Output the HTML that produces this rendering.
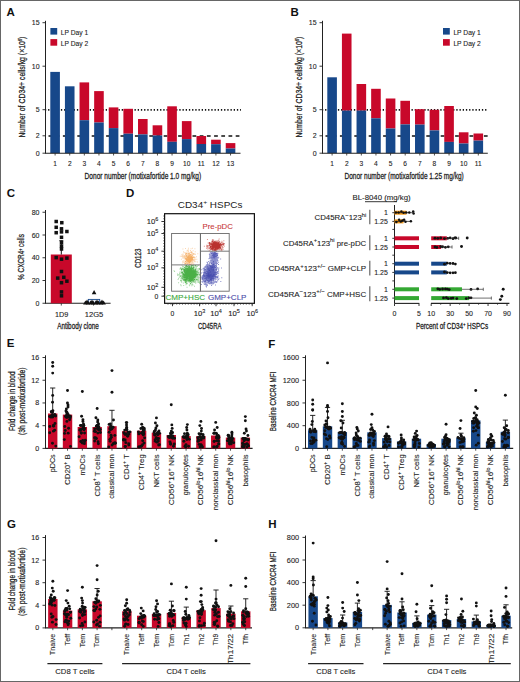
<!DOCTYPE html>
<html><head><meta charset="utf-8"><style>
html,body{margin:0;padding:0;background:#fff;}
svg{display:block;}
svg{font-family:"Liberation Sans",sans-serif;}
</style></head><body>
<svg width="520" height="682" viewBox="0 0 520 682">
<rect x="0" y="0" width="520" height="682" fill="#fff"/>
<g fill="#222">
<rect x="0.5" y="0.5" width="519" height="681" fill="none" stroke="#666" stroke-width="1"/>
<text x="6.6" y="16.3" font-size="11.5" font-weight="bold" fill="#111">A</text>
<line x1="45.5" y1="109.9" x2="241" y2="109.9" stroke="#111" stroke-width="1.7" stroke-dasharray="1.3 1.9" stroke-dashoffset="0.6"/>
<line x1="45.5" y1="135.9" x2="241" y2="135.9" stroke="#111" stroke-width="1.5" stroke-dasharray="3.75 3.45" stroke-dashoffset="4.2"/>
<line x1="45.5" y1="20.8" x2="45.5" y2="153.7" stroke="#222" stroke-width="1"/>
<rect x="50.3" y="71.9" width="9.6" height="81.3" fill="#17488a"/>
<line x1="55.1" y1="153.2" x2="55.1" y2="155.5" stroke="#222" stroke-width="0.8"/>
<text x="55.1" y="166.2" font-size="6.6" stroke="#222" stroke-width="0.1" text-anchor="middle">1</text>
<rect x="64.92" y="86.3" width="9.6" height="66.9" fill="#17488a"/>
<line x1="69.72" y1="153.2" x2="69.72" y2="155.5" stroke="#222" stroke-width="0.8"/>
<text x="69.72" y="166.2" font-size="6.6" stroke="#222" stroke-width="0.1" text-anchor="middle">2</text>
<rect x="79.54" y="82.4" width="9.6" height="37.8" fill="#c8082a"/>
<rect x="79.54" y="120.2" width="9.6" height="33" fill="#17488a"/>
<line x1="84.34" y1="153.2" x2="84.34" y2="155.5" stroke="#222" stroke-width="0.8"/>
<text x="84.34" y="166.2" font-size="6.6" stroke="#222" stroke-width="0.1" text-anchor="middle">3</text>
<rect x="94.16" y="91.1" width="9.6" height="31.4" fill="#c8082a"/>
<rect x="94.16" y="122.5" width="9.6" height="30.7" fill="#17488a"/>
<line x1="98.96" y1="153.2" x2="98.96" y2="155.5" stroke="#222" stroke-width="0.8"/>
<text x="98.96" y="166.2" font-size="6.6" stroke="#222" stroke-width="0.1" text-anchor="middle">4</text>
<rect x="108.78" y="107.4" width="9.6" height="20.7" fill="#c8082a"/>
<rect x="108.78" y="128.1" width="9.6" height="25.1" fill="#17488a"/>
<line x1="113.58" y1="153.2" x2="113.58" y2="155.5" stroke="#222" stroke-width="0.8"/>
<text x="113.58" y="166.2" font-size="6.6" stroke="#222" stroke-width="0.1" text-anchor="middle">5</text>
<rect x="123.4" y="108.8" width="9.6" height="24.9" fill="#c8082a"/>
<rect x="123.4" y="133.7" width="9.6" height="19.5" fill="#17488a"/>
<line x1="128.2" y1="153.2" x2="128.2" y2="155.5" stroke="#222" stroke-width="0.8"/>
<text x="128.2" y="166.2" font-size="6.6" stroke="#222" stroke-width="0.1" text-anchor="middle">6</text>
<rect x="138.02" y="119" width="9.6" height="15.4" fill="#c8082a"/>
<rect x="138.02" y="134.4" width="9.6" height="18.8" fill="#17488a"/>
<line x1="142.82" y1="153.2" x2="142.82" y2="155.5" stroke="#222" stroke-width="0.8"/>
<text x="142.82" y="166.2" font-size="6.6" stroke="#222" stroke-width="0.1" text-anchor="middle">7</text>
<rect x="152.64" y="125.3" width="9.6" height="10.2" fill="#c8082a"/>
<rect x="152.64" y="135.5" width="9.6" height="17.7" fill="#17488a"/>
<line x1="157.44" y1="153.2" x2="157.44" y2="155.5" stroke="#222" stroke-width="0.8"/>
<text x="157.44" y="166.2" font-size="6.6" stroke="#222" stroke-width="0.1" text-anchor="middle">8</text>
<rect x="167.26" y="106.3" width="9.6" height="35.5" fill="#c8082a"/>
<rect x="167.26" y="141.8" width="9.6" height="11.4" fill="#17488a"/>
<line x1="172.06" y1="153.2" x2="172.06" y2="155.5" stroke="#222" stroke-width="0.8"/>
<text x="172.06" y="166.2" font-size="6.6" stroke="#222" stroke-width="0.1" text-anchor="middle">9</text>
<rect x="181.88" y="121.1" width="9.6" height="18" fill="#c8082a"/>
<rect x="181.88" y="139.1" width="9.6" height="14.1" fill="#17488a"/>
<line x1="186.68" y1="153.2" x2="186.68" y2="155.5" stroke="#222" stroke-width="0.8"/>
<text x="186.68" y="166.2" font-size="6.6" stroke="#222" stroke-width="0.1" text-anchor="middle">10</text>
<rect x="196.5" y="136" width="9.6" height="8" fill="#c8082a"/>
<rect x="196.5" y="144" width="9.6" height="9.2" fill="#17488a"/>
<line x1="201.3" y1="153.2" x2="201.3" y2="155.5" stroke="#222" stroke-width="0.8"/>
<text x="201.3" y="166.2" font-size="6.6" stroke="#222" stroke-width="0.1" text-anchor="middle">11</text>
<rect x="211.12" y="139.7" width="9.6" height="4.5" fill="#c8082a"/>
<rect x="211.12" y="144.2" width="9.6" height="9" fill="#17488a"/>
<line x1="215.92" y1="153.2" x2="215.92" y2="155.5" stroke="#222" stroke-width="0.8"/>
<text x="215.92" y="166.2" font-size="6.6" stroke="#222" stroke-width="0.1" text-anchor="middle">12</text>
<rect x="225.74" y="143.1" width="9.6" height="5.4" fill="#c8082a"/>
<rect x="225.74" y="148.5" width="9.6" height="4.7" fill="#17488a"/>
<line x1="230.54" y1="153.2" x2="230.54" y2="155.5" stroke="#222" stroke-width="0.8"/>
<text x="230.54" y="166.2" font-size="6.6" stroke="#222" stroke-width="0.1" text-anchor="middle">13</text>
<line x1="45.5" y1="153.2" x2="240.5" y2="153.2" stroke="#222" stroke-width="1.1"/>
<line x1="42.5" y1="22.7" x2="45.5" y2="22.7" stroke="#222" stroke-width="0.9"/>
<text x="39.6" y="25.2" font-size="7" stroke="#222" stroke-width="0.1" text-anchor="end">15</text>
<line x1="42.5" y1="66.2" x2="45.5" y2="66.2" stroke="#222" stroke-width="0.9"/>
<text x="39.6" y="68.7" font-size="7" stroke="#222" stroke-width="0.1" text-anchor="end">10</text>
<line x1="42.5" y1="109.7" x2="45.5" y2="109.7" stroke="#222" stroke-width="0.9"/>
<text x="39.6" y="112.2" font-size="7" stroke="#222" stroke-width="0.1" text-anchor="end">5</text>
<line x1="42.5" y1="135.8" x2="45.5" y2="135.8" stroke="#222" stroke-width="0.9"/>
<text x="39.6" y="138.3" font-size="7" stroke="#222" stroke-width="0.1" text-anchor="end">2</text>
<line x1="42.5" y1="153.2" x2="45.5" y2="153.2" stroke="#222" stroke-width="0.9"/>
<text x="39.6" y="155.7" font-size="7" stroke="#222" stroke-width="0.1" text-anchor="end">0</text>
<text x="25.2" y="87.1" font-size="9.2" stroke="#222" stroke-width="0.26" text-anchor="middle" textLength="101" lengthAdjust="spacingAndGlyphs" transform="rotate(-90 25.2 87.1)">Number of CD34+ cells/kg (×10<tspan dy="-3.38" font-size="5.5">6</tspan><tspan dy="3.38">)</tspan></text>
<text x="84.6" y="179.1" font-size="8.6" stroke="#222" stroke-width="0.26" textLength="116.6" lengthAdjust="spacingAndGlyphs">Donor number (motixafortide 1.0 mg/kg)</text>
<rect x="50.4" y="28" width="6.8" height="6.6" fill="#17488a"/>
<rect x="50.4" y="39.1" width="6.8" height="6.6" fill="#c8082a"/>
<text x="60.8" y="34.6" font-size="7.3" stroke="#222" stroke-width="0.1" textLength="27.4" lengthAdjust="spacingAndGlyphs">LP Day 1</text>
<text x="60.8" y="45.6" font-size="7.3" stroke="#222" stroke-width="0.1" textLength="27.4" lengthAdjust="spacingAndGlyphs">LP Day 2</text>
<text x="290.6" y="15.7" font-size="11.5" font-weight="bold" fill="#111">B</text>
<line x1="322.5" y1="109.9" x2="488.3" y2="109.9" stroke="#111" stroke-width="1.7" stroke-dasharray="1.3 1.9" stroke-dashoffset="0.6"/>
<line x1="322.5" y1="135.9" x2="488.3" y2="135.9" stroke="#111" stroke-width="1.5" stroke-dasharray="3.75 3.45" stroke-dashoffset="4.2"/>
<line x1="322.5" y1="20.8" x2="322.5" y2="153.7" stroke="#222" stroke-width="1"/>
<rect x="327.3" y="77.3" width="9.6" height="75.9" fill="#17488a"/>
<line x1="332.1" y1="153.2" x2="332.1" y2="155.5" stroke="#222" stroke-width="0.8"/>
<text x="332.1" y="166.2" font-size="6.6" stroke="#222" stroke-width="0.1" text-anchor="middle">1</text>
<rect x="341.92" y="33.6" width="9.6" height="77" fill="#c8082a"/>
<rect x="341.92" y="110.6" width="9.6" height="42.6" fill="#17488a"/>
<line x1="346.72" y1="153.2" x2="346.72" y2="155.5" stroke="#222" stroke-width="0.8"/>
<text x="346.72" y="166.2" font-size="6.6" stroke="#222" stroke-width="0.1" text-anchor="middle">2</text>
<rect x="356.54" y="84" width="9.6" height="26.6" fill="#c8082a"/>
<rect x="356.54" y="110.6" width="9.6" height="42.6" fill="#17488a"/>
<line x1="361.34" y1="153.2" x2="361.34" y2="155.5" stroke="#222" stroke-width="0.8"/>
<text x="361.34" y="166.2" font-size="6.6" stroke="#222" stroke-width="0.1" text-anchor="middle">3</text>
<rect x="371.16" y="88.8" width="9.6" height="29.5" fill="#c8082a"/>
<rect x="371.16" y="118.3" width="9.6" height="34.9" fill="#17488a"/>
<line x1="375.96" y1="153.2" x2="375.96" y2="155.5" stroke="#222" stroke-width="0.8"/>
<text x="375.96" y="166.2" font-size="6.6" stroke="#222" stroke-width="0.1" text-anchor="middle">4</text>
<rect x="385.78" y="98.5" width="9.6" height="30" fill="#c8082a"/>
<rect x="385.78" y="128.5" width="9.6" height="24.7" fill="#17488a"/>
<line x1="390.58" y1="153.2" x2="390.58" y2="155.5" stroke="#222" stroke-width="0.8"/>
<text x="390.58" y="166.2" font-size="6.6" stroke="#222" stroke-width="0.1" text-anchor="middle">5</text>
<rect x="400.4" y="100.8" width="9.6" height="23.6" fill="#c8082a"/>
<rect x="400.4" y="124.4" width="9.6" height="28.8" fill="#17488a"/>
<line x1="405.2" y1="153.2" x2="405.2" y2="155.5" stroke="#222" stroke-width="0.8"/>
<text x="405.2" y="166.2" font-size="6.6" stroke="#222" stroke-width="0.1" text-anchor="middle">6</text>
<rect x="415.02" y="109.2" width="9.6" height="15.4" fill="#c8082a"/>
<rect x="415.02" y="124.6" width="9.6" height="28.6" fill="#17488a"/>
<line x1="419.82" y1="153.2" x2="419.82" y2="155.5" stroke="#222" stroke-width="0.8"/>
<text x="419.82" y="166.2" font-size="6.6" stroke="#222" stroke-width="0.1" text-anchor="middle">7</text>
<rect x="429.64" y="109.8" width="9.6" height="20.6" fill="#c8082a"/>
<rect x="429.64" y="130.4" width="9.6" height="22.8" fill="#17488a"/>
<line x1="434.44" y1="153.2" x2="434.44" y2="155.5" stroke="#222" stroke-width="0.8"/>
<text x="434.44" y="166.2" font-size="6.6" stroke="#222" stroke-width="0.1" text-anchor="middle">8</text>
<rect x="444.26" y="106" width="9.6" height="35.9" fill="#c8082a"/>
<rect x="444.26" y="141.9" width="9.6" height="11.3" fill="#17488a"/>
<line x1="449.06" y1="153.2" x2="449.06" y2="155.5" stroke="#222" stroke-width="0.8"/>
<text x="449.06" y="166.2" font-size="6.6" stroke="#222" stroke-width="0.1" text-anchor="middle">9</text>
<rect x="458.88" y="132.3" width="9.6" height="11.2" fill="#c8082a"/>
<rect x="458.88" y="143.5" width="9.6" height="9.7" fill="#17488a"/>
<line x1="463.68" y1="153.2" x2="463.68" y2="155.5" stroke="#222" stroke-width="0.8"/>
<text x="463.68" y="166.2" font-size="6.6" stroke="#222" stroke-width="0.1" text-anchor="middle">10</text>
<rect x="473.5" y="133.5" width="9.6" height="7.1" fill="#c8082a"/>
<rect x="473.5" y="140.6" width="9.6" height="12.6" fill="#17488a"/>
<line x1="478.3" y1="153.2" x2="478.3" y2="155.5" stroke="#222" stroke-width="0.8"/>
<text x="478.3" y="166.2" font-size="6.6" stroke="#222" stroke-width="0.1" text-anchor="middle">11</text>
<line x1="322.5" y1="153.2" x2="487.8" y2="153.2" stroke="#222" stroke-width="1.1"/>
<line x1="319.5" y1="22.7" x2="322.5" y2="22.7" stroke="#222" stroke-width="0.9"/>
<text x="316.6" y="25.2" font-size="7" stroke="#222" stroke-width="0.1" text-anchor="end">15</text>
<line x1="319.5" y1="66.2" x2="322.5" y2="66.2" stroke="#222" stroke-width="0.9"/>
<text x="316.6" y="68.7" font-size="7" stroke="#222" stroke-width="0.1" text-anchor="end">10</text>
<line x1="319.5" y1="109.7" x2="322.5" y2="109.7" stroke="#222" stroke-width="0.9"/>
<text x="316.6" y="112.2" font-size="7" stroke="#222" stroke-width="0.1" text-anchor="end">5</text>
<line x1="319.5" y1="135.8" x2="322.5" y2="135.8" stroke="#222" stroke-width="0.9"/>
<text x="316.6" y="138.3" font-size="7" stroke="#222" stroke-width="0.1" text-anchor="end">2</text>
<line x1="319.5" y1="153.2" x2="322.5" y2="153.2" stroke="#222" stroke-width="0.9"/>
<text x="316.6" y="155.7" font-size="7" stroke="#222" stroke-width="0.1" text-anchor="end">0</text>
<text x="302.2" y="87.1" font-size="9.2" stroke="#222" stroke-width="0.26" text-anchor="middle" textLength="101" lengthAdjust="spacingAndGlyphs" transform="rotate(-90 302.2 87.1)">Number of CD34+ cells/kg (×10<tspan dy="-3.38" font-size="5.5">6</tspan><tspan dy="3.38">)</tspan></text>
<text x="344.5" y="179.1" font-size="8.6" stroke="#222" stroke-width="0.26" textLength="119.3" lengthAdjust="spacingAndGlyphs">Donor number (motixafortide 1.25 mg/kg)</text>
<rect x="443" y="28" width="6.8" height="6.6" fill="#17488a"/>
<rect x="443" y="39.1" width="6.8" height="6.6" fill="#c8082a"/>
<text x="453.4" y="34.6" font-size="7.3" stroke="#222" stroke-width="0.1" textLength="27.4" lengthAdjust="spacingAndGlyphs">LP Day 1</text>
<text x="453.4" y="45.6" font-size="7.3" stroke="#222" stroke-width="0.1" textLength="27.4" lengthAdjust="spacingAndGlyphs">LP Day 2</text>
<text x="6.7" y="197.3" font-size="11.5" font-weight="bold" fill="#111">C</text>
<line x1="45.5" y1="210" x2="45.5" y2="303.75" stroke="#222" stroke-width="1"/>
<line x1="45.5" y1="303.25" x2="110.6" y2="303.25" stroke="#222" stroke-width="1.1"/>
<line x1="42.5" y1="212.25" x2="45.5" y2="212.25" stroke="#222" stroke-width="0.9"/>
<text x="39.5" y="214.75" font-size="7" stroke="#222" stroke-width="0.1" text-anchor="end">80</text>
<line x1="42.5" y1="235" x2="45.5" y2="235" stroke="#222" stroke-width="0.9"/>
<text x="39.5" y="237.5" font-size="7" stroke="#222" stroke-width="0.1" text-anchor="end">60</text>
<line x1="42.5" y1="257.75" x2="45.5" y2="257.75" stroke="#222" stroke-width="0.9"/>
<text x="39.5" y="260.25" font-size="7" stroke="#222" stroke-width="0.1" text-anchor="end">40</text>
<line x1="42.5" y1="280.5" x2="45.5" y2="280.5" stroke="#222" stroke-width="0.9"/>
<text x="39.5" y="283" font-size="7" stroke="#222" stroke-width="0.1" text-anchor="end">20</text>
<line x1="42.5" y1="303.25" x2="45.5" y2="303.25" stroke="#222" stroke-width="0.9"/>
<text x="39.5" y="305.75" font-size="7" stroke="#222" stroke-width="0.1" text-anchor="end">0</text>
<rect x="50.8" y="254.5" width="21" height="48.75" fill="#c8082a"/>
<line x1="61.3" y1="254.5" x2="61.3" y2="240.5" stroke="#111" stroke-width="1"/>
<line x1="59.3" y1="240.7" x2="63.3" y2="240.7" stroke="#111" stroke-width="1"/>
<rect x="54.45" y="219.75" width="3.5" height="3.5" fill="#111"/>
<rect x="60.05" y="220.95" width="3.5" height="3.5" fill="#111"/>
<rect x="54.45" y="225.55" width="3.5" height="3.5" fill="#111"/>
<rect x="59.75" y="227.05" width="3.5" height="3.5" fill="#111"/>
<rect x="54.45" y="230.95" width="3.5" height="3.5" fill="#111"/>
<rect x="59.75" y="230.15" width="3.5" height="3.5" fill="#111"/>
<rect x="65.15" y="229.75" width="3.5" height="3.5" fill="#111"/>
<rect x="59.75" y="235.55" width="3.5" height="3.5" fill="#111"/>
<rect x="59.75" y="240.95" width="3.5" height="3.5" fill="#111"/>
<rect x="59.75" y="244.45" width="3.5" height="3.5" fill="#111"/>
<rect x="59.75" y="247.25" width="3.5" height="3.5" fill="#111"/>
<rect x="54.45" y="255.85" width="3.5" height="3.5" fill="#111"/>
<rect x="59.75" y="257.45" width="3.5" height="3.5" fill="#111"/>
<rect x="65.15" y="256.35" width="3.5" height="3.5" fill="#111"/>
<rect x="59.75" y="269.75" width="3.5" height="3.5" fill="#111"/>
<rect x="55.95" y="276.35" width="3.5" height="3.5" fill="#111"/>
<rect x="62.05" y="275.55" width="3.5" height="3.5" fill="#111"/>
<rect x="59.75" y="280.95" width="3.5" height="3.5" fill="#111"/>
<rect x="65.15" y="279.45" width="3.5" height="3.5" fill="#111"/>
<rect x="59.75" y="290.15" width="3.5" height="3.5" fill="#111"/>
<rect x="59.75" y="294.05" width="3.5" height="3.5" fill="#111"/>
<line x1="61.3" y1="303.25" x2="61.3" y2="305.55" stroke="#222" stroke-width="0.8"/>
<line x1="93.5" y1="303.25" x2="93.5" y2="305.55" stroke="#222" stroke-width="0.8"/>
<rect x="88.3" y="299.4" width="11.4" height="3.8" fill="#e8eef8" stroke="#17488a" stroke-width="0.9"/>
<path d="M83.1 304.6 l2.3 -4 l2.3 4z" fill="#111"/>
<path d="M85.7 304.6 l2.3 -4 l2.3 4z" fill="#111"/>
<path d="M88.3 304.6 l2.3 -4 l2.3 4z" fill="#111"/>
<path d="M90.9 304.6 l2.3 -4 l2.3 4z" fill="#111"/>
<path d="M93.5 304.6 l2.3 -4 l2.3 4z" fill="#111"/>
<path d="M96.1 304.6 l2.3 -4 l2.3 4z" fill="#111"/>
<path d="M98.7 304.6 l2.3 -4 l2.3 4z" fill="#111"/>
<path d="M101.3 304.6 l2.3 -4 l2.3 4z" fill="#111"/>
<path d="M84.8 303.4 l2.2 -3.8 l2.2 3.8z" fill="#111"/>
<path d="M89.8 303.4 l2.2 -3.8 l2.2 3.8z" fill="#111"/>
<path d="M94.8 303.4 l2.2 -3.8 l2.2 3.8z" fill="#111"/>
<path d="M99.8 303.4 l2.2 -3.8 l2.2 3.8z" fill="#111"/>
<path d="M91.8 294.3 l2.3 -4.2 l2.3 4.2z" fill="#111"/>
<text x="61.6" y="316.6" font-size="7" stroke="#222" stroke-width="0.1" text-anchor="middle" textLength="13.3" lengthAdjust="spacingAndGlyphs">1D9</text>
<text x="94" y="316.6" font-size="7" stroke="#222" stroke-width="0.1" text-anchor="middle" textLength="18.6" lengthAdjust="spacingAndGlyphs">12G5</text>
<text x="57.2" y="328.6" font-size="8.6" stroke="#222" stroke-width="0.26" textLength="41.6" lengthAdjust="spacingAndGlyphs">Antibody clone</text>
<text x="24.4" y="257" font-size="8.8" stroke="#222" stroke-width="0.26" text-anchor="middle" textLength="45.8" lengthAdjust="spacingAndGlyphs" transform="rotate(-90 24.4 257)">% CXCR4<tspan dy="-2.86" font-size="5">+</tspan><tspan dy="2.86"> cells</tspan></text>
<text x="126" y="197.1" font-size="11.5" font-weight="bold" fill="#111">D</text>
<text x="177.8" y="208.2" font-size="8.8" textLength="64.6" lengthAdjust="spacingAndGlyphs">CD34<tspan dy="-3.9" font-size="6">+</tspan><tspan dy="3.9"> HSPCs</tspan></text>
<rect x="164.6" y="213.7" width="89.8" height="89.6" fill="none" stroke="#111" stroke-width="1.2"/>
<defs><clipPath id="cO"><rect x="171.6" y="233.5" width="28.8" height="31.4"/></clipPath><clipPath id="cG"><rect x="168" y="264.9" width="32.4" height="28"/></clipPath><clipPath id="cR"><rect x="200.4" y="233.5" width="28.8" height="17.7"/></clipPath><clipPath id="cB"><rect x="200.4" y="251.2" width="28.8" height="42"/></clipPath></defs>
<path d="M187.68 259.34h1v1h-1zM187.78 256.37h1v1h-1zM185.52 256.73h1v1h-1zM192.06 259.03h1v1h-1zM191.82 258.4h1v1h-1zM189.76 258.17h1v1h-1zM183.17 260.58h1v1h-1zM190.12 259.3h1v1h-1zM183.09 251.22h1v1h-1zM185.65 255.81h1v1h-1zM189.48 257.33h1v1h-1zM190.17 255.19h1v1h-1zM189.49 258.92h1v1h-1zM186.38 263.68h1v1h-1zM190.28 261.81h1v1h-1zM186.51 254.84h1v1h-1zM187.4 257.12h1v1h-1zM190.52 258.39h1v1h-1zM187.07 254.06h1v1h-1zM186.83 261.9h1v1h-1zM185.91 258.38h1v1h-1zM189.86 252.14h1v1h-1zM188.66 262.2h1v1h-1zM182.05 256.34h1v1h-1zM188.16 254.56h1v1h-1zM190.09 257.28h1v1h-1zM183.81 260.48h1v1h-1zM190.64 260.91h1v1h-1zM193.11 258.8h1v1h-1zM188.88 252.82h1v1h-1zM190.47 255.3h1v1h-1zM187.05 252.95h1v1h-1zM185.4 255.59h1v1h-1zM192.62 250.19h1v1h-1zM183.84 258.36h1v1h-1zM193.12 259.58h1v1h-1zM182.42 248.43h1v1h-1zM189.64 254.85h1v1h-1zM184.92 261.02h1v1h-1zM192.03 258.07h1v1h-1zM189.29 259.06h1v1h-1zM193.6 259.73h1v1h-1zM190.16 259.47h1v1h-1zM183.48 262.11h1v1h-1zM191.56 259.41h1v1h-1zM182.18 255.22h1v1h-1zM191.2 250.98h1v1h-1zM187.91 261.17h1v1h-1zM184.3 263.3h1v1h-1zM190.27 256.96h1v1h-1zM189.54 259.84h1v1h-1zM188.89 261.62h1v1h-1zM186.38 256.01h1v1h-1zM191.83 257.6h1v1h-1zM185.68 260.91h1v1h-1zM193.19 255.9h1v1h-1zM184.08 257.01h1v1h-1zM188.02 256.43h1v1h-1zM193 253.8h1v1h-1zM192.53 252.93h1v1h-1zM185.98 259.77h1v1h-1zM192.11 260.59h1v1h-1zM189.6 258.01h1v1h-1zM188.99 259.57h1v1h-1zM187.94 258.5h1v1h-1zM190.33 257.5h1v1h-1zM190.94 259.54h1v1h-1zM194.93 258.67h1v1h-1zM187.13 256.16h1v1h-1zM188.46 260.83h1v1h-1zM187.42 258.89h1v1h-1zM194.38 248.27h1v1h-1zM184.9 258.38h1v1h-1zM189.77 258.36h1v1h-1zM187.12 259.86h1v1h-1zM189.4 255.62h1v1h-1zM196.28 258.78h1v1h-1zM186.73 257.14h1v1h-1zM187.78 257.27h1v1h-1zM179.77 255.75h1v1h-1zM191.73 253.29h1v1h-1zM188.29 260.93h1v1h-1zM191.24 262.87h1v1h-1zM183.06 256.23h1v1h-1zM187.41 259.74h1v1h-1zM191.99 247.84h1v1h-1zM191.98 252.29h1v1h-1zM190.69 252.13h1v1h-1zM189.06 261.8h1v1h-1zM188.02 258.19h1v1h-1zM191.05 258.01h1v1h-1zM188.22 263.02h1v1h-1zM191.86 256.44h1v1h-1zM197.29 253.37h1v1h-1zM191.43 256.54h1v1h-1zM188.92 260.04h1v1h-1zM189.21 259.8h1v1h-1zM183.61 252.07h1v1h-1zM190.47 254.03h1v1h-1zM185.21 252.21h1v1h-1zM192.55 260.19h1v1h-1zM193.21 254.12h1v1h-1zM188.5 253.39h1v1h-1zM190.95 263.22h1v1h-1zM185.65 263.12h1v1h-1zM191.66 256.86h1v1h-1zM182.19 262.56h1v1h-1zM188.19 255.33h1v1h-1zM189.78 258.98h1v1h-1zM193.29 253.83h1v1h-1zM192.14 262.85h1v1h-1zM193.15 256.85h1v1h-1zM186.12 261.17h1v1h-1zM188.87 257.95h1v1h-1zM193.06 256.55h1v1h-1zM181.15 256.11h1v1h-1zM182.57 260.45h1v1h-1zM189.51 255.3h1v1h-1zM188.47 260.5h1v1h-1zM188.75 262.28h1v1h-1zM188.3 261.25h1v1h-1zM193.27 263.3h1v1h-1zM186.35 260.67h1v1h-1zM182.5 253.6h1v1h-1zM182.22 261.35h1v1h-1zM184.56 257.45h1v1h-1zM187.88 257.4h1v1h-1zM186.61 258.34h1v1h-1zM194.23 257.66h1v1h-1zM190.2 261.1h1v1h-1zM187.87 252.97h1v1h-1zM186.72 261.36h1v1h-1zM183.23 255.35h1v1h-1zM191.72 260.35h1v1h-1zM188.52 260.4h1v1h-1zM189.03 253.26h1v1h-1zM183.5 255.2h1v1h-1zM191.45 255.46h1v1h-1zM185.61 254.72h1v1h-1zM183.6 257.08h1v1h-1zM184.73 258.81h1v1h-1zM180.95 258.68h1v1h-1zM186.45 250.51h1v1h-1zM190.82 256.51h1v1h-1zM181.36 254.35h1v1h-1zM189.43 255.85h1v1h-1zM191 260.19h1v1h-1zM190.63 258.68h1v1h-1zM192.77 259.88h1v1h-1zM189.94 250h1v1h-1zM191.37 262.21h1v1h-1zM187.55 255.81h1v1h-1zM194.71 251.17h1v1h-1zM190 266.23h1v1h-1zM185.53 259.98h1v1h-1zM194.54 257.07h1v1h-1zM190.3 260.75h1v1h-1zM185.6 257.18h1v1h-1zM189.44 260.47h1v1h-1zM188.39 256.8h1v1h-1zM185.25 256.21h1v1h-1zM191.35 257.87h1v1h-1zM185.77 254.47h1v1h-1zM197.03 261.6h1v1h-1zM190.54 248.17h1v1h-1zM190.49 259.23h1v1h-1zM193.89 259.04h1v1h-1zM188.28 259.38h1v1h-1zM182.28 261.22h1v1h-1zM189.54 254.97h1v1h-1zM192.74 264.01h1v1h-1zM184.01 255.1h1v1h-1zM189.43 258.16h1v1h-1zM187.22 253.99h1v1h-1zM195.29 261.23h1v1h-1zM184.68 252.66h1v1h-1zM193.95 261.06h1v1h-1zM194.33 260.42h1v1h-1zM185.71 258.44h1v1h-1zM181.59 254.81h1v1h-1zM188.31 259.38h1v1h-1zM186.17 257.05h1v1h-1zM189.97 258.86h1v1h-1zM190.54 258.25h1v1h-1zM187.46 260.34h1v1h-1zM188.66 254.53h1v1h-1zM186.5 257.5h1v1h-1zM188.15 258.07h1v1h-1zM188.5 258.13h1v1h-1zM188.07 252.97h1v1h-1zM189.85 261.29h1v1h-1zM189.89 256.82h1v1h-1zM189.93 254.02h1v1h-1zM182.43 257.71h1v1h-1zM185.52 260.16h1v1h-1zM185.03 248.04h1v1h-1zM185.17 263.18h1v1h-1zM187.28 252.57h1v1h-1zM186.06 259.38h1v1h-1zM190.09 258.14h1v1h-1zM193.25 260.04h1v1h-1zM188.43 259.65h1v1h-1zM193.79 261h1v1h-1zM191.78 253.6h1v1h-1zM188.03 260.13h1v1h-1zM187.55 261.35h1v1h-1zM190.41 260.77h1v1h-1zM187.82 266.67h1v1h-1zM192.47 256.72h1v1h-1zM188.79 266.84h1v1h-1zM187.4 260.65h1v1h-1zM191.64 257.52h1v1h-1zM184.77 258.18h1v1h-1zM189.65 261.57h1v1h-1zM191.01 257.59h1v1h-1zM191.23 259.44h1v1h-1zM189.16 257.7h1v1h-1zM187.72 259.97h1v1h-1zM185.13 255.24h1v1h-1zM188.52 252.23h1v1h-1zM187.11 250.27h1v1h-1zM186.31 259.55h1v1h-1zM190.31 257.3h1v1h-1zM187.76 252.4h1v1h-1zM194.35 259.36h1v1h-1zM192 254.32h1v1h-1zM187.91 250.95h1v1h-1zM191 260.87h1v1h-1zM182.43 257.31h1v1h-1zM190.52 251.16h1v1h-1zM182.66 253.67h1v1h-1zM186.49 252.45h1v1h-1zM188.6 258.4h1v1h-1zM190.53 260.03h1v1h-1zM193.31 261.69h1v1h-1zM184.3 255.68h1v1h-1zM185.11 253.62h1v1h-1zM188.24 257.52h1v1h-1zM190.07 251.79h1v1h-1zM184.54 257.42h1v1h-1zM187.86 256.38h1v1h-1zM188.3 254.76h1v1h-1zM190.74 258.78h1v1h-1zM188.22 255.08h1v1h-1zM187.94 247.7h1v1h-1zM185.36 257.63h1v1h-1zM183.69 258.22h1v1h-1zM188.97 252.54h1v1h-1zM187.7 256.37h1v1h-1zM189.97 259.7h1v1h-1zM188.38 254.44h1v1h-1zM188.04 257.26h1v1h-1zM190.85 258.56h1v1h-1zM186.19 252.62h1v1h-1zM187.31 254.83h1v1h-1zM184.94 257.08h1v1h-1zM186.93 257.88h1v1h-1zM190.17 256.01h1v1h-1zM195.94 256.34h1v1h-1zM192.03 257.94h1v1h-1z" fill="#f6b06a" fill-opacity="0.5" clip-path="url(#cO)"/>
<path d="M190.96 252.32h1v1h-1zM186.85 259.14h1v1h-1zM189.83 264.57h1v1h-1zM189.21 261.83h1v1h-1zM190.19 260.96h1v1h-1zM189.62 258.09h1v1h-1zM189.62 255.7h1v1h-1zM191.1 255.86h1v1h-1zM189.05 264.01h1v1h-1zM188.01 258.55h1v1h-1zM191.06 258.57h1v1h-1zM186.72 259.17h1v1h-1zM189.78 260.35h1v1h-1zM186.8 263.06h1v1h-1zM192.17 258.55h1v1h-1zM189.09 257.39h1v1h-1zM191.61 256.67h1v1h-1zM189.98 257.25h1v1h-1zM186.97 260.37h1v1h-1zM191.43 258.47h1v1h-1zM187.01 260.61h1v1h-1zM188.39 259.31h1v1h-1zM191.85 261.44h1v1h-1zM187.36 264.44h1v1h-1zM188.51 260.54h1v1h-1zM187.08 258.38h1v1h-1zM184.65 263.15h1v1h-1zM191.5 255.34h1v1h-1zM185.19 254.29h1v1h-1zM191.09 257.31h1v1h-1zM188.37 257.69h1v1h-1zM188.23 255.67h1v1h-1zM188.55 254.76h1v1h-1zM188.34 259.3h1v1h-1zM189.53 257.9h1v1h-1zM186.51 258.91h1v1h-1zM187.43 262.57h1v1h-1zM190.19 258.2h1v1h-1zM187.46 256.67h1v1h-1zM186.44 257.58h1v1h-1zM189.15 259.84h1v1h-1zM189.75 263.96h1v1h-1zM186.95 258.53h1v1h-1zM194.65 253.65h1v1h-1zM187.35 258.94h1v1h-1zM188.84 259.56h1v1h-1zM187.97 259.45h1v1h-1zM188.62 260.51h1v1h-1zM184.34 256.2h1v1h-1zM188.5 255.82h1v1h-1zM186.2 260.13h1v1h-1zM187.07 260.15h1v1h-1zM190.14 259.3h1v1h-1zM189.62 258.23h1v1h-1zM185.4 258.42h1v1h-1zM189.5 257.12h1v1h-1zM188.28 260.45h1v1h-1zM186.57 260.16h1v1h-1zM192.6 257.06h1v1h-1zM188.82 258.11h1v1h-1zM191.89 259.32h1v1h-1zM190.48 256.71h1v1h-1zM188.46 258.47h1v1h-1zM184.59 262.25h1v1h-1zM190.48 253.95h1v1h-1zM190.14 258.16h1v1h-1zM189.49 259.45h1v1h-1zM185.2 257.95h1v1h-1zM191.78 257.01h1v1h-1zM186.25 254.97h1v1h-1zM185.81 259.37h1v1h-1zM192.22 259.62h1v1h-1zM189.04 264.31h1v1h-1zM187.36 256.75h1v1h-1zM189.66 259.93h1v1h-1zM186.27 255.46h1v1h-1zM189.14 259.14h1v1h-1zM185.62 257.97h1v1h-1zM187.31 259.7h1v1h-1zM188.24 258.28h1v1h-1zM187.72 261.24h1v1h-1zM191.56 257.55h1v1h-1zM190.36 256.53h1v1h-1zM188.66 260.45h1v1h-1zM191.83 257.51h1v1h-1zM188.34 259.01h1v1h-1zM185.2 258.54h1v1h-1zM187.01 259.47h1v1h-1zM186.01 253.36h1v1h-1zM188.58 259.18h1v1h-1zM187.29 260.81h1v1h-1zM187.9 256.93h1v1h-1zM189.55 254.42h1v1h-1zM187.01 258.45h1v1h-1zM190.37 258.08h1v1h-1zM189.18 256.8h1v1h-1zM189.16 262.83h1v1h-1zM186.99 264.65h1v1h-1zM187.08 258.54h1v1h-1zM188.88 261.16h1v1h-1zM185.78 253.04h1v1h-1zM189.83 260.57h1v1h-1zM189.87 265.34h1v1h-1zM188.95 259.16h1v1h-1zM190.54 259.46h1v1h-1zM192.16 255.28h1v1h-1zM187.67 249.54h1v1h-1zM190.29 257.53h1v1h-1zM190.53 264.1h1v1h-1zM188.49 257.84h1v1h-1zM187.4 256.32h1v1h-1zM187.11 260.16h1v1h-1zM188.58 258.67h1v1h-1zM188.12 260.88h1v1h-1zM189.59 258.13h1v1h-1zM189.96 258.11h1v1h-1zM185.96 262.28h1v1h-1zM189.52 256.01h1v1h-1zM190.87 259.4h1v1h-1zM185.06 262.69h1v1h-1zM189.23 260.82h1v1h-1zM188.94 258.11h1v1h-1zM185.09 261.03h1v1h-1zM188.57 257.76h1v1h-1zM189.27 258.7h1v1h-1zM189.99 257.54h1v1h-1zM188.42 252.94h1v1h-1zM187.57 260.26h1v1h-1zM191.44 257.55h1v1h-1zM188.23 262.62h1v1h-1zM187.78 260.41h1v1h-1zM192.19 258.6h1v1h-1zM191.2 256.65h1v1h-1zM188.96 258.3h1v1h-1zM188.75 261.44h1v1h-1zM193.76 256.77h1v1h-1zM187.23 259.79h1v1h-1zM186.18 259.79h1v1h-1zM189.76 257.78h1v1h-1zM189.67 254.47h1v1h-1zM190.17 254.48h1v1h-1zM186.97 257.05h1v1h-1zM187.62 260.73h1v1h-1zM188.68 257.47h1v1h-1zM189.7 262.61h1v1h-1zM188.51 259.45h1v1h-1zM191.23 259.2h1v1h-1zM185.68 264.97h1v1h-1zM193.36 253.34h1v1h-1zM188.41 259.58h1v1h-1zM190.62 260.24h1v1h-1zM187.9 255.76h1v1h-1zM188.73 261.19h1v1h-1zM186.1 255.83h1v1h-1zM188.45 253.46h1v1h-1zM187.93 257.37h1v1h-1zM189.49 256.68h1v1h-1zM186.56 257.48h1v1h-1zM188.39 256.77h1v1h-1zM188.53 260.45h1v1h-1z" fill="#f0922e" fill-opacity="0.6" clip-path="url(#cO)"/>
<path d="M194.95 281.5h1v1h-1zM185.9 272.15h1v1h-1zM178.08 282.36h1v1h-1zM186.17 273.85h1v1h-1zM191.9 268.02h1v1h-1zM191.63 273.88h1v1h-1zM181.1 275.28h1v1h-1zM194.99 265.78h1v1h-1zM193.21 274.92h1v1h-1zM191.68 275.94h1v1h-1zM195.5 273.02h1v1h-1zM193.52 272.2h1v1h-1zM192.85 270.42h1v1h-1zM189 281.62h1v1h-1zM191.55 273.3h1v1h-1zM184.23 270.52h1v1h-1zM190.39 278.13h1v1h-1zM191.46 276.31h1v1h-1zM189.31 279.95h1v1h-1zM187.7 271.58h1v1h-1zM193.59 274.28h1v1h-1zM188.22 271.47h1v1h-1zM188.32 276.74h1v1h-1zM191.13 268.68h1v1h-1zM191.46 274.79h1v1h-1zM184.9 277.4h1v1h-1zM188.21 272.52h1v1h-1zM193.16 279.81h1v1h-1zM186.33 275.93h1v1h-1zM185.47 284.18h1v1h-1zM187.23 279.26h1v1h-1zM186.52 277.57h1v1h-1zM199.71 262.82h1v1h-1zM187.5 276.2h1v1h-1zM189.07 271.06h1v1h-1zM199.4 274.35h1v1h-1zM181.94 277.76h1v1h-1zM181.58 279.06h1v1h-1zM186.84 274.64h1v1h-1zM195.3 274.52h1v1h-1zM183.1 266.54h1v1h-1zM194.94 277.26h1v1h-1zM185.75 277.78h1v1h-1zM191.78 276.85h1v1h-1zM179.11 272.67h1v1h-1zM193.64 277.23h1v1h-1zM193.55 263.19h1v1h-1zM190.28 276.17h1v1h-1zM201.24 269.8h1v1h-1zM187.99 274.16h1v1h-1zM193.58 272.05h1v1h-1zM194.78 270.53h1v1h-1zM190.73 271.68h1v1h-1zM190.23 270.96h1v1h-1zM182.15 278.81h1v1h-1zM190.9 271.54h1v1h-1zM190.42 278.36h1v1h-1zM185 273.51h1v1h-1zM191.98 276.32h1v1h-1zM187.96 264.73h1v1h-1zM195.22 275.44h1v1h-1zM189.56 272.77h1v1h-1zM190.71 272.13h1v1h-1zM184.79 270.75h1v1h-1zM186.75 271.31h1v1h-1zM184.17 276.8h1v1h-1zM183.47 276.9h1v1h-1zM184.83 275.55h1v1h-1zM195.82 274.89h1v1h-1zM186.14 274.21h1v1h-1zM190.18 266.37h1v1h-1zM186.7 274.72h1v1h-1zM187.34 274.35h1v1h-1zM192.88 277.37h1v1h-1zM193.67 276.59h1v1h-1zM188.18 273.92h1v1h-1zM188.25 272.62h1v1h-1zM188.67 266.41h1v1h-1zM187.97 273.89h1v1h-1zM185.02 273.89h1v1h-1zM191.87 273.28h1v1h-1zM199.05 262.53h1v1h-1zM188.55 265.97h1v1h-1zM194.01 285.68h1v1h-1zM177.99 274.56h1v1h-1zM191.89 272.67h1v1h-1zM192.04 264.13h1v1h-1zM193.42 275.64h1v1h-1zM189.61 271.41h1v1h-1zM192.44 271.86h1v1h-1zM190.53 271.76h1v1h-1zM179.16 273.86h1v1h-1zM190.43 277.32h1v1h-1zM185.47 273.85h1v1h-1zM192.34 274.64h1v1h-1zM195.22 282.76h1v1h-1zM185.32 265.55h1v1h-1zM193.44 280.73h1v1h-1zM193.74 277.58h1v1h-1zM186.65 270.86h1v1h-1zM193.59 269.99h1v1h-1zM181.16 269.61h1v1h-1zM200.96 282.46h1v1h-1zM186.34 270.79h1v1h-1zM190.56 270.7h1v1h-1zM195.53 273.66h1v1h-1zM184.5 279.76h1v1h-1zM186.82 274.97h1v1h-1zM189.44 272.62h1v1h-1zM190.99 270.95h1v1h-1zM181.02 264.28h1v1h-1zM183.67 270.66h1v1h-1zM189.39 274.24h1v1h-1zM192.06 274.53h1v1h-1zM185.85 270.88h1v1h-1zM179.75 273.26h1v1h-1zM191.73 276.33h1v1h-1zM188.94 273.23h1v1h-1zM193.81 274.07h1v1h-1zM192.89 276.56h1v1h-1zM190.48 279.75h1v1h-1zM186.87 272.42h1v1h-1zM185.78 270.49h1v1h-1zM196.66 281.74h1v1h-1zM189.61 276.5h1v1h-1zM194.91 277.55h1v1h-1zM195.04 268.44h1v1h-1zM186.56 275.99h1v1h-1zM196.1 274.46h1v1h-1zM185.55 272.44h1v1h-1zM186.46 270.22h1v1h-1zM196.41 271.25h1v1h-1zM189.59 283.51h1v1h-1zM194.95 275.48h1v1h-1zM186.69 275.81h1v1h-1zM196.96 276.74h1v1h-1zM195.3 274.43h1v1h-1zM191.87 273.12h1v1h-1zM191.46 279.72h1v1h-1zM182.92 273.72h1v1h-1zM190.61 271.49h1v1h-1zM188.08 277.46h1v1h-1zM198.71 276.77h1v1h-1zM191 267.17h1v1h-1zM198.37 274.34h1v1h-1zM189.34 269.08h1v1h-1zM189.24 269.18h1v1h-1zM189.83 276.05h1v1h-1zM189.64 275.23h1v1h-1zM185.58 280.29h1v1h-1zM186.5 266h1v1h-1zM188.64 270.64h1v1h-1zM184.86 272.44h1v1h-1zM190.84 268.8h1v1h-1zM188.87 280.28h1v1h-1zM192.64 273.33h1v1h-1zM190.09 273.47h1v1h-1zM189.28 277.22h1v1h-1zM189.07 263.42h1v1h-1zM189.4 270.09h1v1h-1zM192.5 271.31h1v1h-1zM190.18 283.58h1v1h-1zM184.68 269.05h1v1h-1zM183.01 263.46h1v1h-1zM180.86 275.6h1v1h-1zM186.56 265.78h1v1h-1zM182.68 276.72h1v1h-1zM185.93 272.39h1v1h-1zM191.02 279.97h1v1h-1zM198.43 278.54h1v1h-1zM190.16 274.81h1v1h-1zM197.79 280.29h1v1h-1zM188.07 276.01h1v1h-1zM190.82 274.23h1v1h-1zM187.2 268.16h1v1h-1zM187.04 267.21h1v1h-1zM195.13 276.36h1v1h-1zM183.95 280.14h1v1h-1zM193.6 265.6h1v1h-1zM197.97 277.56h1v1h-1zM199 268.58h1v1h-1zM191.94 275.86h1v1h-1zM190.43 274.75h1v1h-1zM194.35 267.42h1v1h-1zM183.79 267.87h1v1h-1zM186.93 271.34h1v1h-1zM191.19 275.17h1v1h-1zM189.64 271.02h1v1h-1zM187.47 278.19h1v1h-1zM193.01 274.44h1v1h-1zM188.02 280.83h1v1h-1zM186.77 276.85h1v1h-1zM194.81 272.83h1v1h-1zM193.3 269.09h1v1h-1zM194.16 274.88h1v1h-1zM182.2 276.95h1v1h-1zM185.4 279.64h1v1h-1zM186.38 273.28h1v1h-1zM190.8 272.54h1v1h-1zM190.69 271.57h1v1h-1zM192.59 274.02h1v1h-1zM190.47 261.89h1v1h-1zM194.84 274.14h1v1h-1zM181.3 274.42h1v1h-1zM191.65 278.71h1v1h-1zM184.52 280.81h1v1h-1zM188.77 284.54h1v1h-1zM188.83 276.99h1v1h-1zM187.81 269.09h1v1h-1zM194.54 277.99h1v1h-1zM196.58 277.77h1v1h-1zM186.86 266.69h1v1h-1zM186.51 271.03h1v1h-1zM185.75 276.56h1v1h-1zM191.01 272.81h1v1h-1zM190.29 273.36h1v1h-1zM190.48 277.31h1v1h-1zM193.91 270.98h1v1h-1zM182.57 280.28h1v1h-1zM190.03 278.87h1v1h-1zM181.94 272.55h1v1h-1zM189.62 267.66h1v1h-1zM187.13 277.19h1v1h-1zM194.46 281.01h1v1h-1zM185.53 267.83h1v1h-1zM191.89 278.14h1v1h-1zM190.39 268.27h1v1h-1zM193.1 277.49h1v1h-1zM192.05 271.86h1v1h-1zM190.9 277.48h1v1h-1zM186.93 265.89h1v1h-1zM191.01 276.12h1v1h-1zM189.56 277.91h1v1h-1zM186.8 273.64h1v1h-1zM188.1 276.51h1v1h-1zM196.84 272.89h1v1h-1zM198.95 280.73h1v1h-1zM193.14 276.58h1v1h-1zM197.65 273.21h1v1h-1zM188.99 269.32h1v1h-1zM191.68 279.92h1v1h-1zM191.95 275.86h1v1h-1zM188.58 274.75h1v1h-1zM182.94 278.61h1v1h-1zM187.61 269.14h1v1h-1zM186.04 270.37h1v1h-1zM193.43 278.66h1v1h-1zM183.25 278.08h1v1h-1zM193.59 271.45h1v1h-1zM182.66 270.72h1v1h-1zM186.58 275.51h1v1h-1zM187.85 265.08h1v1h-1zM190.57 267.25h1v1h-1zM193.67 268.69h1v1h-1zM186.31 270.24h1v1h-1zM187 279.71h1v1h-1zM193.42 276.65h1v1h-1zM190.97 267.19h1v1h-1zM187.1 271.57h1v1h-1zM185 276.24h1v1h-1zM186.09 270.88h1v1h-1zM184.7 264.95h1v1h-1zM192.24 279.86h1v1h-1zM190.3 269.7h1v1h-1zM177.06 274.76h1v1h-1zM195.09 275.31h1v1h-1zM193.76 280.5h1v1h-1zM194.68 272.06h1v1h-1zM194.34 277.41h1v1h-1zM182.43 272.22h1v1h-1zM182.95 273.52h1v1h-1zM192.16 269.3h1v1h-1zM180.04 279.71h1v1h-1zM191.23 280.47h1v1h-1zM183.41 278.67h1v1h-1zM199.04 282.83h1v1h-1zM188.53 275.18h1v1h-1zM188.79 278.39h1v1h-1zM194.27 274.38h1v1h-1zM183.25 277.26h1v1h-1zM187.34 276.77h1v1h-1zM190.71 281.14h1v1h-1zM194.73 272.02h1v1h-1zM191.11 281.76h1v1h-1zM187.03 275.91h1v1h-1zM194.98 279.53h1v1h-1zM191.89 268.19h1v1h-1zM183.7 275.09h1v1h-1zM191.28 285.21h1v1h-1zM185.54 279.01h1v1h-1zM193.04 266.65h1v1h-1zM185.74 274.73h1v1h-1zM187.23 273.32h1v1h-1zM191.66 270.44h1v1h-1zM191.65 271.2h1v1h-1zM186.99 276.36h1v1h-1zM186.86 275.26h1v1h-1zM196.86 274.12h1v1h-1zM188.83 277.24h1v1h-1zM187.82 278.76h1v1h-1zM183.6 276.72h1v1h-1zM187.14 270.49h1v1h-1zM197.64 270.26h1v1h-1zM197.58 276.9h1v1h-1zM196.18 269.7h1v1h-1zM195.02 280.41h1v1h-1zM188.96 273.43h1v1h-1zM200.8 274.78h1v1h-1zM187.56 271.23h1v1h-1zM191.55 275.45h1v1h-1zM190.32 281.57h1v1h-1zM187.99 276.08h1v1h-1zM196.21 269.58h1v1h-1zM194.28 282.06h1v1h-1zM183.27 269.17h1v1h-1zM184.72 265.88h1v1h-1zM191.58 265.83h1v1h-1zM191.79 280.39h1v1h-1zM182.07 272.61h1v1h-1zM180.68 277.43h1v1h-1zM186.11 272.83h1v1h-1zM189.75 276.4h1v1h-1zM187.9 274.07h1v1h-1zM186.99 274.5h1v1h-1zM184.11 274.28h1v1h-1zM180.61 271.84h1v1h-1zM198.31 274.35h1v1h-1zM183.7 275.13h1v1h-1zM185.03 266.73h1v1h-1zM186.11 277.24h1v1h-1zM191.27 273.57h1v1h-1zM185.24 269.25h1v1h-1zM195.71 275.08h1v1h-1zM185.12 264.71h1v1h-1zM183.2 284.89h1v1h-1zM184.21 273.66h1v1h-1zM190.47 273.31h1v1h-1zM188.22 267.96h1v1h-1zM184.67 281.43h1v1h-1zM186.02 277.72h1v1h-1zM181.71 272.79h1v1h-1zM190.7 278.56h1v1h-1zM184.34 276.62h1v1h-1zM191.28 270.75h1v1h-1zM191.69 270.05h1v1h-1zM185.84 273.92h1v1h-1zM177.02 273.52h1v1h-1zM184.9 267.56h1v1h-1zM187.54 277.36h1v1h-1zM187.64 279.57h1v1h-1zM184.17 268.23h1v1h-1zM196.64 275.75h1v1h-1zM193.85 270.36h1v1h-1zM193.2 275.14h1v1h-1zM192.48 274.11h1v1h-1zM195.05 271.14h1v1h-1zM185.07 267.5h1v1h-1zM194.84 270.75h1v1h-1zM184.7 269.87h1v1h-1zM187.45 268.41h1v1h-1zM188.16 271.24h1v1h-1zM186.96 269.78h1v1h-1zM189.67 271.97h1v1h-1zM190.03 275.1h1v1h-1zM191.06 264.37h1v1h-1zM187.04 270.5h1v1h-1zM193.06 267.06h1v1h-1zM186.21 272.71h1v1h-1zM187.95 278.36h1v1h-1zM187.46 278.24h1v1h-1zM182.76 266.03h1v1h-1zM195.11 275.92h1v1h-1zM191.74 274.54h1v1h-1zM191.73 268.65h1v1h-1zM193.86 271.66h1v1h-1zM194.03 274.39h1v1h-1zM180.42 268.34h1v1h-1zM194.69 273.4h1v1h-1zM187.68 275.07h1v1h-1zM187.54 271.6h1v1h-1zM189.97 274.63h1v1h-1zM196.48 274.2h1v1h-1zM198.15 281.93h1v1h-1zM197.4 278.67h1v1h-1zM190.1 274.6h1v1h-1zM188.84 270.78h1v1h-1zM189.19 271.18h1v1h-1zM197.04 276.35h1v1h-1zM187.45 265.57h1v1h-1zM189.25 272.17h1v1h-1zM184.51 269h1v1h-1zM179.15 276.5h1v1h-1zM189.2 285.36h1v1h-1zM189.36 273.35h1v1h-1zM196.14 274.59h1v1h-1zM190.27 272.37h1v1h-1zM186.72 280.6h1v1h-1zM194.1 281.55h1v1h-1zM187.89 274.13h1v1h-1zM185.45 278.26h1v1h-1zM183.09 276.48h1v1h-1zM194.54 280.21h1v1h-1zM185.18 278.79h1v1h-1zM186.22 270.67h1v1h-1zM183.41 279.08h1v1h-1zM197.08 271.38h1v1h-1zM186.01 272.51h1v1h-1zM201.03 278.42h1v1h-1zM187 266.11h1v1h-1zM186.41 279.22h1v1h-1zM198.09 272.83h1v1h-1zM186.32 271.76h1v1h-1zM180.83 278h1v1h-1zM184.51 278.68h1v1h-1zM181.65 268.41h1v1h-1zM190.83 270.64h1v1h-1zM193.09 274.04h1v1h-1zM184.1 276.74h1v1h-1zM193.37 265.58h1v1h-1zM197.9 276.19h1v1h-1zM193 265.82h1v1h-1zM186.19 272.46h1v1h-1zM194.45 267.58h1v1h-1zM185.43 265.07h1v1h-1zM188.39 275.52h1v1h-1zM181.74 271.4h1v1h-1zM191.85 280.98h1v1h-1zM192.55 272.66h1v1h-1zM184.08 269.88h1v1h-1zM186.44 274.65h1v1h-1zM189.27 281.34h1v1h-1zM190.82 269.28h1v1h-1zM196.6 278.18h1v1h-1zM189.96 270.83h1v1h-1zM180.89 269.5h1v1h-1zM193.69 270.47h1v1h-1zM183.43 274.86h1v1h-1zM190.62 276.67h1v1h-1zM192.52 280.2h1v1h-1zM185.64 278.31h1v1h-1zM184.96 277.05h1v1h-1zM190.32 275.07h1v1h-1zM193.95 273.92h1v1h-1zM194.62 277.85h1v1h-1zM190.12 271.51h1v1h-1zM186.03 271.68h1v1h-1zM188.57 273.89h1v1h-1zM203.21 276.81h1v1h-1zM193.04 270.21h1v1h-1zM186.23 272.6h1v1h-1zM190.38 269.44h1v1h-1zM196.91 271.52h1v1h-1zM194.46 263.72h1v1h-1zM189.47 275.22h1v1h-1zM190.38 276.65h1v1h-1zM190.79 274.71h1v1h-1zM180.79 270.86h1v1h-1zM178.72 276.77h1v1h-1zM190.91 273.14h1v1h-1zM185.72 271.44h1v1h-1zM197.99 281.62h1v1h-1zM189.23 279.67h1v1h-1zM182.2 265.49h1v1h-1zM187.28 270.15h1v1h-1zM186.93 274.83h1v1h-1zM203.41 271.09h1v1h-1zM189.73 275.22h1v1h-1zM189.34 278.1h1v1h-1zM197.67 268.53h1v1h-1zM190.24 272.83h1v1h-1zM191.14 267.26h1v1h-1zM181.41 263.81h1v1h-1zM191.92 274.84h1v1h-1zM189.84 263.59h1v1h-1zM187.78 270.68h1v1h-1zM183 269.97h1v1h-1zM192.71 276.39h1v1h-1zM189.4 276.26h1v1h-1zM186.72 274.31h1v1h-1zM189.69 276.44h1v1h-1zM189.18 273.37h1v1h-1zM188.88 271.16h1v1h-1zM199.77 276.26h1v1h-1zM191.47 284.08h1v1h-1zM195.95 267.15h1v1h-1zM192.7 277.69h1v1h-1zM198.17 279.79h1v1h-1zM193.04 268.82h1v1h-1zM185.49 275.18h1v1h-1zM191.82 269.51h1v1h-1zM187.73 272.24h1v1h-1zM189.78 275.48h1v1h-1zM188.18 268.56h1v1h-1zM195.22 281.02h1v1h-1zM189.01 278.51h1v1h-1zM191.54 276.9h1v1h-1zM191.71 270.64h1v1h-1zM192.14 278.45h1v1h-1zM185.38 282.65h1v1h-1zM199.11 282.02h1v1h-1zM198.65 277.27h1v1h-1zM187.94 271.36h1v1h-1zM185.76 274.51h1v1h-1zM189.35 276.95h1v1h-1zM180.21 284.17h1v1h-1zM199.97 273.88h1v1h-1zM192.61 276.09h1v1h-1zM190.76 273.08h1v1h-1zM188.94 270.37h1v1h-1zM190.32 273.89h1v1h-1zM190.97 270.24h1v1h-1zM189.68 274.21h1v1h-1zM192.28 269.32h1v1h-1zM191.43 278.33h1v1h-1zM192.25 272.38h1v1h-1zM187.24 272.96h1v1h-1zM192.85 280.83h1v1h-1zM188.77 271.17h1v1h-1zM191.23 274.9h1v1h-1zM185.32 270.76h1v1h-1zM189.03 276.96h1v1h-1zM184.01 269.52h1v1h-1zM191.8 268.61h1v1h-1zM190 275.55h1v1h-1zM188.99 269.52h1v1h-1zM189.22 272.54h1v1h-1zM191.05 270.31h1v1h-1zM194.52 266.63h1v1h-1zM188.69 274.03h1v1h-1zM193.92 271.32h1v1h-1zM192.01 271.51h1v1h-1zM192.9 281.64h1v1h-1zM187.66 275.95h1v1h-1zM185.23 278.28h1v1h-1zM195.07 274.16h1v1h-1zM184.28 275.77h1v1h-1zM194.79 278.79h1v1h-1zM193.24 265.95h1v1h-1zM186.37 280.26h1v1h-1zM183.86 278.98h1v1h-1zM198.16 277.35h1v1h-1zM194.65 272.54h1v1h-1zM183.86 273.55h1v1h-1zM188.59 273.79h1v1h-1zM192.71 273.36h1v1h-1zM190.38 275.87h1v1h-1zM189.48 282.11h1v1h-1zM191.54 274.37h1v1h-1zM188.54 271.25h1v1h-1zM195.68 274.66h1v1h-1zM184.54 271.53h1v1h-1zM188.87 272.04h1v1h-1zM194.49 268.89h1v1h-1zM191.76 274.63h1v1h-1zM184.08 274.21h1v1h-1zM189.07 276.21h1v1h-1zM187.43 275.33h1v1h-1zM181.84 269.23h1v1h-1zM193.11 278.58h1v1h-1zM189.44 271.36h1v1h-1zM194.48 264.8h1v1h-1zM185.82 276.96h1v1h-1zM192.5 269.46h1v1h-1zM180.82 280.39h1v1h-1zM190.2 270.06h1v1h-1zM189.75 277.97h1v1h-1zM177.58 278.89h1v1h-1zM192.9 264.84h1v1h-1zM193.05 266.17h1v1h-1zM194.74 275.75h1v1h-1zM199.86 271.31h1v1h-1zM189.52 278.61h1v1h-1zM186.56 270.9h1v1h-1zM187.79 273.68h1v1h-1zM184.52 276.13h1v1h-1zM192 274.31h1v1h-1zM197.32 272.56h1v1h-1zM195.51 271.59h1v1h-1zM192.98 265.49h1v1h-1zM190.41 273.23h1v1h-1zM187.22 271.31h1v1h-1zM187.9 270.83h1v1h-1zM179.41 271.38h1v1h-1zM186.97 271.69h1v1h-1zM184.63 273.4h1v1h-1zM193.11 272.9h1v1h-1zM187.23 279.97h1v1h-1zM193.99 278.06h1v1h-1zM194.82 272.56h1v1h-1zM188.9 278.9h1v1h-1zM186.95 273.47h1v1h-1zM191.24 275.64h1v1h-1zM188.23 278.33h1v1h-1zM188.68 277.19h1v1h-1zM194.42 276.9h1v1h-1zM192.87 268.9h1v1h-1zM183.47 271.28h1v1h-1zM191.69 280.6h1v1h-1zM183.88 275.35h1v1h-1zM185.57 270.78h1v1h-1zM188.23 277.04h1v1h-1zM190.48 279.19h1v1h-1zM184.97 277.91h1v1h-1zM193.78 274.31h1v1h-1zM191.7 271.52h1v1h-1zM184.49 272.22h1v1h-1zM186.54 286.72h1v1h-1zM187.27 281.26h1v1h-1zM190.43 275.37h1v1h-1zM192.92 270.57h1v1h-1zM193.72 275.66h1v1h-1zM182.53 276.65h1v1h-1zM192.04 275.99h1v1h-1zM196.79 272.18h1v1h-1zM191.85 277.29h1v1h-1zM185.36 279.28h1v1h-1zM182.83 268.28h1v1h-1zM191.9 269.21h1v1h-1zM188.97 266.76h1v1h-1zM189.82 269.01h1v1h-1zM191.07 267.26h1v1h-1zM191.56 272.83h1v1h-1zM189.79 273.7h1v1h-1zM190.1 268.19h1v1h-1zM177.7 274.15h1v1h-1zM185.2 272h1v1h-1zM191.46 265.26h1v1h-1zM185.99 271.32h1v1h-1zM184.64 275.44h1v1h-1zM188.85 270.39h1v1h-1zM184.97 277.55h1v1h-1zM186.47 276.57h1v1h-1zM191.57 265.67h1v1h-1zM184.52 274.01h1v1h-1zM191.07 277.43h1v1h-1zM193.19 278.55h1v1h-1zM187.78 273.07h1v1h-1zM193.07 272.13h1v1h-1zM194.36 267.01h1v1h-1zM192.51 273.24h1v1h-1zM180.45 278.31h1v1h-1zM190.93 274.09h1v1h-1zM184.55 271.95h1v1h-1zM196.45 270.36h1v1h-1zM173.53 270.23h1v1h-1zM183.98 273.42h1v1h-1zM187.69 269.99h1v1h-1zM185.63 278.61h1v1h-1zM182.86 282.61h1v1h-1zM187 269.19h1v1h-1zM193.12 276.48h1v1h-1zM184.7 277.29h1v1h-1zM181.04 269.94h1v1h-1zM194.68 272.87h1v1h-1zM183.51 276.26h1v1h-1zM193.72 273.9h1v1h-1zM181.19 272.48h1v1h-1zM191.42 277.38h1v1h-1zM198.02 272.89h1v1h-1zM187.28 273.83h1v1h-1zM195.05 269.86h1v1h-1zM195.5 261.9h1v1h-1zM193.17 271.03h1v1h-1zM191.61 277.03h1v1h-1zM184.06 273.62h1v1h-1zM190.61 276.58h1v1h-1zM185.22 269.64h1v1h-1zM180.65 285.17h1v1h-1zM188.62 273.02h1v1h-1zM182.62 278.09h1v1h-1zM187.04 280.32h1v1h-1zM193.42 274.09h1v1h-1zM192.84 269.11h1v1h-1zM188 271.47h1v1h-1zM183.66 274.08h1v1h-1zM188.83 280.32h1v1h-1zM174.08 271.04h1v1h-1zM185.28 271.96h1v1h-1zM191.44 275.78h1v1h-1zM189.63 271.91h1v1h-1zM191.77 275.58h1v1h-1zM181.02 272.85h1v1h-1zM183.18 268.8h1v1h-1zM190.17 274.27h1v1h-1zM190.02 270.15h1v1h-1zM188.57 269.98h1v1h-1zM191.26 277.03h1v1h-1zM197.57 279.57h1v1h-1zM185.8 271.99h1v1h-1zM185.18 275.35h1v1h-1zM198.61 277.12h1v1h-1zM179.38 268.47h1v1h-1zM183.55 276.27h1v1h-1zM189.51 275.32h1v1h-1zM197.7 270.36h1v1h-1zM185.6 282.65h1v1h-1zM191.07 270.57h1v1h-1zM180.17 267.29h1v1h-1zM178.26 274.3h1v1h-1zM189.7 278.37h1v1h-1zM188.86 270.95h1v1h-1zM186.09 282.37h1v1h-1zM181.38 274.76h1v1h-1zM189.62 276.71h1v1h-1zM187.64 276.2h1v1h-1zM193.25 273.35h1v1h-1zM187.4 273.18h1v1h-1zM185.06 273.09h1v1h-1zM188.11 274.93h1v1h-1zM195.65 279.75h1v1h-1zM187.45 276.65h1v1h-1zM190.86 277.35h1v1h-1zM189.6 275.17h1v1h-1zM187.34 270.55h1v1h-1zM193.51 279.71h1v1h-1zM192.55 275.92h1v1h-1zM190.72 272.02h1v1h-1zM181.3 276.92h1v1h-1zM190.42 271.56h1v1h-1zM185.06 279.62h1v1h-1zM181.2 281.75h1v1h-1zM192.44 284.43h1v1h-1zM186.2 273.9h1v1h-1zM187.17 274.68h1v1h-1zM188.53 270.71h1v1h-1zM194.44 270.55h1v1h-1zM187.16 276.44h1v1h-1zM187.03 272.09h1v1h-1zM191.14 272.38h1v1h-1zM183.77 273.55h1v1h-1zM188.49 281.5h1v1h-1zM184.45 278.27h1v1h-1zM185.88 272.43h1v1h-1zM188 275.19h1v1h-1zM193.47 281.7h1v1h-1zM186.57 279.85h1v1h-1zM194.08 277.58h1v1h-1zM186.01 277.96h1v1h-1zM189.01 275.55h1v1h-1zM188.26 276.92h1v1h-1zM194.63 278.98h1v1h-1zM188.56 278.38h1v1h-1zM196.18 269.88h1v1h-1zM196.27 268.12h1v1h-1zM192 276.61h1v1h-1zM196.32 275.23h1v1h-1zM187.29 270.49h1v1h-1zM183.74 277.37h1v1h-1zM188.41 270.84h1v1h-1zM191.95 270.63h1v1h-1zM187.49 271.98h1v1h-1zM197.11 280.44h1v1h-1zM188.77 267.09h1v1h-1zM190.77 274.32h1v1h-1zM191.1 276.49h1v1h-1zM188.03 278.07h1v1h-1zM193.35 274.93h1v1h-1zM187.63 271.89h1v1h-1zM192.69 269.16h1v1h-1zM188.77 270.7h1v1h-1zM183.09 276.66h1v1h-1zM189.38 274.16h1v1h-1zM193.52 267.43h1v1h-1zM189.19 275.27h1v1h-1zM193.33 269.23h1v1h-1zM192.79 274.97h1v1h-1zM195.74 279.01h1v1h-1zM192.03 283.45h1v1h-1zM189.49 272.13h1v1h-1zM187.93 269.86h1v1h-1zM189.37 265.74h1v1h-1zM189.11 275.87h1v1h-1zM194.06 272.47h1v1h-1zM195.89 271.13h1v1h-1zM188.88 265.74h1v1h-1zM186 270.52h1v1h-1zM196.21 276.28h1v1h-1zM184.54 276.29h1v1h-1zM191.66 273h1v1h-1zM189.6 272.69h1v1h-1zM187.06 266.38h1v1h-1zM189.09 279.52h1v1h-1zM195.93 272.8h1v1h-1zM186.15 273.09h1v1h-1zM193.53 275.51h1v1h-1zM186.88 275.56h1v1h-1zM188.57 276.21h1v1h-1zM187.67 267.68h1v1h-1zM189.76 277.26h1v1h-1zM184.53 273.54h1v1h-1zM193.44 272.39h1v1h-1zM186.58 282.71h1v1h-1zM193.22 278.41h1v1h-1zM185.26 281h1v1h-1zM182.08 271.78h1v1h-1zM192.81 279.7h1v1h-1zM185.34 271.16h1v1h-1zM190.38 265.74h1v1h-1zM192.36 276.4h1v1h-1zM187.5 276.3h1v1h-1zM192.97 275.32h1v1h-1zM191.83 280.47h1v1h-1zM187.37 274.69h1v1h-1zM187.17 278.42h1v1h-1zM187.68 276.02h1v1h-1zM190.11 274.28h1v1h-1zM197.16 273.64h1v1h-1zM195.82 277.52h1v1h-1zM195.38 273.3h1v1h-1zM193.63 277.22h1v1h-1zM186.77 275.15h1v1h-1zM188.93 273.85h1v1h-1zM195.29 270.94h1v1h-1zM182.02 266.6h1v1h-1zM187.49 271.26h1v1h-1zM189.56 276.4h1v1h-1zM197.32 275.31h1v1h-1zM191.56 270.88h1v1h-1zM192.08 279.77h1v1h-1zM195.45 265.71h1v1h-1zM193.45 280.72h1v1h-1zM193.17 267.66h1v1h-1zM188.14 276.49h1v1h-1zM191.34 270.56h1v1h-1zM185.55 278.09h1v1h-1zM183.59 280.08h1v1h-1zM189.59 275.27h1v1h-1zM183.59 271.48h1v1h-1zM192.55 267.77h1v1h-1zM198.67 268.06h1v1h-1zM184.09 274.18h1v1h-1zM191.63 277.1h1v1h-1zM187.86 273.12h1v1h-1zM188.46 271.57h1v1h-1zM178.1 278.07h1v1h-1zM190.61 274.67h1v1h-1zM186.72 275.06h1v1h-1zM189.44 273.68h1v1h-1zM194.39 266.72h1v1h-1zM190.61 269.49h1v1h-1zM188.1 280.34h1v1h-1zM184.71 273.58h1v1h-1zM186.89 278.01h1v1h-1zM185.17 266.89h1v1h-1zM191.77 272.5h1v1h-1zM188.09 278.57h1v1h-1zM185.58 272.42h1v1h-1zM190.15 275.75h1v1h-1zM187.22 278.37h1v1h-1zM199.4 272.27h1v1h-1zM197.76 265.09h1v1h-1zM195.71 272.55h1v1h-1zM190.11 272.56h1v1h-1zM186.69 268.6h1v1h-1zM187.76 279.48h1v1h-1zM194.54 272.53h1v1h-1zM187.17 271.03h1v1h-1zM184.2 281.62h1v1h-1zM192.43 274.5h1v1h-1zM187.33 269.68h1v1h-1zM195.32 277.3h1v1h-1zM185.29 278.18h1v1h-1zM184.61 276.71h1v1h-1zM185.26 272.25h1v1h-1zM191.69 275.83h1v1h-1zM193.97 270.46h1v1h-1zM196.47 279.68h1v1h-1zM189.45 275.97h1v1h-1zM186.06 273.36h1v1h-1zM183.67 274.38h1v1h-1zM190.38 279.68h1v1h-1zM193.69 277.44h1v1h-1zM187.9 273.05h1v1h-1zM187.99 274.94h1v1h-1zM180.97 277.26h1v1h-1zM182.58 271.82h1v1h-1zM189.6 271.83h1v1h-1zM196.84 273.59h1v1h-1zM196.44 278.96h1v1h-1zM187.31 275.69h1v1h-1zM195.23 272.59h1v1h-1zM189.89 271.64h1v1h-1zM189.76 272.51h1v1h-1zM189.86 278.23h1v1h-1zM195.65 274.56h1v1h-1zM190.39 277.62h1v1h-1zM188.22 269.53h1v1h-1zM194.4 270.05h1v1h-1zM193.61 269.93h1v1h-1zM197.58 269.59h1v1h-1zM193.25 280.33h1v1h-1zM185.26 280.27h1v1h-1zM185.86 266.55h1v1h-1zM192.69 276.96h1v1h-1zM188.6 263.33h1v1h-1zM189.26 272.71h1v1h-1zM187.82 272.78h1v1h-1zM181.6 271.6h1v1h-1zM197.45 280.53h1v1h-1zM187.9 270.99h1v1h-1z" fill="#56b553" fill-opacity="0.5" clip-path="url(#cG)"/>
<path d="M190.76 276.76h1v1h-1zM191.79 269.91h1v1h-1zM190.01 273.93h1v1h-1zM194.06 277.18h1v1h-1zM191.16 277.24h1v1h-1zM188.25 278.22h1v1h-1zM188.15 274.72h1v1h-1zM192.41 270.69h1v1h-1zM187.28 268.1h1v1h-1zM190.02 273.33h1v1h-1zM188.46 275.03h1v1h-1zM182.8 273.43h1v1h-1zM189.78 272.68h1v1h-1zM192.02 278.88h1v1h-1zM188.09 270.61h1v1h-1zM187.59 273.79h1v1h-1zM191.36 270.85h1v1h-1zM192.67 270.35h1v1h-1zM192.12 274.81h1v1h-1zM190.97 280.13h1v1h-1zM188.66 272.99h1v1h-1zM191.01 276.15h1v1h-1zM185.26 274.34h1v1h-1zM187.15 275.44h1v1h-1zM193.84 273.66h1v1h-1zM189.16 274.06h1v1h-1zM180.14 275.87h1v1h-1zM191.28 274.01h1v1h-1zM188.25 271.25h1v1h-1zM188.93 277.23h1v1h-1zM189.18 277.64h1v1h-1zM181.35 272.09h1v1h-1zM190.37 273.46h1v1h-1zM184.24 271.46h1v1h-1zM193.46 269.53h1v1h-1zM186.36 270.13h1v1h-1zM187.75 275.47h1v1h-1zM191.38 267.26h1v1h-1zM194.12 271.68h1v1h-1zM187.64 278.62h1v1h-1zM189.24 269.69h1v1h-1zM187.48 271.27h1v1h-1zM186.3 272.48h1v1h-1zM192.28 274.58h1v1h-1zM185.13 282.06h1v1h-1zM186.36 273.86h1v1h-1zM189.6 275.84h1v1h-1zM188.46 274.9h1v1h-1zM196.17 273.79h1v1h-1zM186.07 274.51h1v1h-1zM186.96 272.36h1v1h-1zM190.1 274.53h1v1h-1zM188.6 276.11h1v1h-1zM188.89 269.49h1v1h-1zM192.28 272.38h1v1h-1zM193.34 271.49h1v1h-1zM191.31 274.47h1v1h-1zM180.96 268.91h1v1h-1zM185.95 277.82h1v1h-1zM183.52 276.31h1v1h-1zM192.96 275.02h1v1h-1zM191.64 271.98h1v1h-1zM189.47 274.19h1v1h-1zM190.83 275.67h1v1h-1zM188.85 271.35h1v1h-1zM187.72 274.76h1v1h-1zM184.24 269.65h1v1h-1zM188.2 271.8h1v1h-1zM188.64 265.32h1v1h-1zM188.42 272.73h1v1h-1zM191.96 267.42h1v1h-1zM188.53 274.96h1v1h-1zM191.05 277.17h1v1h-1zM192.84 270.28h1v1h-1zM191.52 272.47h1v1h-1zM186.95 278.22h1v1h-1zM187.5 270.87h1v1h-1zM188.21 270.88h1v1h-1zM192.69 274.67h1v1h-1zM193.94 274.77h1v1h-1zM187.55 276.72h1v1h-1zM187.42 272.08h1v1h-1zM188.97 273.62h1v1h-1zM193.29 271.63h1v1h-1zM190.62 273.41h1v1h-1zM185.5 270.13h1v1h-1zM188.8 274.75h1v1h-1zM190.52 274.98h1v1h-1zM189.65 272.12h1v1h-1zM190.86 270.41h1v1h-1zM185.23 272.47h1v1h-1zM184.96 271.91h1v1h-1zM187.12 271.79h1v1h-1zM189.36 271.03h1v1h-1zM188.16 268.23h1v1h-1zM189.96 270.78h1v1h-1zM190.79 264.78h1v1h-1zM186.95 274.25h1v1h-1zM181.73 272.39h1v1h-1zM189.8 273.82h1v1h-1zM184.74 274.21h1v1h-1zM189.97 270.5h1v1h-1zM191.87 273.35h1v1h-1zM189.56 272.11h1v1h-1zM191.24 273.8h1v1h-1zM193.12 274.89h1v1h-1zM187.53 272.81h1v1h-1zM192.43 272.37h1v1h-1zM190.72 275.11h1v1h-1zM188.93 266.3h1v1h-1zM189.92 274.16h1v1h-1zM189.93 271.15h1v1h-1zM193.36 273.08h1v1h-1zM187.51 271.28h1v1h-1zM190.64 270.12h1v1h-1zM186.31 279.69h1v1h-1zM193.68 276.76h1v1h-1zM193.86 275.34h1v1h-1zM184.12 277.2h1v1h-1zM193.45 275.02h1v1h-1zM183.25 277.35h1v1h-1zM193.86 271.98h1v1h-1zM189.91 275.91h1v1h-1zM189.23 276.9h1v1h-1zM189.76 275.64h1v1h-1zM189.77 268.92h1v1h-1zM186.32 283.32h1v1h-1zM190.39 277.56h1v1h-1zM193.14 278.82h1v1h-1zM191.27 271.65h1v1h-1zM189.56 267.55h1v1h-1zM188.9 276.31h1v1h-1zM182.58 274.11h1v1h-1zM192.14 277.62h1v1h-1zM186.54 271.48h1v1h-1zM183.5 270.34h1v1h-1zM191.21 279.93h1v1h-1zM185.83 277.78h1v1h-1zM190.87 271.96h1v1h-1zM196.53 265.67h1v1h-1zM189.28 274.18h1v1h-1zM196.33 279.09h1v1h-1zM196.76 273.92h1v1h-1zM192.64 277.74h1v1h-1zM191.14 274.62h1v1h-1zM188.91 272.23h1v1h-1zM185.56 279.56h1v1h-1zM188.07 267.03h1v1h-1zM190.35 273.39h1v1h-1zM190.06 279.15h1v1h-1zM189.16 272.67h1v1h-1zM187.11 273.43h1v1h-1zM188.09 274.14h1v1h-1zM199.52 274.72h1v1h-1zM186.75 279.51h1v1h-1zM192.27 276.04h1v1h-1zM191.8 276.05h1v1h-1zM191.67 277.89h1v1h-1zM192.73 277.7h1v1h-1zM187.89 273.49h1v1h-1zM187.16 276.48h1v1h-1zM192.17 272.05h1v1h-1zM191.38 281.68h1v1h-1zM193.47 270.02h1v1h-1zM189.2 275.48h1v1h-1zM189.39 274.7h1v1h-1zM193.29 274.52h1v1h-1zM185.97 275.73h1v1h-1zM189.19 273.85h1v1h-1zM187.68 269.19h1v1h-1zM185.49 272.4h1v1h-1zM186.06 265.04h1v1h-1zM193.19 269.88h1v1h-1zM187.17 275.16h1v1h-1zM181.75 277.68h1v1h-1zM187.03 275.56h1v1h-1zM187.95 274.45h1v1h-1zM189.84 273.5h1v1h-1zM183.63 268.92h1v1h-1zM189.37 277.89h1v1h-1zM187.75 275.16h1v1h-1zM190.02 275.01h1v1h-1zM192.69 268.83h1v1h-1zM190.38 272.95h1v1h-1zM188.5 270.84h1v1h-1zM186.97 270.29h1v1h-1zM185.97 281.33h1v1h-1zM194.96 273.53h1v1h-1zM191.89 270.46h1v1h-1zM180.56 267.82h1v1h-1zM189.95 277.99h1v1h-1zM189.36 270.38h1v1h-1zM188.72 270.39h1v1h-1zM185.02 272.78h1v1h-1zM188.21 270.97h1v1h-1zM186.65 270.6h1v1h-1zM190.26 277.84h1v1h-1zM188.82 280.47h1v1h-1zM184.3 274.36h1v1h-1zM185.78 273h1v1h-1zM189.83 275.24h1v1h-1zM193.13 271.77h1v1h-1zM185.5 272.91h1v1h-1zM190.44 271.32h1v1h-1zM192.37 278.75h1v1h-1zM184.93 274.63h1v1h-1zM192.77 267.51h1v1h-1zM190.16 272.8h1v1h-1zM184.92 277.6h1v1h-1zM190.2 272.01h1v1h-1zM190.93 275.5h1v1h-1zM191.97 275.31h1v1h-1zM190.81 269.83h1v1h-1zM188.15 273.9h1v1h-1zM180.6 280.15h1v1h-1zM188.28 270.21h1v1h-1zM183.65 274.28h1v1h-1zM189.6 271.68h1v1h-1zM188.16 270.73h1v1h-1zM187.09 273.19h1v1h-1zM187.43 275.62h1v1h-1zM189.04 273.91h1v1h-1zM190.8 277.46h1v1h-1zM191.43 274.21h1v1h-1zM188.97 270.99h1v1h-1zM188.4 275.63h1v1h-1zM190.23 272.29h1v1h-1zM185.22 268.72h1v1h-1zM190.53 276.7h1v1h-1zM190.7 269.22h1v1h-1zM188.82 274.19h1v1h-1zM186.55 274.58h1v1h-1zM188.86 270.9h1v1h-1zM185.51 276.03h1v1h-1zM190.65 270.73h1v1h-1zM186.24 276.28h1v1h-1zM191.42 272.55h1v1h-1zM194.62 272.6h1v1h-1zM186.1 276.9h1v1h-1zM188.89 274.58h1v1h-1zM189.62 270.38h1v1h-1zM185.68 272.89h1v1h-1zM194.02 270.37h1v1h-1zM193.87 274.19h1v1h-1zM185.93 274.33h1v1h-1zM191.32 270.7h1v1h-1zM182.66 274.61h1v1h-1zM185.93 274.87h1v1h-1zM183.36 273.06h1v1h-1zM186.9 268.89h1v1h-1zM188.73 274.03h1v1h-1zM187.71 269.82h1v1h-1zM190.18 268.05h1v1h-1zM191.22 275.03h1v1h-1zM194.89 276.25h1v1h-1zM190.64 274.32h1v1h-1zM189.59 269.38h1v1h-1zM194.19 275.14h1v1h-1zM188.58 269.93h1v1h-1zM194.26 275.15h1v1h-1zM185.7 275.59h1v1h-1zM195.58 273.43h1v1h-1zM190.78 272.21h1v1h-1zM187.48 276.84h1v1h-1zM199.37 273.86h1v1h-1zM189.1 275.97h1v1h-1zM188.52 275.77h1v1h-1zM192.16 270.34h1v1h-1zM186.06 273.27h1v1h-1zM192.17 274.36h1v1h-1zM193.48 269.22h1v1h-1zM191.08 271.57h1v1h-1zM189.82 274.5h1v1h-1zM186.39 272.79h1v1h-1zM185.77 274.33h1v1h-1zM186.78 271.97h1v1h-1zM190.2 271.47h1v1h-1zM193.18 271.52h1v1h-1zM192.22 274.38h1v1h-1zM186.19 272.82h1v1h-1zM186.82 272.38h1v1h-1zM188.63 279.14h1v1h-1zM188.16 278.37h1v1h-1zM190.93 269.45h1v1h-1zM182.1 275.6h1v1h-1zM183.13 275.73h1v1h-1zM192.79 274.71h1v1h-1zM188.83 272.72h1v1h-1zM190.33 272.56h1v1h-1zM187.79 272.35h1v1h-1zM193.24 271.58h1v1h-1zM190.71 269.93h1v1h-1zM187.22 269.24h1v1h-1zM188.87 275.62h1v1h-1zM190.48 271.97h1v1h-1zM191.45 272.42h1v1h-1zM190.69 274.35h1v1h-1zM191.23 265.83h1v1h-1zM185.34 275.9h1v1h-1zM189.16 280.45h1v1h-1zM188.75 271.79h1v1h-1zM194.27 275.22h1v1h-1zM195.56 275.08h1v1h-1zM188.85 275.74h1v1h-1zM186.98 272.12h1v1h-1zM187.73 272.81h1v1h-1zM191.99 272.01h1v1h-1zM190.53 271.96h1v1h-1zM192.32 264.97h1v1h-1zM188.84 274.02h1v1h-1zM186.06 276.64h1v1h-1zM190.19 277.46h1v1h-1zM192.57 275.48h1v1h-1zM189.02 270.14h1v1h-1zM188.8 272.08h1v1h-1zM190.3 272.06h1v1h-1zM199.25 268.56h1v1h-1zM193.25 272.05h1v1h-1zM188.73 276.36h1v1h-1zM189.51 269.75h1v1h-1zM190.82 272.9h1v1h-1zM182.94 274.11h1v1h-1zM186.14 271.2h1v1h-1zM191.04 274.43h1v1h-1zM188.57 280.21h1v1h-1zM190.84 271.6h1v1h-1zM190.25 273.13h1v1h-1zM182.48 268.63h1v1h-1zM185.07 279.88h1v1h-1zM188.91 272.65h1v1h-1zM187.7 276.53h1v1h-1zM189.59 278.77h1v1h-1zM192.01 278.58h1v1h-1zM189.13 274.66h1v1h-1zM188.12 272.98h1v1h-1zM183.99 271.71h1v1h-1zM186.47 271.49h1v1h-1zM193.37 274.31h1v1h-1zM193.4 276.15h1v1h-1zM192.43 276.6h1v1h-1zM187.57 275.98h1v1h-1zM188.48 271.86h1v1h-1zM193.3 280.18h1v1h-1zM186.39 278.86h1v1h-1zM192.14 270.89h1v1h-1zM190.37 274.65h1v1h-1zM190.69 272.4h1v1h-1zM185.41 273.6h1v1h-1zM192.24 275.92h1v1h-1zM191.6 276.9h1v1h-1zM186.35 273.37h1v1h-1zM190.58 276.58h1v1h-1zM190 275.1h1v1h-1zM189.92 279.97h1v1h-1zM182.56 273.42h1v1h-1zM197.37 274.23h1v1h-1zM183.68 273.91h1v1h-1zM184.94 271.41h1v1h-1zM190.21 278.78h1v1h-1zM190.97 275.56h1v1h-1zM192.74 274.12h1v1h-1zM186.78 273.2h1v1h-1zM190.57 272.65h1v1h-1zM187.38 272.39h1v1h-1zM184.73 270.34h1v1h-1zM189.21 272.39h1v1h-1zM189.62 277.83h1v1h-1zM190.45 273.4h1v1h-1zM185.77 270.18h1v1h-1zM190.69 270.81h1v1h-1zM190.86 270.19h1v1h-1zM189.93 273.28h1v1h-1zM192.66 272.29h1v1h-1zM188.32 274.26h1v1h-1zM189.67 278.7h1v1h-1zM188.68 271.85h1v1h-1zM188.49 274.96h1v1h-1zM190.24 275.64h1v1h-1zM185.11 281.13h1v1h-1zM195.34 273.4h1v1h-1zM185.66 273.98h1v1h-1zM190.82 266.63h1v1h-1zM189.54 268.95h1v1h-1zM190.96 277.75h1v1h-1zM192.78 268.86h1v1h-1zM193.89 276.29h1v1h-1zM188.35 275.05h1v1h-1zM194.32 272.48h1v1h-1zM189.45 271.78h1v1h-1zM193.17 266.87h1v1h-1zM194.01 270.52h1v1h-1zM192.44 268.5h1v1h-1zM186.53 271.66h1v1h-1zM192.13 268.51h1v1h-1zM191.41 271.54h1v1h-1zM193.44 272.54h1v1h-1zM191.04 272.97h1v1h-1zM195.19 272.39h1v1h-1zM189.42 279.61h1v1h-1zM189.75 275.61h1v1h-1zM187.16 274.11h1v1h-1zM182.3 273.82h1v1h-1zM187.45 268.87h1v1h-1zM185 277.02h1v1h-1zM190.85 268.83h1v1h-1zM195.26 271.36h1v1h-1zM188.33 274.26h1v1h-1zM185.89 268.52h1v1h-1zM187.13 277.14h1v1h-1zM192.52 268.64h1v1h-1zM193.32 273.6h1v1h-1zM191.09 273.66h1v1h-1zM190.81 270.42h1v1h-1zM186.61 271.34h1v1h-1zM188.33 275.41h1v1h-1zM185.64 278.41h1v1h-1zM187.49 271.69h1v1h-1zM191.73 274.84h1v1h-1zM188.42 270.2h1v1h-1zM186.32 268.58h1v1h-1zM193.13 276.84h1v1h-1zM195.43 275.04h1v1h-1zM190.56 275.83h1v1h-1zM192.52 272.7h1v1h-1zM190.62 280.13h1v1h-1zM184.12 269.17h1v1h-1zM186.44 275.82h1v1h-1zM193.27 272.46h1v1h-1zM191.63 273.35h1v1h-1zM190.45 271.84h1v1h-1zM189.41 273.49h1v1h-1zM193.09 280.37h1v1h-1zM183.73 275.14h1v1h-1zM189.48 276.48h1v1h-1zM192.87 275.9h1v1h-1zM192.07 270.57h1v1h-1zM184.08 278.64h1v1h-1zM193.34 270.57h1v1h-1zM193.6 275.55h1v1h-1zM181.7 276.27h1v1h-1zM186.36 277.09h1v1h-1zM187.33 271.21h1v1h-1zM184.59 272.83h1v1h-1zM192.73 271.43h1v1h-1zM183.59 280.11h1v1h-1zM195.37 275.63h1v1h-1zM187.79 269.77h1v1h-1zM184.29 275.22h1v1h-1zM193.63 270.23h1v1h-1zM189.5 272.64h1v1h-1zM188.68 275.05h1v1h-1zM196.15 271.54h1v1h-1zM192.2 276.86h1v1h-1zM188.6 273.04h1v1h-1zM185.23 276.83h1v1h-1zM187.81 271.48h1v1h-1zM189.71 270.85h1v1h-1zM186.18 272.58h1v1h-1zM194.23 272.87h1v1h-1zM191.18 268.98h1v1h-1zM183.3 279.11h1v1h-1zM188.23 268.75h1v1h-1zM189.16 275.37h1v1h-1zM184.01 270.78h1v1h-1zM190.33 270.65h1v1h-1zM192.04 276.47h1v1h-1zM190.91 272.17h1v1h-1zM189.35 271.55h1v1h-1zM189.08 274.48h1v1h-1zM188.54 276.5h1v1h-1zM197.76 271.81h1v1h-1zM190.59 276.04h1v1h-1zM191.55 272.77h1v1h-1zM187.97 276.6h1v1h-1zM191.49 275.06h1v1h-1zM186.94 275.45h1v1h-1zM192.03 272.93h1v1h-1zM191.56 280.21h1v1h-1zM183.52 275.38h1v1h-1zM185.77 269.28h1v1h-1zM188.75 275.19h1v1h-1zM189.67 269.9h1v1h-1zM184.91 271.78h1v1h-1zM189.54 270.93h1v1h-1zM184.7 278.93h1v1h-1zM186.82 273.02h1v1h-1zM187.75 271.69h1v1h-1zM189.63 272.58h1v1h-1zM191.48 269.83h1v1h-1zM184.76 279.54h1v1h-1zM189.26 275.88h1v1h-1zM193.27 275.22h1v1h-1zM189.62 268.68h1v1h-1zM184.39 276.53h1v1h-1zM191.66 275.26h1v1h-1zM184.2 266.89h1v1h-1zM186.12 269.84h1v1h-1zM190.01 270.33h1v1h-1zM194.56 271.57h1v1h-1zM187.7 276.18h1v1h-1zM190.55 270.71h1v1h-1zM192.13 279.46h1v1h-1zM185.57 272.73h1v1h-1zM186.05 267.47h1v1h-1zM191.51 275.67h1v1h-1zM192.62 274.83h1v1h-1zM183.05 273.42h1v1h-1zM187.36 269.85h1v1h-1zM185.96 275.88h1v1h-1zM188.55 279.61h1v1h-1zM191.01 267.57h1v1h-1zM192.37 277.38h1v1h-1zM189.6 269.73h1v1h-1zM195.17 269.42h1v1h-1zM189.23 267.57h1v1h-1zM185.48 268.21h1v1h-1zM193 277.17h1v1h-1zM188.2 269.28h1v1h-1zM189.31 274.68h1v1h-1zM184.6 269.89h1v1h-1zM189.17 275.69h1v1h-1zM189.74 274.9h1v1h-1zM185.49 265.74h1v1h-1zM190.5 270.64h1v1h-1zM189.1 272.32h1v1h-1zM191.05 271.09h1v1h-1zM194.15 273.6h1v1h-1zM191.2 275.46h1v1h-1zM192.84 274.76h1v1h-1zM183.86 271.54h1v1h-1zM195.5 274.98h1v1h-1zM191.31 274.96h1v1h-1zM187.43 271.38h1v1h-1zM187.41 277.12h1v1h-1zM190.68 279.07h1v1h-1zM191.11 279.42h1v1h-1zM190.98 269.8h1v1h-1zM195.12 274.56h1v1h-1zM193.35 274.17h1v1h-1zM188.44 274.03h1v1h-1zM185.87 269.75h1v1h-1zM186.63 271.85h1v1h-1zM185.11 273.18h1v1h-1zM190.49 279.86h1v1h-1zM195.46 273.34h1v1h-1zM192.36 272.81h1v1h-1zM190.77 273.39h1v1h-1zM187.75 273.74h1v1h-1zM184.71 274.88h1v1h-1zM188.56 270.1h1v1h-1zM188.33 275.24h1v1h-1zM187.3 274.99h1v1h-1zM191.35 278.4h1v1h-1zM185.97 273.15h1v1h-1zM191.16 278.22h1v1h-1zM190.35 275.87h1v1h-1zM184.73 271.66h1v1h-1zM194.9 272.6h1v1h-1zM196.53 271.21h1v1h-1zM188.6 268.47h1v1h-1zM191.57 274.33h1v1h-1zM196.06 274.02h1v1h-1zM188.68 269.06h1v1h-1zM189.23 276.49h1v1h-1zM191.91 277.38h1v1h-1zM192.32 273.35h1v1h-1zM191.47 274.04h1v1h-1zM185.16 278.91h1v1h-1zM190.72 270.18h1v1h-1zM190.76 274.41h1v1h-1zM192.75 278.07h1v1h-1zM179.59 275.26h1v1h-1zM194.49 270.5h1v1h-1zM183.44 274.38h1v1h-1zM190.6 274.61h1v1h-1zM185.88 272.02h1v1h-1zM190.14 275.86h1v1h-1zM196.66 274.43h1v1h-1zM187.53 266.03h1v1h-1zM193.01 273.08h1v1h-1zM189.14 270.37h1v1h-1zM191.9 267.82h1v1h-1zM189.85 273.88h1v1h-1zM190.48 277.64h1v1h-1zM189.18 273.8h1v1h-1zM192.3 268.58h1v1h-1zM188.54 273.72h1v1h-1zM192.63 270.96h1v1h-1zM192.13 274.72h1v1h-1zM184.63 268.8h1v1h-1zM184.81 273.94h1v1h-1zM190.18 275.8h1v1h-1zM192.19 271.75h1v1h-1zM193 276.1h1v1h-1zM191.05 275.02h1v1h-1zM185.28 274.65h1v1h-1zM186.11 269.71h1v1h-1zM188.35 273.94h1v1h-1zM189.32 272.45h1v1h-1zM186.22 274.09h1v1h-1zM187.07 269.02h1v1h-1zM189.81 278.12h1v1h-1zM188.17 270.12h1v1h-1zM194.04 278.95h1v1h-1zM188.53 272.83h1v1h-1zM190.2 282.89h1v1h-1zM189.94 276.67h1v1h-1zM190.96 267.71h1v1h-1zM185.88 269.58h1v1h-1zM190.92 273.84h1v1h-1zM195.38 272.64h1v1h-1zM190.51 273.74h1v1h-1zM189.96 280.88h1v1h-1zM190.44 278.19h1v1h-1zM193.76 271.57h1v1h-1zM191.75 272.29h1v1h-1zM189.86 274h1v1h-1zM189.57 272h1v1h-1zM194.62 272.65h1v1h-1zM191.81 278.86h1v1h-1zM191.56 276.77h1v1h-1zM194.07 276.97h1v1h-1zM195.15 268.94h1v1h-1zM195.94 273.59h1v1h-1zM183.75 271.46h1v1h-1zM184.91 273.43h1v1h-1zM184.6 270.29h1v1h-1zM190.47 274h1v1h-1zM186.87 272.75h1v1h-1zM189.17 273.74h1v1h-1zM189.48 272.79h1v1h-1zM192.39 268.37h1v1h-1zM187.87 273.93h1v1h-1zM188.18 271.74h1v1h-1zM188.06 274.17h1v1h-1zM193.6 272.91h1v1h-1zM188.62 274.64h1v1h-1zM188.7 267.32h1v1h-1zM190.38 272.29h1v1h-1zM187.61 275.51h1v1h-1zM189.65 271.7h1v1h-1zM182.32 268h1v1h-1zM189.55 273.12h1v1h-1zM190.94 274.21h1v1h-1zM187.92 269.45h1v1h-1zM185.89 273.05h1v1h-1zM185.71 275.92h1v1h-1zM185.13 267.77h1v1h-1zM188.86 267.82h1v1h-1zM194.87 270.33h1v1h-1zM189.33 272.72h1v1h-1zM186.79 267.85h1v1h-1zM183.36 276.27h1v1h-1zM192.87 280.42h1v1h-1zM184.68 275.29h1v1h-1zM189.45 276.21h1v1h-1zM187.8 275.81h1v1h-1zM192.46 275.44h1v1h-1zM194.27 272.94h1v1h-1zM194.59 271.26h1v1h-1zM195 264.71h1v1h-1zM189.54 270.94h1v1h-1zM189.51 276.8h1v1h-1zM191.87 273.8h1v1h-1zM195.12 268.78h1v1h-1zM186.81 278.33h1v1h-1zM190.58 266.86h1v1h-1zM190.62 269.71h1v1h-1zM194.38 277.16h1v1h-1zM187.7 277.64h1v1h-1zM186.75 276.44h1v1h-1zM191.41 273.09h1v1h-1zM184.81 272.6h1v1h-1zM181.94 271.7h1v1h-1zM183.39 277.39h1v1h-1zM186.31 265.72h1v1h-1zM191.43 274.68h1v1h-1zM187.83 280.28h1v1h-1zM192.05 273.71h1v1h-1zM187.37 264.04h1v1h-1zM191.08 276.57h1v1h-1zM187.55 268.98h1v1h-1zM189.36 268.15h1v1h-1zM189.52 275.97h1v1h-1zM194.48 274.35h1v1h-1zM190.15 275.9h1v1h-1zM194.12 272.48h1v1h-1zM185.45 270.97h1v1h-1zM185.35 270.66h1v1h-1zM189.1 274.6h1v1h-1zM190.02 273.72h1v1h-1zM188.32 274.86h1v1h-1zM192.42 275.93h1v1h-1zM194.44 272.57h1v1h-1zM188.67 278.92h1v1h-1zM190.16 274.82h1v1h-1zM188.39 276.6h1v1h-1zM188.17 270.28h1v1h-1zM189.3 272.08h1v1h-1zM192.25 272.29h1v1h-1z" fill="#3aa835" fill-opacity="0.85" clip-path="url(#cG)"/>
<path d="M215.44 244.78h1v1h-1zM216.22 243.79h1v1h-1zM218.98 241.88h1v1h-1zM213.61 243.6h1v1h-1zM217.33 245.4h1v1h-1zM216.75 244.51h1v1h-1zM212.42 242.61h1v1h-1zM213.8 244.01h1v1h-1zM216.01 246.15h1v1h-1zM218.52 245.04h1v1h-1zM212.31 242.75h1v1h-1zM215.22 246.17h1v1h-1zM222.01 245.74h1v1h-1zM221.33 249.8h1v1h-1zM211.22 248.2h1v1h-1zM219.09 248.53h1v1h-1zM214.96 247.59h1v1h-1zM213.27 245.13h1v1h-1zM215.07 249.58h1v1h-1zM214.23 247.59h1v1h-1zM215.24 243.6h1v1h-1zM215.87 246.88h1v1h-1zM212.44 246.82h1v1h-1zM212.44 243.2h1v1h-1zM215.79 244.74h1v1h-1zM211.46 241.39h1v1h-1zM215.08 245.88h1v1h-1zM213.35 245.75h1v1h-1zM209.5 246.24h1v1h-1zM216.5 245.97h1v1h-1zM212.79 245.49h1v1h-1zM215.47 247.87h1v1h-1zM215.99 245.91h1v1h-1zM212.4 247.37h1v1h-1zM219.22 244.12h1v1h-1zM217.3 246.04h1v1h-1zM214.83 242.21h1v1h-1zM221.32 240.82h1v1h-1zM216.09 244.4h1v1h-1zM219.12 244.29h1v1h-1zM215.14 246.77h1v1h-1zM216.64 244.05h1v1h-1zM217.45 246.24h1v1h-1zM218.56 244.08h1v1h-1zM214.83 244.36h1v1h-1zM211.99 245.91h1v1h-1zM216.47 248.7h1v1h-1zM213.83 246.23h1v1h-1zM219.11 245.03h1v1h-1zM215.23 245.62h1v1h-1zM212.52 242.93h1v1h-1zM219.01 245.71h1v1h-1zM214.73 242.33h1v1h-1zM215.42 248.11h1v1h-1zM210.87 243.17h1v1h-1zM218.98 248.72h1v1h-1zM220.57 243.98h1v1h-1zM217.15 243.5h1v1h-1zM216.87 244.43h1v1h-1zM215.7 248.51h1v1h-1zM216.21 244.72h1v1h-1zM215.2 245.94h1v1h-1zM213.16 245.79h1v1h-1zM217.15 249.02h1v1h-1zM207.62 242.46h1v1h-1zM210.57 247.39h1v1h-1zM223.74 245.76h1v1h-1zM215.43 248.02h1v1h-1zM206.26 244.87h1v1h-1zM203.85 245.67h1v1h-1zM213.18 244.14h1v1h-1zM216.22 243.91h1v1h-1zM218.98 245.29h1v1h-1zM216.36 251.35h1v1h-1zM213.4 247.51h1v1h-1zM212.04 248.27h1v1h-1zM218.45 245.63h1v1h-1zM218.54 249.13h1v1h-1zM219.92 245.3h1v1h-1zM214.8 247.94h1v1h-1zM209.75 243.87h1v1h-1zM216.73 246.65h1v1h-1zM221.64 249.49h1v1h-1zM216.16 246.35h1v1h-1zM210.3 244.86h1v1h-1zM215.93 244.76h1v1h-1zM215.21 246.75h1v1h-1zM211.61 243.95h1v1h-1zM208.66 248.02h1v1h-1zM211.24 241.25h1v1h-1zM217.75 244.79h1v1h-1zM218.44 244.42h1v1h-1zM222.57 247h1v1h-1zM215.54 245.57h1v1h-1zM214.27 247.22h1v1h-1zM222.12 244.3h1v1h-1zM211.13 246.72h1v1h-1zM218.8 241.76h1v1h-1zM212.54 242.94h1v1h-1zM217 246.5h1v1h-1zM212.39 242.63h1v1h-1zM217.43 240.43h1v1h-1zM217.29 244.93h1v1h-1zM221.82 247.66h1v1h-1zM212.94 244.65h1v1h-1zM214.02 243.58h1v1h-1zM215.29 247.58h1v1h-1zM209.65 244.76h1v1h-1zM220.3 247.06h1v1h-1zM212.11 243.39h1v1h-1zM211.97 241.5h1v1h-1zM219.08 245.46h1v1h-1zM212.53 241.91h1v1h-1zM213.64 244.09h1v1h-1zM221.1 244.21h1v1h-1zM215.41 247.83h1v1h-1zM217.37 244.87h1v1h-1zM207.27 248.61h1v1h-1zM217.12 244.27h1v1h-1zM214.69 243.04h1v1h-1zM211.82 241.8h1v1h-1zM216.78 246.52h1v1h-1zM215.62 247.14h1v1h-1zM216.9 245.59h1v1h-1zM211.87 246.69h1v1h-1zM219.2 246.79h1v1h-1zM219.42 244.19h1v1h-1zM211.54 248.25h1v1h-1zM212.94 245.87h1v1h-1zM214.33 245.35h1v1h-1zM214.04 244.03h1v1h-1zM208.7 249.79h1v1h-1zM215.72 240.77h1v1h-1zM211.8 242.65h1v1h-1zM212.38 239.3h1v1h-1zM217.03 249.16h1v1h-1zM214.13 247.05h1v1h-1zM217.12 242.37h1v1h-1zM219.3 241.33h1v1h-1zM212.97 244.46h1v1h-1zM219.43 245.58h1v1h-1zM214.56 243.41h1v1h-1zM215.32 245.4h1v1h-1zM217.58 248.58h1v1h-1zM217.6 245.34h1v1h-1zM214.46 249.06h1v1h-1zM215.71 245.26h1v1h-1zM221.33 248.99h1v1h-1zM217.01 245.04h1v1h-1zM212.76 247.81h1v1h-1zM213.4 247.56h1v1h-1zM212.24 245.55h1v1h-1zM216.42 245.64h1v1h-1zM215.82 246.2h1v1h-1zM211.04 242.69h1v1h-1zM214.48 249.54h1v1h-1zM214.56 243.12h1v1h-1zM212.68 245.38h1v1h-1zM219.16 243.97h1v1h-1zM216.97 245.74h1v1h-1zM213.75 243.08h1v1h-1zM214.47 243.6h1v1h-1zM216.89 241.17h1v1h-1zM218.97 247.08h1v1h-1zM217.04 248.81h1v1h-1zM217.12 241.29h1v1h-1zM215.19 246.35h1v1h-1zM212.6 242.65h1v1h-1zM216.52 246.5h1v1h-1zM213.51 244.73h1v1h-1zM213.22 243.97h1v1h-1zM214.8 247.82h1v1h-1zM209.34 244.5h1v1h-1zM220.67 246.04h1v1h-1zM215.54 247.26h1v1h-1zM211.48 242.47h1v1h-1zM209.17 241.89h1v1h-1zM215.87 247.29h1v1h-1zM213.54 243.71h1v1h-1zM216.42 246.74h1v1h-1zM215.9 240.84h1v1h-1zM213.09 239.38h1v1h-1zM215.85 243.31h1v1h-1zM212.7 248.82h1v1h-1zM219.64 246.43h1v1h-1zM215.97 245.7h1v1h-1zM212.95 245.18h1v1h-1zM221.7 243.25h1v1h-1zM212.68 245.68h1v1h-1zM218.13 247.25h1v1h-1zM211.61 245h1v1h-1zM214.07 242.42h1v1h-1zM215.27 244.18h1v1h-1zM218.22 246.31h1v1h-1zM212.27 245.49h1v1h-1zM213.75 243.82h1v1h-1zM213.3 247.78h1v1h-1zM213.55 241.3h1v1h-1zM212.29 247.19h1v1h-1zM222.54 242.84h1v1h-1zM213.76 244.53h1v1h-1zM210.07 246.24h1v1h-1zM214.82 245.95h1v1h-1zM222.84 244.68h1v1h-1zM217.78 247.25h1v1h-1zM212.78 243.92h1v1h-1zM220.45 246.97h1v1h-1zM215.5 242.75h1v1h-1zM218.09 246.53h1v1h-1zM222.69 248.74h1v1h-1zM217.82 245.93h1v1h-1zM215.22 244.02h1v1h-1zM216.08 245.87h1v1h-1zM217.28 247.84h1v1h-1zM216.09 244.03h1v1h-1zM217.83 248.92h1v1h-1zM212.08 246.28h1v1h-1zM216.92 246.55h1v1h-1zM216.77 245.09h1v1h-1zM214.64 249.24h1v1h-1zM221.06 242.03h1v1h-1zM206.12 246.32h1v1h-1zM212.64 244.1h1v1h-1zM209.42 246.13h1v1h-1zM214.81 244.04h1v1h-1zM218.15 250.97h1v1h-1zM220.16 248.04h1v1h-1zM213.56 246.84h1v1h-1zM214.87 248h1v1h-1zM217.04 245.22h1v1h-1zM216.93 243.63h1v1h-1zM217.77 248.81h1v1h-1zM213.74 246.6h1v1h-1zM209.17 247.49h1v1h-1zM218.07 242.92h1v1h-1zM221.1 245.57h1v1h-1zM208.95 242.11h1v1h-1zM218.06 244.67h1v1h-1zM218.86 241.69h1v1h-1zM214.66 247.58h1v1h-1zM212.63 246.89h1v1h-1zM213.74 246.1h1v1h-1zM216.13 250.51h1v1h-1zM210.67 247.12h1v1h-1zM219.59 242.68h1v1h-1zM215.29 250.69h1v1h-1zM218.67 238.38h1v1h-1zM214.17 241.31h1v1h-1zM216.06 243.61h1v1h-1zM213.04 243.35h1v1h-1zM216.03 244.21h1v1h-1zM211.84 244.77h1v1h-1zM216.42 243.3h1v1h-1zM218.89 241.43h1v1h-1zM216.43 244.39h1v1h-1zM220.5 243.8h1v1h-1zM212.68 242.17h1v1h-1zM221.95 246.74h1v1h-1zM211.21 244.52h1v1h-1zM211.65 248.85h1v1h-1zM216.46 240.55h1v1h-1zM215.73 247.43h1v1h-1zM215.01 246.4h1v1h-1zM214.62 245.79h1v1h-1zM215.75 243.65h1v1h-1zM216.22 245.69h1v1h-1zM214.87 243.71h1v1h-1zM211.45 245.87h1v1h-1zM217.89 239.66h1v1h-1zM213.13 248.46h1v1h-1zM218.2 243.64h1v1h-1zM219.73 243h1v1h-1zM212.24 249.82h1v1h-1zM213.47 244.8h1v1h-1zM209.23 242.94h1v1h-1zM210.89 244.98h1v1h-1zM208.58 247.78h1v1h-1zM213.76 243.89h1v1h-1zM212.78 247.04h1v1h-1zM220.37 244.35h1v1h-1zM220.65 249.06h1v1h-1zM219.7 246h1v1h-1zM209.79 246.87h1v1h-1zM213.57 245.75h1v1h-1zM208.4 244.64h1v1h-1zM215.82 243.11h1v1h-1zM216.03 249.21h1v1h-1zM215.81 243.7h1v1h-1zM223.35 240.27h1v1h-1zM211.78 246.25h1v1h-1zM212.93 239.94h1v1h-1zM215.91 247.24h1v1h-1zM212.22 248.73h1v1h-1zM216.75 248.08h1v1h-1zM209.65 245.29h1v1h-1zM220.61 250.01h1v1h-1zM219.62 245.3h1v1h-1zM215.64 243.83h1v1h-1zM218.85 243.67h1v1h-1zM215.43 240.47h1v1h-1zM209.72 249.46h1v1h-1zM215.21 245.8h1v1h-1zM207.3 245.22h1v1h-1zM222.27 241.8h1v1h-1zM206.66 244.92h1v1h-1zM213.14 244.81h1v1h-1zM210.59 242.12h1v1h-1zM210.66 246.8h1v1h-1zM214.83 247.23h1v1h-1zM211.21 246.68h1v1h-1zM213.45 245.51h1v1h-1zM218.28 245.38h1v1h-1zM213.77 241.4h1v1h-1zM215.22 247.14h1v1h-1zM212.78 245.14h1v1h-1zM208.78 242.17h1v1h-1zM216.42 248.34h1v1h-1zM213.91 241.38h1v1h-1zM213.66 241.63h1v1h-1zM214.03 249.84h1v1h-1zM216.05 244.94h1v1h-1zM218.65 244.41h1v1h-1zM216.17 245.77h1v1h-1zM216.57 241.84h1v1h-1zM217.51 247.38h1v1h-1zM206.95 238.92h1v1h-1zM211.84 248.81h1v1h-1zM215.07 246.9h1v1h-1zM216.96 247.39h1v1h-1zM212.75 243.92h1v1h-1zM216.33 246.73h1v1h-1zM217.03 246.1h1v1h-1zM213.29 247.9h1v1h-1zM216.67 247.81h1v1h-1zM206.01 247.68h1v1h-1zM206.37 245.8h1v1h-1zM212.65 245.58h1v1h-1zM213.31 244.57h1v1h-1zM215.68 246.12h1v1h-1zM212.17 239.32h1v1h-1zM212.24 246.58h1v1h-1zM212.01 246.31h1v1h-1zM213.69 243.07h1v1h-1zM219.14 249.22h1v1h-1zM214.63 245.18h1v1h-1zM218.4 242.16h1v1h-1zM211.9 247.98h1v1h-1zM218.2 244.13h1v1h-1zM212.24 246.13h1v1h-1zM210 244.12h1v1h-1z" fill="#c23a30" fill-opacity="0.55" clip-path="url(#cR)"/>
<path d="M214.4 240.72h1v1h-1zM216.52 246.46h1v1h-1zM217.74 242.54h1v1h-1zM211.7 243.65h1v1h-1zM211.64 248.76h1v1h-1zM212.49 244.54h1v1h-1zM215.53 245.91h1v1h-1zM218.73 243.16h1v1h-1zM217.27 245.37h1v1h-1zM211.98 245.37h1v1h-1zM211.39 247.99h1v1h-1zM213.12 246.9h1v1h-1zM218.35 244h1v1h-1zM212.69 245.33h1v1h-1zM212.3 246.71h1v1h-1zM215.45 243.74h1v1h-1zM213.23 246.4h1v1h-1zM211.26 248.12h1v1h-1zM212.97 244.75h1v1h-1zM212.61 248h1v1h-1zM217.13 247.43h1v1h-1zM216.69 245.26h1v1h-1zM219.38 246.29h1v1h-1zM216.13 246.13h1v1h-1zM216.9 245.6h1v1h-1zM214.57 242.24h1v1h-1zM220.33 242.77h1v1h-1zM209.43 243.82h1v1h-1zM220.01 247.29h1v1h-1zM213.44 245.57h1v1h-1zM214.94 241.54h1v1h-1zM214.13 245.62h1v1h-1zM218.04 242.94h1v1h-1zM209.15 242.27h1v1h-1zM215.86 245.24h1v1h-1zM215.39 245.37h1v1h-1zM214.05 242.65h1v1h-1zM216.18 245.79h1v1h-1zM216.5 247.34h1v1h-1zM211.78 240.9h1v1h-1zM210.37 248.94h1v1h-1zM212.63 245.82h1v1h-1zM214.96 246.41h1v1h-1zM223.34 244.17h1v1h-1zM214.56 244.03h1v1h-1zM215.64 246.04h1v1h-1zM212.48 247.47h1v1h-1zM217.98 245.9h1v1h-1zM214.71 244.67h1v1h-1zM210.73 246.28h1v1h-1zM212.47 244.2h1v1h-1zM217.59 243.45h1v1h-1zM213.64 246.64h1v1h-1zM219.83 243.86h1v1h-1zM217.87 243.92h1v1h-1zM216.01 245.97h1v1h-1zM212.04 246.95h1v1h-1zM219.68 245.19h1v1h-1zM215.7 242.99h1v1h-1zM219.65 245.21h1v1h-1zM211.68 246.48h1v1h-1zM211.2 243.86h1v1h-1zM209.46 247.58h1v1h-1zM220.75 243.96h1v1h-1zM213.3 244.06h1v1h-1zM213.53 246.1h1v1h-1zM218.79 243.29h1v1h-1zM216.14 241.86h1v1h-1zM218.96 244.94h1v1h-1zM213.18 247.86h1v1h-1zM214.72 247.57h1v1h-1zM217.79 248.08h1v1h-1zM212.92 245.2h1v1h-1zM215.96 244.75h1v1h-1zM218.96 243.81h1v1h-1zM217.61 247.55h1v1h-1zM209.92 243.35h1v1h-1zM212.65 244.12h1v1h-1zM216.02 244.79h1v1h-1zM215.21 244.27h1v1h-1zM214.79 245.97h1v1h-1zM216.94 243.69h1v1h-1zM214.7 243.73h1v1h-1zM214.54 242.52h1v1h-1zM217.48 246.31h1v1h-1zM214.68 243.87h1v1h-1zM213.81 243.9h1v1h-1zM210.99 248.04h1v1h-1zM223.55 242.89h1v1h-1zM211.97 246.14h1v1h-1zM216.57 242.27h1v1h-1zM210.01 246.08h1v1h-1zM209.82 247.66h1v1h-1zM213.71 245.25h1v1h-1zM214.99 244.09h1v1h-1zM214.63 244.56h1v1h-1zM218.24 244.93h1v1h-1zM214.92 244.15h1v1h-1zM213.35 243.77h1v1h-1zM215.03 248.41h1v1h-1zM217.9 245.53h1v1h-1zM219.34 246.92h1v1h-1zM215.54 244.8h1v1h-1zM212.15 245.55h1v1h-1zM214.18 242.25h1v1h-1zM211.66 248.59h1v1h-1zM215.56 246h1v1h-1zM215.52 244.26h1v1h-1zM216.2 247.05h1v1h-1zM214.2 246.02h1v1h-1zM217.67 244.23h1v1h-1zM215.44 243.77h1v1h-1zM216.57 244.44h1v1h-1zM217.98 243.72h1v1h-1zM219.39 244.54h1v1h-1zM212.82 243.47h1v1h-1zM216.72 243.56h1v1h-1zM219.69 247.41h1v1h-1zM216.35 242.54h1v1h-1zM214.94 243.79h1v1h-1zM210.29 245.87h1v1h-1zM220.72 244.14h1v1h-1zM217.1 247.41h1v1h-1zM212.5 244.49h1v1h-1zM215.7 245.95h1v1h-1zM212.02 245.49h1v1h-1zM214.72 246.81h1v1h-1zM210.85 244.08h1v1h-1zM213.69 244.53h1v1h-1zM216.88 243.97h1v1h-1zM222.12 243.83h1v1h-1zM217.18 246.94h1v1h-1zM217.51 244.73h1v1h-1zM212.84 244.64h1v1h-1zM216.73 245.32h1v1h-1zM216.51 246.13h1v1h-1zM212.7 243.42h1v1h-1zM218.75 244.23h1v1h-1zM210.88 248.45h1v1h-1zM212.83 243.42h1v1h-1zM217.52 243.06h1v1h-1zM212.74 246.99h1v1h-1zM212.87 249.61h1v1h-1zM215.25 249.93h1v1h-1zM215.34 245.2h1v1h-1zM213.33 244.7h1v1h-1zM213.7 245.06h1v1h-1zM217.01 242.81h1v1h-1zM212.61 241.33h1v1h-1zM218.91 244.97h1v1h-1zM214.96 245h1v1h-1zM217.61 245.68h1v1h-1zM217.21 244.8h1v1h-1zM214.69 245h1v1h-1zM210.16 247.06h1v1h-1zM210.9 243.31h1v1h-1zM216.74 245.2h1v1h-1zM217.11 248.17h1v1h-1zM219.84 247.59h1v1h-1zM214.41 248.79h1v1h-1zM212.71 244.94h1v1h-1zM217.59 244.72h1v1h-1zM214.69 244.46h1v1h-1zM218.55 240.66h1v1h-1zM218.31 247.01h1v1h-1zM214.81 246.11h1v1h-1zM212.48 247.1h1v1h-1zM222.96 243.45h1v1h-1zM218.63 245h1v1h-1zM214.12 244.22h1v1h-1zM214.51 242.85h1v1h-1zM211.47 248.09h1v1h-1zM214.95 246.09h1v1h-1zM215.81 245.96h1v1h-1zM211.03 243.39h1v1h-1zM216.65 246.9h1v1h-1zM212.02 244.06h1v1h-1zM212.22 246.28h1v1h-1zM215.9 245.16h1v1h-1zM213.31 245.72h1v1h-1zM215.08 243.76h1v1h-1zM215.87 243.9h1v1h-1zM217.48 246.23h1v1h-1zM213.21 246.16h1v1h-1zM215.17 243.83h1v1h-1zM212.62 242.11h1v1h-1zM212.06 245.72h1v1h-1zM218.14 243.97h1v1h-1zM215.42 245.72h1v1h-1zM217.03 245.9h1v1h-1zM218.19 246.48h1v1h-1zM213.02 245.81h1v1h-1zM208.91 244.78h1v1h-1zM215.05 246.14h1v1h-1zM214.22 246.6h1v1h-1zM218.43 243.59h1v1h-1zM213.59 245.57h1v1h-1zM216.28 245.36h1v1h-1zM217.16 242.97h1v1h-1zM217.02 247.2h1v1h-1zM217.89 245.87h1v1h-1zM214.38 245.82h1v1h-1zM214.81 242.24h1v1h-1zM213.43 245.03h1v1h-1zM213.66 243.42h1v1h-1zM214.4 244.43h1v1h-1zM215.18 245.01h1v1h-1zM215.45 246.89h1v1h-1zM215.36 245.83h1v1h-1zM211.82 239.79h1v1h-1zM213.96 246.32h1v1h-1zM214.12 243.98h1v1h-1zM211.78 246.71h1v1h-1zM213.63 245.54h1v1h-1zM217.94 246.06h1v1h-1zM220.83 244.86h1v1h-1zM217.49 246.35h1v1h-1zM213.3 245.19h1v1h-1zM213.53 243.26h1v1h-1zM215.78 243.71h1v1h-1zM219.37 243.77h1v1h-1zM213.58 245.26h1v1h-1zM213.65 245.2h1v1h-1zM213.42 242.54h1v1h-1zM208.73 242.78h1v1h-1zM218.96 245.9h1v1h-1zM215.4 244.26h1v1h-1zM214.62 245.64h1v1h-1zM211.39 243.66h1v1h-1zM212.68 247.37h1v1h-1zM212.25 247.21h1v1h-1zM213.79 250.01h1v1h-1zM214.8 245.16h1v1h-1zM218.51 246.67h1v1h-1zM217.44 243.18h1v1h-1zM217.95 248.12h1v1h-1zM214.73 244.23h1v1h-1zM212.16 246.93h1v1h-1zM215.76 245.11h1v1h-1zM211.79 248.02h1v1h-1zM217.28 245.06h1v1h-1zM218.84 243.39h1v1h-1zM217.29 243.3h1v1h-1zM218.67 244.6h1v1h-1zM218.18 244.35h1v1h-1zM216.04 247.16h1v1h-1zM212.65 245.27h1v1h-1zM212.82 246.63h1v1h-1zM213.43 244.43h1v1h-1zM214.47 247.2h1v1h-1zM212.29 245.05h1v1h-1zM214.14 244.11h1v1h-1zM212.95 244.81h1v1h-1zM215.51 242.31h1v1h-1zM215.61 242.97h1v1h-1zM215.04 249.2h1v1h-1zM212.48 244.98h1v1h-1zM214.34 246.87h1v1h-1zM213.77 241.89h1v1h-1zM210.81 245.42h1v1h-1zM215.66 247.02h1v1h-1zM213.6 246.3h1v1h-1zM212.23 247.43h1v1h-1zM214.82 243.88h1v1h-1zM215.46 248.24h1v1h-1zM212.8 242.87h1v1h-1zM212.36 243.02h1v1h-1zM214.87 245.73h1v1h-1zM214.57 245.45h1v1h-1zM218.08 244.58h1v1h-1zM211.74 240.99h1v1h-1zM215.63 243.88h1v1h-1zM214.35 245.84h1v1h-1zM216.2 242.28h1v1h-1zM212.51 245.23h1v1h-1zM214.63 247.16h1v1h-1zM213.7 241.38h1v1h-1zM218.04 242.16h1v1h-1zM212.48 245.8h1v1h-1zM212.25 249.58h1v1h-1zM215.62 246.06h1v1h-1zM213.87 249.09h1v1h-1zM216.4 243.81h1v1h-1zM218.26 242.06h1v1h-1zM213.48 245.62h1v1h-1zM215.36 243.37h1v1h-1zM219.11 247.75h1v1h-1zM212.57 245.77h1v1h-1zM213.35 244.32h1v1h-1zM217.56 245.33h1v1h-1zM214.72 245.28h1v1h-1zM211.95 247.3h1v1h-1zM213.05 247.46h1v1h-1zM213.81 244.28h1v1h-1zM218.86 245.44h1v1h-1zM213.34 244.14h1v1h-1zM216.57 248.47h1v1h-1zM216.6 244.39h1v1h-1zM212.08 243.89h1v1h-1zM214.69 245.54h1v1h-1zM213.3 247.4h1v1h-1zM212.51 243.81h1v1h-1zM216.29 245.97h1v1h-1zM213.99 246.83h1v1h-1zM211.34 248.04h1v1h-1zM220.69 248.61h1v1h-1zM215.31 248.64h1v1h-1zM215.14 247.49h1v1h-1zM214.48 245.45h1v1h-1zM216.36 241.96h1v1h-1zM214.46 248.19h1v1h-1zM207.4 245.79h1v1h-1zM217.4 245.69h1v1h-1zM215.51 247.6h1v1h-1zM215.87 241.69h1v1h-1zM212.54 244.57h1v1h-1zM215.38 244.29h1v1h-1zM214.73 248.1h1v1h-1zM207.38 247.17h1v1h-1zM217.43 246.18h1v1h-1zM215.04 245.21h1v1h-1zM215.95 245.54h1v1h-1zM213.12 246.51h1v1h-1zM212.85 245.03h1v1h-1zM214.07 243.03h1v1h-1zM216.57 244.98h1v1h-1zM211.97 244.96h1v1h-1zM211.42 247.68h1v1h-1zM216.34 248.67h1v1h-1zM213.53 246.37h1v1h-1zM212.49 243.57h1v1h-1zM214.77 245.84h1v1h-1zM217.4 244.62h1v1h-1zM217.86 246.83h1v1h-1zM212.73 244.78h1v1h-1zM212.62 248.16h1v1h-1zM213.57 246.69h1v1h-1zM217.37 244.64h1v1h-1zM213.74 245.72h1v1h-1zM212.99 242.83h1v1h-1zM212.5 245.71h1v1h-1zM215.5 248.26h1v1h-1zM210.27 246h1v1h-1zM212.01 247.17h1v1h-1zM216.8 245.33h1v1h-1zM218.82 244.43h1v1h-1zM213.63 243.22h1v1h-1zM213.3 245.31h1v1h-1zM216.74 247.39h1v1h-1zM214.3 243.79h1v1h-1z" fill="#b3201d" fill-opacity="0.85" clip-path="url(#cR)"/>
<path d="M208.3 270.21h1v1h-1zM207.82 270.32h1v1h-1zM206.38 271.78h1v1h-1zM207.67 271.3h1v1h-1zM204.54 272.61h1v1h-1zM211.55 274.7h1v1h-1zM207.54 267.24h1v1h-1zM204.85 267.11h1v1h-1zM207.2 270.71h1v1h-1zM203.16 274.79h1v1h-1zM204 269.14h1v1h-1zM206.92 275.46h1v1h-1zM216.07 270.53h1v1h-1zM208.52 270.37h1v1h-1zM208.79 271.29h1v1h-1zM218.31 267.47h1v1h-1zM209.11 268.72h1v1h-1zM210.77 269.84h1v1h-1zM211.55 267.5h1v1h-1zM217.03 272.87h1v1h-1zM203.2 274.91h1v1h-1zM207.83 267.2h1v1h-1zM211.07 269.85h1v1h-1zM212.13 269.73h1v1h-1zM212.72 272.62h1v1h-1zM210.77 272.66h1v1h-1zM208.2 270.5h1v1h-1zM211.11 274.95h1v1h-1zM208.05 281.29h1v1h-1zM215.53 267.25h1v1h-1zM213.37 271.71h1v1h-1zM210.33 268.73h1v1h-1zM215.38 268.59h1v1h-1zM209.21 269h1v1h-1zM216.38 277.2h1v1h-1zM204.81 270.14h1v1h-1zM210.8 270.22h1v1h-1zM208.24 267.55h1v1h-1zM210.39 267.48h1v1h-1zM212.46 281.93h1v1h-1zM208.34 278.81h1v1h-1zM210.83 269.23h1v1h-1zM208.28 268.03h1v1h-1zM209.91 274.9h1v1h-1zM212.81 270.85h1v1h-1zM205.26 271.69h1v1h-1zM215.44 273.17h1v1h-1zM209.28 263.42h1v1h-1zM207.96 274.26h1v1h-1zM206.14 277.58h1v1h-1zM207.49 268.41h1v1h-1zM207.44 271.63h1v1h-1zM213.05 269.68h1v1h-1zM203.17 271.68h1v1h-1zM211.35 278.37h1v1h-1zM205.52 278.12h1v1h-1zM211.9 273.89h1v1h-1zM206.78 268.37h1v1h-1zM206.11 275.86h1v1h-1zM210.28 276.41h1v1h-1zM215.95 272.09h1v1h-1zM209.33 279.91h1v1h-1zM204.88 270.17h1v1h-1zM208.19 270.45h1v1h-1zM210.01 268.56h1v1h-1zM213.62 266.4h1v1h-1zM206.61 265.06h1v1h-1zM204.54 274.43h1v1h-1zM211.73 271.21h1v1h-1zM212.49 274.56h1v1h-1zM207.46 271.86h1v1h-1zM210.8 280.29h1v1h-1zM207.94 273.54h1v1h-1zM211.43 277.03h1v1h-1zM211.01 276.43h1v1h-1zM205.73 270.94h1v1h-1zM202.65 271.81h1v1h-1zM217.76 273.02h1v1h-1zM209.82 273.11h1v1h-1zM210.01 266.58h1v1h-1zM207.05 271.31h1v1h-1zM210.1 268.48h1v1h-1zM209.13 269.01h1v1h-1zM204.83 269.32h1v1h-1zM206.65 275.47h1v1h-1zM214.24 274.4h1v1h-1zM208.75 269.74h1v1h-1zM203.94 269.86h1v1h-1zM215.04 276.76h1v1h-1zM210.3 271.02h1v1h-1zM209.52 273.76h1v1h-1zM209.47 273.78h1v1h-1zM206.77 272.21h1v1h-1zM208.26 276.44h1v1h-1zM205.11 277.35h1v1h-1zM209.2 269.96h1v1h-1zM209.58 272.53h1v1h-1zM208.68 273.77h1v1h-1zM207.46 265.09h1v1h-1zM211.96 271.92h1v1h-1zM215.39 273.61h1v1h-1zM202.42 277.11h1v1h-1zM207.07 274.27h1v1h-1zM217.35 276.5h1v1h-1zM205.63 271.66h1v1h-1zM203.82 274.77h1v1h-1zM211.49 267.83h1v1h-1zM211.1 275.86h1v1h-1zM212.36 269.29h1v1h-1zM207.05 267.44h1v1h-1zM204.93 273.32h1v1h-1zM209.64 277.36h1v1h-1zM210.47 270.71h1v1h-1zM204.45 278.35h1v1h-1zM210.08 271.91h1v1h-1zM205.95 267.75h1v1h-1zM211.74 268.05h1v1h-1zM211.57 274.6h1v1h-1zM208.15 265.4h1v1h-1zM210.95 277.78h1v1h-1zM206.58 266.88h1v1h-1zM213.35 272.62h1v1h-1zM207.3 277.05h1v1h-1zM208.52 273.88h1v1h-1zM208.08 268.97h1v1h-1zM210.28 268.53h1v1h-1zM203.23 269.83h1v1h-1zM213.86 276.52h1v1h-1zM217.19 276.09h1v1h-1zM215.2 273.06h1v1h-1zM207.96 273.94h1v1h-1zM206.15 275.04h1v1h-1zM207.92 273.09h1v1h-1zM206.49 271.49h1v1h-1zM212.96 271.16h1v1h-1zM207.12 273.19h1v1h-1zM212.61 271.28h1v1h-1zM205.37 265.69h1v1h-1zM204.77 276.38h1v1h-1zM209.19 273.99h1v1h-1zM213.29 273.2h1v1h-1zM211.2 269.99h1v1h-1zM203.81 274.6h1v1h-1zM209.16 274.38h1v1h-1zM205.74 271.47h1v1h-1zM216.62 268.62h1v1h-1zM209.85 277.37h1v1h-1zM208.68 272.55h1v1h-1zM201.98 275.2h1v1h-1zM207.94 277.27h1v1h-1zM209.18 270.53h1v1h-1zM211.04 271.07h1v1h-1zM207.68 278.32h1v1h-1zM212.97 272.49h1v1h-1zM212.35 275.4h1v1h-1zM211.55 272.24h1v1h-1zM209.76 273.71h1v1h-1zM211.49 273.49h1v1h-1zM207.56 271.75h1v1h-1zM211.12 268.07h1v1h-1zM209.47 275.12h1v1h-1zM210.1 270.9h1v1h-1zM209.42 270.1h1v1h-1zM212.97 270.53h1v1h-1zM203.63 267.18h1v1h-1zM210.56 272.9h1v1h-1zM207.84 266.76h1v1h-1zM208.97 268.67h1v1h-1zM207.19 272.05h1v1h-1zM206.8 273.32h1v1h-1zM206.89 270.18h1v1h-1zM208.7 277.95h1v1h-1zM215.06 275.87h1v1h-1zM206.91 272.08h1v1h-1zM212.72 275.31h1v1h-1zM203.76 271.84h1v1h-1zM206.89 275.08h1v1h-1zM211.75 269.9h1v1h-1zM217.05 270.95h1v1h-1zM218.11 271.38h1v1h-1zM209.2 279.7h1v1h-1zM207.64 270.17h1v1h-1zM214.7 271.91h1v1h-1zM211.19 267.01h1v1h-1zM215.8 276.01h1v1h-1zM210.76 274.9h1v1h-1zM207.74 270.16h1v1h-1zM203.96 273.55h1v1h-1zM213.86 275.5h1v1h-1zM212.74 274.91h1v1h-1zM206.26 266.83h1v1h-1zM211.76 272.73h1v1h-1zM212.97 270.96h1v1h-1zM206.39 273.85h1v1h-1zM207.54 265.49h1v1h-1zM207.36 268.55h1v1h-1zM205.57 269.86h1v1h-1zM212.84 281.49h1v1h-1zM215.59 270.41h1v1h-1zM213.53 271.78h1v1h-1zM210.92 269.36h1v1h-1zM209.24 265.35h1v1h-1zM215.81 269.01h1v1h-1zM211.56 269.72h1v1h-1zM210.45 267.36h1v1h-1zM208.18 275.72h1v1h-1zM211.59 264.3h1v1h-1zM212.5 266.82h1v1h-1zM210.51 274.14h1v1h-1zM207.24 270.8h1v1h-1zM208.63 273.67h1v1h-1zM212.72 277.51h1v1h-1zM210.65 280.04h1v1h-1zM206.16 279.18h1v1h-1zM208.58 275.13h1v1h-1zM209.06 272.4h1v1h-1zM206.27 273.62h1v1h-1zM216.64 272.66h1v1h-1zM209.43 272.09h1v1h-1zM212.01 271.25h1v1h-1zM209.49 272.93h1v1h-1zM214.09 275.87h1v1h-1zM205.79 269.55h1v1h-1zM209.57 275.45h1v1h-1zM212.91 271.24h1v1h-1zM217 271.42h1v1h-1zM214.45 277.75h1v1h-1zM215.12 272.87h1v1h-1zM211.53 265.97h1v1h-1zM203.23 269.63h1v1h-1zM212.04 276.32h1v1h-1zM209.14 276.22h1v1h-1zM211.54 278.15h1v1h-1zM203.89 268.76h1v1h-1zM206.13 267.9h1v1h-1zM215.31 268.38h1v1h-1zM206.58 270.48h1v1h-1zM212.62 270.23h1v1h-1zM212.1 274.26h1v1h-1zM207.25 262.64h1v1h-1zM206.27 267.09h1v1h-1zM215.27 269.2h1v1h-1zM205.73 273.57h1v1h-1zM209.69 268.33h1v1h-1zM213.36 275.72h1v1h-1zM210.48 269.04h1v1h-1zM206.42 263.89h1v1h-1zM210.85 273.63h1v1h-1zM206.26 272.17h1v1h-1zM221.06 267.56h1v1h-1zM203.48 274.5h1v1h-1zM208 270.09h1v1h-1zM211.69 271.54h1v1h-1zM213.01 274.12h1v1h-1zM213.6 272.54h1v1h-1zM201.89 277.48h1v1h-1zM203.5 276.22h1v1h-1zM210.39 266.52h1v1h-1zM209.74 275.57h1v1h-1zM205.9 272.23h1v1h-1zM206.89 268.05h1v1h-1zM207.32 277.15h1v1h-1zM211.92 271.94h1v1h-1zM209.21 272.56h1v1h-1zM210.51 272.79h1v1h-1zM203.44 275.72h1v1h-1zM206.48 261.66h1v1h-1zM211.98 267.23h1v1h-1zM209 271.68h1v1h-1zM207.41 274.19h1v1h-1zM208.54 270.94h1v1h-1zM206.13 270.93h1v1h-1zM205.84 272.22h1v1h-1zM214.18 276.08h1v1h-1zM211.01 266.61h1v1h-1zM213.14 275.78h1v1h-1zM216.79 263.06h1v1h-1zM209.56 270.72h1v1h-1zM213.35 267.71h1v1h-1zM208.16 281.31h1v1h-1zM213.02 264.08h1v1h-1zM209.57 277.51h1v1h-1zM207.32 274.43h1v1h-1zM209.85 266.2h1v1h-1zM207.28 276.58h1v1h-1zM213.69 269.64h1v1h-1zM213.48 269.19h1v1h-1zM210.37 271.95h1v1h-1zM205.08 273.32h1v1h-1zM208.12 261.06h1v1h-1zM206.57 268.65h1v1h-1zM206.54 268.13h1v1h-1zM207.06 262.23h1v1h-1zM212.65 272.32h1v1h-1zM210.4 270.97h1v1h-1zM209.73 270.98h1v1h-1zM205.64 265.95h1v1h-1zM209.76 276.1h1v1h-1zM210.33 278.49h1v1h-1zM204.67 270.97h1v1h-1zM207.31 276.97h1v1h-1zM215.5 269.94h1v1h-1zM212.09 271.06h1v1h-1zM205.96 271.58h1v1h-1zM205.81 278.24h1v1h-1zM211.59 276.79h1v1h-1zM210.77 262.28h1v1h-1zM212.34 272.39h1v1h-1zM201.06 272.43h1v1h-1zM213.08 278.88h1v1h-1zM205.88 275.19h1v1h-1zM210.68 271.33h1v1h-1zM208.5 274.15h1v1h-1zM211.54 274.66h1v1h-1zM208.06 266.73h1v1h-1zM214.17 277.23h1v1h-1zM207.5 271.89h1v1h-1zM212.36 264.96h1v1h-1zM211.27 281.73h1v1h-1zM210.46 269.19h1v1h-1zM216.74 272.05h1v1h-1zM210.25 270.31h1v1h-1zM210.14 264.8h1v1h-1zM204.96 266.09h1v1h-1zM212.69 271.64h1v1h-1zM213.58 263.82h1v1h-1zM207.38 277.87h1v1h-1zM206.7 264.52h1v1h-1zM206.86 270.62h1v1h-1zM209.45 277.25h1v1h-1zM214.21 278.25h1v1h-1zM211.56 269.99h1v1h-1zM207.75 266.06h1v1h-1zM214.01 277.05h1v1h-1zM209.82 268.43h1v1h-1zM211.89 273.98h1v1h-1zM210.05 267.33h1v1h-1zM210.35 269.73h1v1h-1zM212.12 274.41h1v1h-1zM211.06 270.29h1v1h-1zM214.89 275.13h1v1h-1zM213.99 275.38h1v1h-1zM211.85 273.58h1v1h-1zM205.72 264.69h1v1h-1zM206.19 274.48h1v1h-1zM212.72 272.74h1v1h-1zM209.82 279.4h1v1h-1zM208.09 264.83h1v1h-1zM204.03 270.71h1v1h-1zM211.98 274.97h1v1h-1zM208.72 275.3h1v1h-1zM209.33 269.09h1v1h-1zM208.16 275.05h1v1h-1zM212.87 267.48h1v1h-1zM206.01 272.5h1v1h-1zM217.01 267.3h1v1h-1zM205.07 273.69h1v1h-1zM211.3 269.54h1v1h-1zM209.41 273.96h1v1h-1zM203.34 271.91h1v1h-1zM211.62 275.72h1v1h-1zM213.62 271.72h1v1h-1zM204.41 277.41h1v1h-1zM212.22 269.44h1v1h-1zM213.16 276.19h1v1h-1zM209.01 262.5h1v1h-1zM207.85 268.96h1v1h-1zM206.55 271.68h1v1h-1zM205.69 273.57h1v1h-1zM216.17 267.21h1v1h-1zM213.17 269.86h1v1h-1zM211.42 271.49h1v1h-1zM214.03 269.14h1v1h-1zM212.09 268.88h1v1h-1zM210.31 271.95h1v1h-1zM213.34 265.65h1v1h-1zM204.74 277.61h1v1h-1zM210.86 278.84h1v1h-1zM205.87 272.85h1v1h-1zM211.63 279.12h1v1h-1zM209.31 270.2h1v1h-1zM212.02 271.59h1v1h-1zM206.86 275.07h1v1h-1zM202.79 267.92h1v1h-1zM214.3 269.99h1v1h-1zM208.36 273.5h1v1h-1zM213.45 274.13h1v1h-1zM206.1 269.72h1v1h-1zM213.2 271.52h1v1h-1zM207.28 275.52h1v1h-1zM213.52 280.76h1v1h-1zM205.71 269.16h1v1h-1zM207.06 273.43h1v1h-1zM207.82 276.49h1v1h-1zM200.04 275.87h1v1h-1zM207.24 270.9h1v1h-1zM211.5 272.82h1v1h-1zM205.94 278.05h1v1h-1zM211.53 270.02h1v1h-1zM210.24 267.55h1v1h-1zM205.18 270.79h1v1h-1zM210.79 272.41h1v1h-1zM206.77 266.42h1v1h-1zM203.6 278.43h1v1h-1zM210.8 268.78h1v1h-1zM213.67 274.18h1v1h-1zM208.05 269.53h1v1h-1zM213.5 273.32h1v1h-1zM215.25 273.46h1v1h-1zM207.45 269.59h1v1h-1zM207.03 273.02h1v1h-1zM210.39 274.45h1v1h-1zM211.09 267.77h1v1h-1zM208.78 268.21h1v1h-1zM211.19 266.7h1v1h-1zM207.46 268.54h1v1h-1zM207.33 270.97h1v1h-1zM214.8 270.97h1v1h-1zM204.47 270.79h1v1h-1zM212.13 274.23h1v1h-1zM210.34 280.02h1v1h-1zM213.39 272.37h1v1h-1zM213.76 266.61h1v1h-1zM208.91 268.51h1v1h-1zM210.12 278.52h1v1h-1zM207.76 278.42h1v1h-1zM205.92 277.75h1v1h-1zM203.57 268.58h1v1h-1zM213 271.63h1v1h-1zM210.01 271.95h1v1h-1zM210.13 271.28h1v1h-1zM206.07 270.83h1v1h-1zM209.89 268.37h1v1h-1zM211.14 279.1h1v1h-1zM203.76 269.81h1v1h-1zM208.52 272.08h1v1h-1zM209.84 269.08h1v1h-1zM209.38 272.02h1v1h-1zM209.2 278.21h1v1h-1zM209.96 266.05h1v1h-1zM204.02 274.38h1v1h-1zM208.31 269.51h1v1h-1zM204.76 270.76h1v1h-1zM209.18 269.24h1v1h-1zM208.27 275.57h1v1h-1zM212.25 274.2h1v1h-1zM208.89 266.53h1v1h-1zM212.22 278.03h1v1h-1zM213.96 276.69h1v1h-1zM210.47 273.51h1v1h-1zM209.45 277.05h1v1h-1zM208.56 280.65h1v1h-1zM212.22 270.71h1v1h-1zM209.5 265.52h1v1h-1zM206.94 270.79h1v1h-1zM218.07 268.72h1v1h-1zM212.71 272.31h1v1h-1zM208.47 274.52h1v1h-1zM202.53 275.81h1v1h-1zM216.27 273.19h1v1h-1zM209.28 272.65h1v1h-1zM211.82 270.03h1v1h-1zM209.92 274.03h1v1h-1zM208.28 273.57h1v1h-1zM210.67 274.88h1v1h-1zM206.05 269.84h1v1h-1zM208.01 276.83h1v1h-1zM210.37 265.34h1v1h-1zM205.04 279.82h1v1h-1zM210.69 266.79h1v1h-1zM206.32 272.57h1v1h-1zM214.49 278.53h1v1h-1zM208.23 270.8h1v1h-1zM216.21 268.04h1v1h-1zM214.97 273.37h1v1h-1zM209.83 277.19h1v1h-1zM211.19 268.63h1v1h-1zM204.17 272.07h1v1h-1zM211.29 277.51h1v1h-1zM200.37 277.41h1v1h-1zM211.67 278.12h1v1h-1zM212.29 272.86h1v1h-1zM211.01 273.61h1v1h-1zM207.31 271.54h1v1h-1zM209.95 270.18h1v1h-1zM204.38 266.17h1v1h-1zM211.27 274.1h1v1h-1zM209.88 267.29h1v1h-1zM212.48 270.42h1v1h-1zM202.25 278.31h1v1h-1zM204.29 281.09h1v1h-1zM211.36 270.22h1v1h-1zM201.28 269.16h1v1h-1zM214.68 277.49h1v1h-1zM210.41 265.09h1v1h-1zM208.17 270.86h1v1h-1zM211.12 271.5h1v1h-1zM210.71 265.42h1v1h-1zM207.25 277.82h1v1h-1zM204.42 275.73h1v1h-1zM217.57 274.63h1v1h-1zM204.65 277.03h1v1h-1zM203.02 273.36h1v1h-1zM208.07 277h1v1h-1zM213.62 272.77h1v1h-1zM215.76 275.97h1v1h-1zM207.83 268.03h1v1h-1zM218.11 270.36h1v1h-1zM210.94 271.53h1v1h-1zM207.85 265.51h1v1h-1zM208.99 271.54h1v1h-1zM212.93 269.92h1v1h-1zM204.03 267.66h1v1h-1zM209.36 273.01h1v1h-1zM212.03 270.46h1v1h-1zM211.39 272.58h1v1h-1zM215.4 271.78h1v1h-1zM210.01 274.29h1v1h-1zM213.76 268.28h1v1h-1zM207.84 270.89h1v1h-1zM202.05 277.27h1v1h-1zM213.25 272.09h1v1h-1zM221.27 277.14h1v1h-1zM216.57 278.35h1v1h-1zM212.67 266.28h1v1h-1zM214.86 273.7h1v1h-1zM205.32 272.22h1v1h-1zM212.14 275.98h1v1h-1zM210.11 269.89h1v1h-1zM212.18 268.92h1v1h-1zM209.23 275.09h1v1h-1zM204.47 273.52h1v1h-1zM202.65 268.25h1v1h-1zM205.2 271.64h1v1h-1zM212 271.8h1v1h-1zM212.7 272.39h1v1h-1zM208.78 273.99h1v1h-1zM208.67 272.55h1v1h-1zM213.14 269.69h1v1h-1zM213.53 267.52h1v1h-1zM208.73 264.98h1v1h-1zM207.65 278.43h1v1h-1zM210.75 277.14h1v1h-1zM204.36 267.91h1v1h-1zM211.13 275.35h1v1h-1zM212.43 265.22h1v1h-1zM211.29 271.71h1v1h-1zM209.92 273.93h1v1h-1zM208.52 265.15h1v1h-1zM205.76 266.14h1v1h-1zM204.9 271.46h1v1h-1zM214.08 269.11h1v1h-1zM206.83 267.35h1v1h-1zM203.45 272.27h1v1h-1zM207.8 271.03h1v1h-1zM206.14 273.97h1v1h-1zM205.29 274.22h1v1h-1zM207.18 275.19h1v1h-1zM206.39 273.8h1v1h-1zM211.04 271.68h1v1h-1zM215.22 272.71h1v1h-1zM206.39 274.81h1v1h-1zM206.61 269.81h1v1h-1zM209.54 272.74h1v1h-1zM215.48 264.92h1v1h-1zM208.6 276.58h1v1h-1zM208.94 273.3h1v1h-1zM214.85 267.01h1v1h-1zM209.65 275.22h1v1h-1zM207.44 264.9h1v1h-1zM206 272.79h1v1h-1zM210.17 279.47h1v1h-1zM214.15 265.73h1v1h-1zM213.14 275.71h1v1h-1zM215.18 271.38h1v1h-1zM207.55 272.6h1v1h-1zM214.92 274.53h1v1h-1zM215.45 275.19h1v1h-1zM207.44 267.9h1v1h-1zM216 265.86h1v1h-1zM208.27 270.71h1v1h-1zM206.3 269.68h1v1h-1zM209.52 281.65h1v1h-1zM209.27 269.88h1v1h-1zM209.94 275.81h1v1h-1zM206.64 270.35h1v1h-1zM203.37 274.85h1v1h-1zM211.89 278.1h1v1h-1zM205.3 280.83h1v1h-1zM212.56 270.88h1v1h-1zM208.13 270.74h1v1h-1zM205.25 275.13h1v1h-1zM207.37 269.06h1v1h-1zM211.31 272.46h1v1h-1zM207.45 271.05h1v1h-1zM207.77 277.47h1v1h-1zM213.02 269.05h1v1h-1zM209.36 277.57h1v1h-1zM208.49 279.24h1v1h-1zM211.06 274.72h1v1h-1zM202.21 275.45h1v1h-1zM210.69 274.37h1v1h-1zM211.19 274.14h1v1h-1zM207.72 275.66h1v1h-1zM209.72 267.74h1v1h-1zM205.93 272.66h1v1h-1zM210.68 263.03h1v1h-1zM202.26 276.27h1v1h-1zM209.46 283.59h1v1h-1zM204.12 270.99h1v1h-1zM207.39 274.27h1v1h-1zM214.45 278.56h1v1h-1zM205.96 277.02h1v1h-1zM205.23 273.25h1v1h-1zM210.1 274.53h1v1h-1zM206.69 277.44h1v1h-1zM209.26 271.92h1v1h-1zM208.56 267.66h1v1h-1zM212.03 273.37h1v1h-1zM211.1 279.59h1v1h-1zM206.45 270.84h1v1h-1zM209.53 275.48h1v1h-1zM208.88 275.8h1v1h-1zM211.1 264.84h1v1h-1zM207.1 263.73h1v1h-1zM208.5 270.3h1v1h-1zM211.57 272.69h1v1h-1zM209.28 277.14h1v1h-1zM211.59 266.99h1v1h-1zM207.08 273.34h1v1h-1zM215.48 271.19h1v1h-1zM208.9 273.08h1v1h-1zM212.25 271.63h1v1h-1zM210.54 270.28h1v1h-1zM207.57 268.77h1v1h-1zM211.82 269.73h1v1h-1zM211.43 273.65h1v1h-1zM212.92 261.06h1v1h-1zM206.11 267.03h1v1h-1zM208.92 275.28h1v1h-1zM218.41 278.3h1v1h-1zM214.27 273.56h1v1h-1zM208.14 274.19h1v1h-1zM201.84 275.8h1v1h-1zM209.53 274.52h1v1h-1zM205.88 267.54h1v1h-1zM207.24 271.82h1v1h-1zM210.73 270.55h1v1h-1zM210.73 274.78h1v1h-1zM205.42 271.59h1v1h-1zM204.03 269.76h1v1h-1zM212.68 269.08h1v1h-1zM216.05 274.06h1v1h-1zM212.63 272.43h1v1h-1zM212.54 276.46h1v1h-1zM209.88 269.84h1v1h-1zM207.57 279.88h1v1h-1zM208.86 270.13h1v1h-1zM207.01 265.12h1v1h-1zM207.74 273.33h1v1h-1zM207.79 268.9h1v1h-1zM210.94 273.88h1v1h-1zM207.97 273.26h1v1h-1zM206.08 275.51h1v1h-1zM206.03 270.63h1v1h-1zM209.98 270.29h1v1h-1zM205.47 280.57h1v1h-1zM214.83 264.88h1v1h-1zM209.93 266.82h1v1h-1zM210.6 266.68h1v1h-1zM211.54 274.17h1v1h-1zM215.51 276.92h1v1h-1zM207.89 275.86h1v1h-1zM207.89 271.54h1v1h-1zM207.74 264.8h1v1h-1zM211.62 263.69h1v1h-1zM208.67 274.15h1v1h-1zM209.9 265.56h1v1h-1zM207.22 274.78h1v1h-1zM213.37 278.52h1v1h-1zM203.12 273.88h1v1h-1zM207.81 275.12h1v1h-1zM203.56 271.42h1v1h-1zM211.99 269.37h1v1h-1zM208.23 268h1v1h-1zM213.42 266.57h1v1h-1zM206.29 270.64h1v1h-1zM208.39 280.64h1v1h-1zM210.47 268.6h1v1h-1zM211.54 273.4h1v1h-1zM210.49 271.74h1v1h-1zM211.13 267.21h1v1h-1zM205.27 270.26h1v1h-1zM205.62 274.87h1v1h-1zM216.33 277.06h1v1h-1zM211.07 273.38h1v1h-1zM207.09 266.69h1v1h-1zM211.43 265.95h1v1h-1zM210.56 271.42h1v1h-1zM212.14 272.21h1v1h-1z" fill="#3940a8" fill-opacity="0.6" clip-path="url(#cB)"/>
<path d="M213.69 257.24h1v1h-1zM210.47 258.16h1v1h-1zM214.72 263.57h1v1h-1zM215.92 255.62h1v1h-1zM211.85 262.23h1v1h-1zM212.7 269.52h1v1h-1zM214.05 253.58h1v1h-1zM212.52 265.62h1v1h-1zM210.29 260.09h1v1h-1zM211.06 265.74h1v1h-1zM212.71 255.49h1v1h-1zM210.5 256.72h1v1h-1zM209.01 257.65h1v1h-1zM217.34 259.89h1v1h-1zM213.03 254.98h1v1h-1zM214.1 257.66h1v1h-1zM212.01 264.89h1v1h-1zM214.27 256.04h1v1h-1zM216.1 259.29h1v1h-1zM214.39 260.08h1v1h-1zM215.57 261.9h1v1h-1zM212.89 262.3h1v1h-1zM212.81 260.02h1v1h-1zM216.39 255.36h1v1h-1zM211.68 257.94h1v1h-1zM212.62 264.57h1v1h-1zM210.7 268.44h1v1h-1zM216.29 257.75h1v1h-1zM213.83 258.09h1v1h-1zM214.68 262.08h1v1h-1zM214.82 262.49h1v1h-1zM216.9 258.84h1v1h-1zM214.73 258.77h1v1h-1zM213.57 260.36h1v1h-1zM213.41 260.85h1v1h-1zM212 258.9h1v1h-1zM212.44 254.94h1v1h-1zM212.26 257.56h1v1h-1zM213.24 253.41h1v1h-1zM213.05 255.1h1v1h-1zM212.06 260.24h1v1h-1zM215.45 260.62h1v1h-1zM212.64 257.79h1v1h-1zM215.86 253.17h1v1h-1zM215.51 253.64h1v1h-1zM212.38 259.68h1v1h-1zM213.11 265.99h1v1h-1zM214.37 259.31h1v1h-1zM215.18 259.65h1v1h-1zM212.08 263.88h1v1h-1zM216.14 264.5h1v1h-1zM211.43 266.94h1v1h-1zM212.77 262.5h1v1h-1zM215.6 268.78h1v1h-1zM210.65 255.52h1v1h-1zM215.58 261.43h1v1h-1zM212.95 248.08h1v1h-1zM214.28 258.77h1v1h-1zM208.9 269.96h1v1h-1zM209.09 257.32h1v1h-1zM213.49 260.41h1v1h-1zM214.83 258.46h1v1h-1zM211.92 258.09h1v1h-1zM209.79 255.14h1v1h-1zM216.98 256.82h1v1h-1zM213.36 266.91h1v1h-1zM215.36 259.98h1v1h-1zM214.8 258.45h1v1h-1zM211.9 263.41h1v1h-1zM213.74 265.76h1v1h-1zM213.04 258.04h1v1h-1zM214.11 258.76h1v1h-1zM212.95 256h1v1h-1zM213.95 260.76h1v1h-1zM216.73 259.4h1v1h-1zM210.4 261.32h1v1h-1zM217.54 257.78h1v1h-1zM212.09 258.85h1v1h-1zM208.45 258.19h1v1h-1zM213.17 253.59h1v1h-1zM214.52 256.08h1v1h-1zM210.24 256.69h1v1h-1zM214.62 267.02h1v1h-1zM215.71 260.26h1v1h-1zM212.6 258.48h1v1h-1zM215.21 257.47h1v1h-1zM214.24 263.28h1v1h-1zM211.9 257.2h1v1h-1zM214.29 259.53h1v1h-1zM213.28 257.43h1v1h-1zM213.39 266.76h1v1h-1zM215.9 253.19h1v1h-1zM213.58 259.86h1v1h-1zM213.57 254.1h1v1h-1zM213.27 260.08h1v1h-1zM212.3 260.73h1v1h-1zM209.2 253.6h1v1h-1zM213.68 261.03h1v1h-1zM213.21 257.71h1v1h-1zM213.83 263.74h1v1h-1zM215.09 259.19h1v1h-1zM212.68 263.66h1v1h-1zM214.46 262.96h1v1h-1zM213.01 256.13h1v1h-1zM213.83 257.05h1v1h-1zM215.53 262.85h1v1h-1zM209.65 262.11h1v1h-1zM215.85 263.56h1v1h-1zM212.66 256.13h1v1h-1zM215.21 263.47h1v1h-1zM213.61 254.98h1v1h-1zM210.8 260.55h1v1h-1zM212.04 256.84h1v1h-1zM214.29 263.61h1v1h-1zM209.85 256.88h1v1h-1zM215.8 259.33h1v1h-1zM212.89 262h1v1h-1zM211.49 254.71h1v1h-1zM213.54 265.62h1v1h-1zM215.29 259.48h1v1h-1zM215.29 257.89h1v1h-1zM211.42 252.94h1v1h-1zM213.98 263.03h1v1h-1zM214.16 259.35h1v1h-1zM212.79 263.77h1v1h-1zM213.42 253.86h1v1h-1zM215.92 256.96h1v1h-1zM214.19 259.51h1v1h-1zM215.36 260.47h1v1h-1zM215.67 260.33h1v1h-1zM212.69 257.51h1v1h-1zM214.65 256.25h1v1h-1zM215.14 258.56h1v1h-1zM211.86 256.08h1v1h-1zM213.24 266.44h1v1h-1zM214.86 259.58h1v1h-1zM211.9 266.97h1v1h-1zM213.01 259.5h1v1h-1zM212.75 264.73h1v1h-1zM213.81 257.71h1v1h-1zM213.83 255.59h1v1h-1zM211.64 258.87h1v1h-1zM208.41 264.11h1v1h-1zM217.02 255.14h1v1h-1zM213.25 253.32h1v1h-1zM213.8 260.33h1v1h-1zM214.81 254.27h1v1h-1zM212.44 256.96h1v1h-1zM213.07 268.46h1v1h-1zM213.15 259.34h1v1h-1zM212.6 262.62h1v1h-1zM218.03 264.06h1v1h-1zM216.21 255.29h1v1h-1zM215.37 259.61h1v1h-1zM215.71 263.65h1v1h-1zM214.66 252.93h1v1h-1zM213.74 257.54h1v1h-1zM214.29 259.65h1v1h-1zM215.36 253.21h1v1h-1zM212.19 259.2h1v1h-1zM214.07 257.91h1v1h-1zM213.45 259.72h1v1h-1zM215.35 259.06h1v1h-1zM213.93 252.37h1v1h-1zM208.87 253.76h1v1h-1zM214.13 250.45h1v1h-1zM214.23 259.12h1v1h-1zM213.5 256.63h1v1h-1zM212.76 262.76h1v1h-1zM214.13 259.4h1v1h-1zM212.64 260.33h1v1h-1zM215.61 259.42h1v1h-1zM212.85 254.87h1v1h-1zM213.68 255.9h1v1h-1zM210.96 262.92h1v1h-1zM212.4 251.5h1v1h-1zM212.23 266.74h1v1h-1zM213.31 254.3h1v1h-1zM211.55 262.32h1v1h-1zM214.22 260.34h1v1h-1zM213.15 261.4h1v1h-1zM216.23 261.42h1v1h-1zM213.21 254.01h1v1h-1zM214.29 265.66h1v1h-1zM214.65 254.56h1v1h-1zM213.83 264.61h1v1h-1zM212.38 261.44h1v1h-1zM215.64 265.93h1v1h-1zM210.68 252.63h1v1h-1zM214.16 262.26h1v1h-1zM212.87 259.42h1v1h-1zM212.78 264.22h1v1h-1zM209.58 260.5h1v1h-1zM211.23 256.84h1v1h-1zM210.78 255.92h1v1h-1zM213.46 259.6h1v1h-1zM216.67 258.63h1v1h-1zM214.11 260.89h1v1h-1zM213.96 265.27h1v1h-1zM213.75 260.09h1v1h-1zM213.3 259.52h1v1h-1zM213.4 263.42h1v1h-1zM213.54 259.77h1v1h-1zM213.42 262.48h1v1h-1zM212.66 263.2h1v1h-1zM212.49 262.23h1v1h-1zM216.91 260.42h1v1h-1zM213.35 254.85h1v1h-1zM214.81 259.55h1v1h-1zM215.11 256.91h1v1h-1zM214.42 266.62h1v1h-1zM214.21 258.21h1v1h-1zM211.19 259.47h1v1h-1zM214.67 261.86h1v1h-1zM211.52 255.45h1v1h-1zM211.77 255.48h1v1h-1zM213.01 260.55h1v1h-1zM216.91 260.27h1v1h-1zM216.08 252.98h1v1h-1zM216.24 262.65h1v1h-1zM214.28 262.75h1v1h-1zM214.6 267.05h1v1h-1zM214.93 252.64h1v1h-1zM210.4 265.86h1v1h-1zM213.35 264.72h1v1h-1zM212.89 256.91h1v1h-1zM212.89 260.74h1v1h-1zM213.83 257.06h1v1h-1zM214.45 261.93h1v1h-1zM211.87 255.11h1v1h-1zM210.01 258.29h1v1h-1zM213.52 256.76h1v1h-1zM212.43 258.97h1v1h-1zM213.55 261.75h1v1h-1zM214.98 261.23h1v1h-1zM215.49 255.68h1v1h-1zM214.58 260.97h1v1h-1zM211.64 256.83h1v1h-1zM214.29 259.8h1v1h-1zM211.27 257.32h1v1h-1zM216.21 262.83h1v1h-1zM213.65 264.83h1v1h-1zM211.89 258.82h1v1h-1zM215.2 258.17h1v1h-1zM211.51 261.81h1v1h-1zM216.35 249.48h1v1h-1zM213.77 254.56h1v1h-1zM212.97 253.92h1v1h-1zM218.13 256.81h1v1h-1zM213.58 256.71h1v1h-1zM211.74 257.7h1v1h-1zM213.87 266.43h1v1h-1zM214.01 265.69h1v1h-1zM211.6 259.78h1v1h-1zM212.72 253.31h1v1h-1zM220.13 258.54h1v1h-1zM213.93 256.52h1v1h-1zM212.48 255.41h1v1h-1zM215.32 257.91h1v1h-1zM213.24 260.22h1v1h-1zM211.32 260.42h1v1h-1zM213.2 261.26h1v1h-1zM212.81 259.65h1v1h-1zM214.42 263.32h1v1h-1zM212.27 263.34h1v1h-1zM211.75 258.75h1v1h-1zM213.73 260.07h1v1h-1zM209.06 255.63h1v1h-1zM213.17 263.15h1v1h-1zM212.25 265.47h1v1h-1zM210.29 259.8h1v1h-1zM214.46 259.57h1v1h-1zM213.97 263.19h1v1h-1zM212.07 261.83h1v1h-1zM215.39 258.58h1v1h-1zM209.38 254.79h1v1h-1zM211.98 255.32h1v1h-1zM214.27 256.32h1v1h-1zM217.91 261.75h1v1h-1zM211.18 258.37h1v1h-1zM216.22 262.19h1v1h-1zM211.69 263.59h1v1h-1zM212.66 268.25h1v1h-1zM212.52 261.86h1v1h-1zM214.5 257.74h1v1h-1zM213.23 264.08h1v1h-1zM214.39 259.26h1v1h-1zM214.29 266.41h1v1h-1zM215.16 261.38h1v1h-1zM214.09 253.32h1v1h-1zM213.74 257.58h1v1h-1zM214.8 257.1h1v1h-1zM214.3 255.34h1v1h-1zM215.09 256.62h1v1h-1zM213.45 261.78h1v1h-1zM212.92 259.53h1v1h-1zM215.39 266.49h1v1h-1zM210.29 255.93h1v1h-1zM214.7 263.22h1v1h-1zM212.66 259.87h1v1h-1z" fill="#3940a8" fill-opacity="0.6" clip-path="url(#cB)"/>
<path d="M213.7 257.6h1v1h-1zM213.68 252.12h1v1h-1zM211.55 251.98h1v1h-1zM216.06 253.38h1v1h-1zM217.08 255.01h1v1h-1zM214.61 255.02h1v1h-1zM215.25 255.45h1v1h-1zM212.46 253.12h1v1h-1zM213.13 254.17h1v1h-1zM213.6 252.05h1v1h-1zM212.9 256.82h1v1h-1zM217.36 252.65h1v1h-1zM214.6 253.94h1v1h-1zM212.66 255.13h1v1h-1zM213.89 256.64h1v1h-1zM214.72 253.51h1v1h-1zM209.81 253.84h1v1h-1zM215.34 252.87h1v1h-1zM215.4 255.08h1v1h-1zM211.21 253.69h1v1h-1zM214.51 255.19h1v1h-1zM214.24 253.98h1v1h-1zM213.45 253.54h1v1h-1zM214.01 252.32h1v1h-1zM215.01 253.49h1v1h-1zM214.83 253.2h1v1h-1zM214.65 254.2h1v1h-1zM215.41 254.73h1v1h-1zM215.47 253.74h1v1h-1zM213.91 253.59h1v1h-1zM212.02 253.8h1v1h-1zM215.72 255.22h1v1h-1zM212.66 254.47h1v1h-1zM215.19 251.85h1v1h-1zM214.55 254.52h1v1h-1zM215.18 254.4h1v1h-1zM211.25 250.82h1v1h-1zM217.14 253.38h1v1h-1zM216.01 256h1v1h-1zM214.14 252.2h1v1h-1zM216.16 253.94h1v1h-1zM214.82 254.76h1v1h-1zM215.51 255.6h1v1h-1zM211.75 251.78h1v1h-1zM214.22 254.01h1v1h-1zM215.23 253.79h1v1h-1zM213.71 257.2h1v1h-1zM216.17 255.83h1v1h-1zM215.64 252.76h1v1h-1zM213.86 253.89h1v1h-1zM212.27 252.63h1v1h-1zM214.25 252.09h1v1h-1zM214.86 254.75h1v1h-1zM213.63 253.47h1v1h-1zM214.95 254.76h1v1h-1zM214.58 252.07h1v1h-1zM211.43 257.23h1v1h-1zM212.97 253.42h1v1h-1zM211.12 252.74h1v1h-1zM212.84 255.26h1v1h-1zM209.82 251.79h1v1h-1zM213.35 253.23h1v1h-1zM212.77 253.31h1v1h-1zM211.51 254.42h1v1h-1zM215.89 254.24h1v1h-1zM213.15 255.99h1v1h-1zM214.77 252.38h1v1h-1zM213.09 253.04h1v1h-1zM213.93 255.91h1v1h-1zM212.89 253.77h1v1h-1zM214.18 252.13h1v1h-1zM213.25 254.96h1v1h-1zM215.79 251.05h1v1h-1zM215.12 253.54h1v1h-1zM216.04 254.98h1v1h-1zM217.11 254.49h1v1h-1zM213.37 252.69h1v1h-1zM211.74 254.87h1v1h-1zM214.82 255.29h1v1h-1zM214.55 251.65h1v1h-1zM213.36 253.62h1v1h-1zM214.25 255.21h1v1h-1zM216.24 254.45h1v1h-1zM210.74 252.4h1v1h-1zM210.63 252.8h1v1h-1zM212.11 254.38h1v1h-1zM213.65 255.75h1v1h-1zM215.71 253.28h1v1h-1zM215.49 254.02h1v1h-1zM214.72 256.12h1v1h-1zM212.18 253.89h1v1h-1zM216.43 252.8h1v1h-1zM214.34 254.21h1v1h-1zM213.34 251.95h1v1h-1zM212.92 252.46h1v1h-1zM215.71 254.39h1v1h-1zM215.11 252.13h1v1h-1zM214.79 254.23h1v1h-1zM215.66 252.87h1v1h-1zM215.28 256.15h1v1h-1z" fill="#3940a8" fill-opacity="0.6" clip-path="url(#cB)"/>
<path d="M214.63 275.77h1v1h-1zM203.06 274.19h1v1h-1zM211.3 280.25h1v1h-1zM208.85 275.95h1v1h-1zM212.46 283.22h1v1h-1zM207.36 278.15h1v1h-1zM212.2 279.99h1v1h-1zM212.82 277.31h1v1h-1zM208.84 277.51h1v1h-1zM205.25 277.63h1v1h-1zM206.38 279.98h1v1h-1zM206.3 278.71h1v1h-1zM204.31 274.9h1v1h-1zM213.15 275.61h1v1h-1zM214.67 281.26h1v1h-1zM198.46 276.62h1v1h-1zM205.86 278.56h1v1h-1zM206.8 276.73h1v1h-1zM212.45 278.13h1v1h-1zM211.31 276.49h1v1h-1zM204.78 282.42h1v1h-1zM206.39 275.27h1v1h-1zM206.83 281.59h1v1h-1zM206.87 276.39h1v1h-1zM210.02 281.39h1v1h-1zM206.69 277.57h1v1h-1zM206.06 286.43h1v1h-1zM206.76 283.63h1v1h-1zM206.92 279.69h1v1h-1zM199.46 279.02h1v1h-1zM207.71 277.57h1v1h-1zM205.89 274.5h1v1h-1zM201.62 278.99h1v1h-1zM204.98 278.24h1v1h-1zM206.79 277.02h1v1h-1zM204.63 283.95h1v1h-1zM203.15 277.01h1v1h-1zM206.34 275.12h1v1h-1zM203.72 281.03h1v1h-1zM211.19 278.89h1v1h-1zM220.31 280.93h1v1h-1zM212.38 276.11h1v1h-1zM211.79 283.44h1v1h-1zM206.01 283.81h1v1h-1zM204.33 275.18h1v1h-1zM207.33 276.14h1v1h-1zM210.03 275.26h1v1h-1zM207.84 272.76h1v1h-1zM207.38 281.58h1v1h-1zM206.47 279.42h1v1h-1zM211.82 275.28h1v1h-1zM202.49 278.74h1v1h-1zM208.61 277.72h1v1h-1zM203.68 282.06h1v1h-1zM202.92 277.74h1v1h-1zM207.34 280.63h1v1h-1zM205.75 276.1h1v1h-1zM215.46 276.03h1v1h-1zM210.66 278.05h1v1h-1zM205.63 278.37h1v1h-1zM206.5 279.41h1v1h-1zM197.47 278.42h1v1h-1zM207.8 275.66h1v1h-1zM205.98 285.35h1v1h-1zM214.8 280.38h1v1h-1zM208.43 277.61h1v1h-1zM213 277.19h1v1h-1zM204.27 280.53h1v1h-1zM203.7 276.19h1v1h-1zM213.23 273.8h1v1h-1zM207.26 278.85h1v1h-1zM208.53 274.24h1v1h-1zM206.62 277.52h1v1h-1zM215.11 281.44h1v1h-1zM204.53 281.06h1v1h-1zM210.1 278.17h1v1h-1zM206.56 277.7h1v1h-1zM201.42 276.66h1v1h-1zM211.21 282.73h1v1h-1zM214.84 277.4h1v1h-1zM209.95 271.46h1v1h-1zM206.45 274.8h1v1h-1zM210.77 273.65h1v1h-1zM203.4 275.27h1v1h-1zM209.08 280.96h1v1h-1zM203.89 283.78h1v1h-1zM208.15 276.06h1v1h-1zM208.9 278.46h1v1h-1zM210.8 279.51h1v1h-1zM216.16 281.93h1v1h-1zM205 280.81h1v1h-1zM210.52 275.57h1v1h-1zM204.56 276.14h1v1h-1zM197.77 280.37h1v1h-1zM206.67 282.11h1v1h-1zM205.31 278.72h1v1h-1zM210.38 281.34h1v1h-1zM208.78 275.46h1v1h-1zM216.22 281.04h1v1h-1zM212.9 283.24h1v1h-1zM213.06 279.72h1v1h-1zM209.39 280.35h1v1h-1zM201.59 280.88h1v1h-1zM203.68 279.74h1v1h-1zM203.53 280.59h1v1h-1zM205.6 285.78h1v1h-1zM208.28 279.99h1v1h-1zM203.95 277.66h1v1h-1zM207.3 277.66h1v1h-1zM205.81 275.94h1v1h-1zM210.53 277.38h1v1h-1zM204.31 279.57h1v1h-1zM204.32 277.99h1v1h-1zM205.51 275.8h1v1h-1zM206.64 276.1h1v1h-1zM202.58 279.53h1v1h-1zM206.36 274.22h1v1h-1zM205.97 279.05h1v1h-1zM209.22 279.6h1v1h-1zM208.53 280.25h1v1h-1zM205.58 276.17h1v1h-1zM209.95 277.3h1v1h-1zM207.57 280.41h1v1h-1zM211.23 282.08h1v1h-1zM204.82 277.42h1v1h-1zM209.72 274.32h1v1h-1zM202.57 280.28h1v1h-1zM205.11 275.81h1v1h-1zM210.69 280.06h1v1h-1zM211.15 277.54h1v1h-1zM206.39 277.51h1v1h-1zM208.7 272.57h1v1h-1zM204.8 280.57h1v1h-1zM204.46 278.31h1v1h-1zM208.02 280.02h1v1h-1zM205.66 275.2h1v1h-1zM217.36 276.41h1v1h-1zM214.27 273.37h1v1h-1zM207.97 277.93h1v1h-1zM214.99 284.46h1v1h-1zM211.38 275.54h1v1h-1zM204.37 276.31h1v1h-1zM205.5 279.27h1v1h-1zM204.44 277.78h1v1h-1zM213.33 282.7h1v1h-1zM200.21 275.73h1v1h-1zM206.07 282.29h1v1h-1zM206.24 284.07h1v1h-1zM208.97 282.69h1v1h-1zM204.16 277.6h1v1h-1zM211.55 280.17h1v1h-1zM200.19 277.7h1v1h-1zM208.24 280.34h1v1h-1zM205.04 283.58h1v1h-1zM208.13 282.73h1v1h-1zM209.12 278.75h1v1h-1zM206.29 275.1h1v1h-1zM210.94 280.71h1v1h-1zM211.21 277.41h1v1h-1zM203.59 277.4h1v1h-1zM206.31 278.47h1v1h-1zM211.4 275.85h1v1h-1zM205.62 280.51h1v1h-1zM211.09 284.95h1v1h-1zM209.61 276.04h1v1h-1zM203.46 276.2h1v1h-1zM207.82 279.24h1v1h-1zM207.28 276.72h1v1h-1zM206.82 278.28h1v1h-1zM209.87 278.75h1v1h-1zM204.36 275.1h1v1h-1zM213.37 278.25h1v1h-1zM206.86 278.43h1v1h-1zM211.97 277.59h1v1h-1zM208.24 277.82h1v1h-1zM209.82 275.57h1v1h-1zM208.35 281.5h1v1h-1zM212.2 280.3h1v1h-1zM208.7 283.08h1v1h-1zM210.32 282.57h1v1h-1zM202.83 275.31h1v1h-1zM210.69 277.73h1v1h-1zM205.85 275.75h1v1h-1zM213.37 275.04h1v1h-1zM207.96 274.45h1v1h-1zM206.87 285.03h1v1h-1zM217.1 277.07h1v1h-1zM203.59 283.24h1v1h-1zM204.19 273.32h1v1h-1zM208.92 275.37h1v1h-1zM201.86 281.77h1v1h-1zM204.69 275.42h1v1h-1zM208.21 277.96h1v1h-1zM211.96 278.78h1v1h-1zM213.79 281.81h1v1h-1zM214.54 281.76h1v1h-1zM207.84 280.09h1v1h-1zM207.64 273.99h1v1h-1zM202.94 280.66h1v1h-1zM198.29 276.11h1v1h-1zM202.52 278.32h1v1h-1zM203.5 279.23h1v1h-1zM206.78 277.14h1v1h-1zM204.24 272.06h1v1h-1zM207.85 274.75h1v1h-1zM206.4 279.58h1v1h-1zM211.66 280.55h1v1h-1zM213.35 274.38h1v1h-1zM210.21 283.06h1v1h-1zM209.11 275.29h1v1h-1zM209.12 277h1v1h-1zM205.04 281.6h1v1h-1zM206.86 275.26h1v1h-1zM204.91 284.2h1v1h-1zM204.25 280.47h1v1h-1zM208.26 281.9h1v1h-1zM206.47 275.76h1v1h-1zM205.05 275.52h1v1h-1zM217.72 279.07h1v1h-1zM206.31 282.16h1v1h-1zM210.13 277.98h1v1h-1zM210 279.3h1v1h-1zM211.97 283.3h1v1h-1zM206.34 278.4h1v1h-1zM206.85 282.06h1v1h-1zM209.07 280.78h1v1h-1zM211.08 276.66h1v1h-1zM208.07 282.53h1v1h-1zM211.18 280.87h1v1h-1zM206.47 277.46h1v1h-1zM204.22 277.72h1v1h-1zM207.32 274.35h1v1h-1zM212.11 276.29h1v1h-1zM208.55 280.25h1v1h-1zM205.41 273.26h1v1h-1zM211.34 279.69h1v1h-1zM206.58 281.8h1v1h-1zM211.06 275.74h1v1h-1zM207.25 273.4h1v1h-1zM206.54 282.6h1v1h-1zM204.29 280.9h1v1h-1zM201.68 277.65h1v1h-1zM211.25 283.49h1v1h-1zM209.34 280.7h1v1h-1zM214.28 271.43h1v1h-1zM200.9 283.99h1v1h-1zM217.2 280.24h1v1h-1zM207.82 279.26h1v1h-1zM207.68 276.73h1v1h-1zM207.51 278.14h1v1h-1z" fill="#3940a8" fill-opacity="0.6" clip-path="url(#cB)"/>
<path d="M211.97 273.48h1v1h-1zM212.64 273.21h1v1h-1zM208.45 275.55h1v1h-1zM204.8 271.85h1v1h-1zM211.25 269.97h1v1h-1zM214.55 268.34h1v1h-1zM208.03 270.04h1v1h-1zM211.43 273.81h1v1h-1zM210.77 273.45h1v1h-1zM209.03 269.75h1v1h-1zM210.82 267.61h1v1h-1zM210.94 270.36h1v1h-1zM212 268.57h1v1h-1zM209.4 269.87h1v1h-1zM209.75 268.61h1v1h-1zM209.98 267.59h1v1h-1zM211.68 273.46h1v1h-1zM210.5 270.96h1v1h-1zM208.63 268.72h1v1h-1zM210.07 268.89h1v1h-1zM208.02 271.99h1v1h-1zM210.5 270.33h1v1h-1zM208.8 271.35h1v1h-1zM209.06 270.26h1v1h-1zM210.93 273.6h1v1h-1zM212.15 269.75h1v1h-1zM213.12 268.15h1v1h-1zM210.17 275.29h1v1h-1zM215.61 271.88h1v1h-1zM209.77 270.43h1v1h-1zM207.95 271.08h1v1h-1zM209.63 269.32h1v1h-1zM213.09 269.25h1v1h-1zM214.15 273.94h1v1h-1zM211.9 269.8h1v1h-1zM209.45 265.72h1v1h-1zM211.12 270.73h1v1h-1zM211.36 269.56h1v1h-1zM211.57 267.17h1v1h-1zM205.87 272.88h1v1h-1zM212.83 262.39h1v1h-1zM213.27 270.5h1v1h-1zM210.19 267.05h1v1h-1zM208.41 273.57h1v1h-1zM208.97 271.4h1v1h-1zM210.21 277.27h1v1h-1zM212.43 267.68h1v1h-1zM209.51 268.18h1v1h-1zM207.58 269.53h1v1h-1zM212.88 271.65h1v1h-1zM211.97 271.11h1v1h-1zM209.63 271.74h1v1h-1zM210.37 277.09h1v1h-1zM214.36 272.6h1v1h-1zM211.81 265.73h1v1h-1zM210.27 278.44h1v1h-1zM208.83 273.87h1v1h-1zM213.13 270.35h1v1h-1zM210.05 270.18h1v1h-1zM212.22 271.57h1v1h-1zM213.73 274.95h1v1h-1zM210.51 279.04h1v1h-1zM209.88 269.74h1v1h-1zM210.03 268.95h1v1h-1zM209.64 271.3h1v1h-1zM212.42 266.92h1v1h-1zM207.56 269.26h1v1h-1zM209.88 272.82h1v1h-1zM208.86 275.88h1v1h-1zM209.41 270.88h1v1h-1zM210.65 274.9h1v1h-1zM211.16 271.58h1v1h-1zM209.38 272h1v1h-1zM211.38 270.49h1v1h-1zM210.48 266.16h1v1h-1zM209.4 274.94h1v1h-1zM213.54 271.29h1v1h-1zM205.94 276.83h1v1h-1zM210.17 278.97h1v1h-1zM209.65 274.42h1v1h-1zM209.22 275.49h1v1h-1zM212.99 268.41h1v1h-1zM213.28 279.81h1v1h-1zM210.05 267.99h1v1h-1zM211.11 270.34h1v1h-1zM207.35 268.46h1v1h-1zM211.05 267.08h1v1h-1zM212.82 272.81h1v1h-1zM210.15 275.58h1v1h-1zM208.56 273.5h1v1h-1zM207.65 270.56h1v1h-1zM211.88 269.95h1v1h-1zM210.28 273.39h1v1h-1zM213.75 275.29h1v1h-1zM211.5 270.75h1v1h-1zM207.46 276.5h1v1h-1zM214.5 265.23h1v1h-1zM212.37 271.38h1v1h-1zM212.02 272.42h1v1h-1zM210.11 271.49h1v1h-1zM210.44 274.89h1v1h-1zM209.97 269.92h1v1h-1zM211.91 273.38h1v1h-1zM211.45 272.33h1v1h-1zM213.65 274.75h1v1h-1zM210.97 270.89h1v1h-1zM211.92 266.06h1v1h-1zM209.42 269.44h1v1h-1zM210.89 270.38h1v1h-1zM215.74 273.65h1v1h-1zM211.38 278.06h1v1h-1zM210.52 270.57h1v1h-1zM213.13 273.92h1v1h-1zM212.48 275.03h1v1h-1zM209.75 269.58h1v1h-1zM209 271.8h1v1h-1zM212.64 268.44h1v1h-1zM209.39 267.6h1v1h-1zM214.75 273.83h1v1h-1zM210.99 267.95h1v1h-1zM208.34 269.62h1v1h-1zM210.59 267.8h1v1h-1zM210.04 275.06h1v1h-1zM210.55 271.79h1v1h-1zM206.09 270.71h1v1h-1zM210.21 269.48h1v1h-1zM207.59 271.29h1v1h-1zM208.36 269.91h1v1h-1zM207.15 271.23h1v1h-1zM212.44 269.05h1v1h-1zM211.21 267.07h1v1h-1zM211.75 273.09h1v1h-1zM209.7 274.08h1v1h-1zM208.67 271.64h1v1h-1zM214.08 271.43h1v1h-1zM208.14 274.87h1v1h-1zM211.65 270.69h1v1h-1zM206.68 266h1v1h-1zM207.31 275.84h1v1h-1zM211.14 269.01h1v1h-1zM212.96 275.78h1v1h-1zM208.74 272.91h1v1h-1zM207.04 272.59h1v1h-1zM214.36 267.37h1v1h-1zM210.64 269.64h1v1h-1zM210.32 271.76h1v1h-1zM211.11 274.11h1v1h-1zM211.6 274.56h1v1h-1zM212.66 274.72h1v1h-1zM209.1 272.7h1v1h-1zM209.73 269.04h1v1h-1zM214.65 272.36h1v1h-1zM210.62 265.35h1v1h-1zM210.03 273.76h1v1h-1zM210.09 269.91h1v1h-1zM213.63 270.59h1v1h-1zM209.82 271.21h1v1h-1zM210.02 274.58h1v1h-1zM211.72 271.3h1v1h-1zM209.76 270.84h1v1h-1zM214.09 270.61h1v1h-1zM211.9 266.89h1v1h-1zM211.2 273.52h1v1h-1zM213.2 272.43h1v1h-1zM211.74 272.45h1v1h-1zM212.77 277.49h1v1h-1zM210.94 269.11h1v1h-1zM211.77 271.18h1v1h-1zM211.87 273.77h1v1h-1zM210.84 270.22h1v1h-1zM211.17 267.85h1v1h-1zM211.1 268.91h1v1h-1zM211.47 271.86h1v1h-1zM210.06 267.98h1v1h-1zM210.63 269.51h1v1h-1zM210.22 273.53h1v1h-1zM212.53 267.73h1v1h-1zM212.49 275.49h1v1h-1zM212.89 272.31h1v1h-1zM210.33 276.6h1v1h-1zM209.85 267.04h1v1h-1zM210.71 272.34h1v1h-1zM208.34 267.94h1v1h-1zM214.69 271.83h1v1h-1zM212.16 269.79h1v1h-1zM207.33 270.98h1v1h-1zM213.35 269.55h1v1h-1zM206.75 271h1v1h-1zM209.93 271.55h1v1h-1zM208.33 270.59h1v1h-1zM209.38 274.08h1v1h-1zM210.84 274.05h1v1h-1zM210.42 265.26h1v1h-1zM206.41 273.07h1v1h-1zM212.37 274.06h1v1h-1zM210.37 266.27h1v1h-1zM209.49 272.68h1v1h-1zM213.42 270.5h1v1h-1zM209.34 269.23h1v1h-1zM212.67 274.04h1v1h-1zM206.68 275.05h1v1h-1zM208.59 267.19h1v1h-1zM207.17 269.37h1v1h-1zM215.4 278.98h1v1h-1zM207.91 269.53h1v1h-1zM210.86 272.72h1v1h-1zM209.52 266.86h1v1h-1zM209.66 269.51h1v1h-1zM206.75 271.92h1v1h-1zM207.44 266.42h1v1h-1zM213.72 274.26h1v1h-1zM213.57 271.85h1v1h-1zM209.66 271.25h1v1h-1zM207.65 273.67h1v1h-1zM211.09 270.61h1v1h-1zM206.59 271.18h1v1h-1zM213.95 275.75h1v1h-1zM212.37 270.47h1v1h-1zM210.82 273.13h1v1h-1zM210.94 274.57h1v1h-1zM209.12 264.7h1v1h-1zM205.42 268.83h1v1h-1zM207.61 273.45h1v1h-1zM212.79 271.5h1v1h-1zM211.66 271.73h1v1h-1zM210.89 270.12h1v1h-1zM209.67 274.99h1v1h-1zM209.96 271.38h1v1h-1zM213.04 274.38h1v1h-1zM209.7 272.24h1v1h-1zM208.4 271.89h1v1h-1zM211.19 271.5h1v1h-1zM210.87 272.57h1v1h-1zM205.19 269.09h1v1h-1zM210.69 270.06h1v1h-1zM208.49 270.8h1v1h-1zM213.91 270.83h1v1h-1zM209.16 270.09h1v1h-1zM208.02 272.92h1v1h-1zM208.45 274.17h1v1h-1zM212.44 273.18h1v1h-1zM212.71 271.25h1v1h-1zM206.82 271.31h1v1h-1zM211.87 266.97h1v1h-1zM207.95 274.71h1v1h-1zM211.45 275.45h1v1h-1zM211.93 271.7h1v1h-1zM211.43 273.99h1v1h-1zM210.47 270.89h1v1h-1zM211.19 270.58h1v1h-1zM215.61 269.26h1v1h-1zM207.33 267.71h1v1h-1zM212.73 270.31h1v1h-1zM210.86 270.87h1v1h-1zM211.11 267.24h1v1h-1zM210.71 269.82h1v1h-1zM212.82 273.33h1v1h-1zM207.87 268.66h1v1h-1zM211.73 275.01h1v1h-1zM212.15 271.05h1v1h-1zM212.88 264.59h1v1h-1zM209.39 268.64h1v1h-1zM208.35 273.15h1v1h-1zM211.11 272.33h1v1h-1zM210.25 273.32h1v1h-1zM212.18 269.82h1v1h-1zM212.51 268.78h1v1h-1zM214.26 267.68h1v1h-1zM209.92 268.32h1v1h-1zM210.61 275.36h1v1h-1zM208.94 276.71h1v1h-1zM213.52 272.63h1v1h-1zM209.28 274.15h1v1h-1zM204.47 269.26h1v1h-1zM212.57 271.38h1v1h-1zM215.8 269.52h1v1h-1zM207.7 270.87h1v1h-1zM211.76 276.51h1v1h-1zM206.79 271.96h1v1h-1zM213.21 269.52h1v1h-1zM209.56 267.94h1v1h-1zM212.16 273.94h1v1h-1zM211.78 272.22h1v1h-1zM212.64 271.14h1v1h-1zM212.05 273.91h1v1h-1zM213.3 273.01h1v1h-1zM210.71 273.58h1v1h-1zM207.23 266.32h1v1h-1zM213.97 271.91h1v1h-1zM208.29 269.79h1v1h-1zM210.21 271.71h1v1h-1zM208.9 274.43h1v1h-1zM206.9 279.75h1v1h-1zM208.22 276.39h1v1h-1zM211.95 266.55h1v1h-1zM207.92 271.68h1v1h-1zM211.11 270.25h1v1h-1zM210.56 271.98h1v1h-1zM208.09 271.68h1v1h-1zM215.39 269.6h1v1h-1z" fill="#3940a8" fill-opacity="0.6" clip-path="url(#cB)"/>
<rect x="171.6" y="233.5" width="28.8" height="57.7" fill="none" stroke="#6a6a6a" stroke-width="0.9"/>
<rect x="200.4" y="233.5" width="28.8" height="57.7" fill="none" stroke="#6a6a6a" stroke-width="0.9"/>
<line x1="171.6" y1="264.9" x2="200.4" y2="264.9" stroke="#6a6a6a" stroke-width="0.9"/>
<line x1="200.4" y1="251.2" x2="229.2" y2="251.2" stroke="#6a6a6a" stroke-width="0.9"/>
<text x="202.6" y="229.4" font-size="7.4" stroke="#c8383b" stroke-width="0.1" fill="#c8383b" textLength="30.2" lengthAdjust="spacingAndGlyphs">Pre-pDC</text>
<text x="165.4" y="300.2" font-size="7.6" stroke="#3aa83a" stroke-width="0.1" fill="#3aa83a" textLength="39.8" lengthAdjust="spacingAndGlyphs">CMP+HSC</text>
<text x="207.9" y="300.2" font-size="7.6" stroke="#4a4aa8" stroke-width="0.1" fill="#4a4aa8" textLength="38.6" lengthAdjust="spacingAndGlyphs">GMP+CLP</text>
<line x1="161.4" y1="221.5" x2="164.6" y2="221.5" stroke="#222" stroke-width="0.9"/>
<text x="152.6" y="224" font-size="7.3" stroke="#222" stroke-width="0.1" text-anchor="middle" textLength="11.6" lengthAdjust="spacingAndGlyphs">10<tspan dy="-2.99" font-size="5.2">6</tspan><tspan dy="2.99"></tspan></text>
<line x1="161.4" y1="233.5" x2="164.6" y2="233.5" stroke="#222" stroke-width="0.9"/>
<text x="152.6" y="236" font-size="7.3" stroke="#222" stroke-width="0.1" text-anchor="middle" textLength="11.6" lengthAdjust="spacingAndGlyphs">10<tspan dy="-2.99" font-size="5.2">5</tspan><tspan dy="2.99"></tspan></text>
<line x1="161.4" y1="251.2" x2="164.6" y2="251.2" stroke="#222" stroke-width="0.9"/>
<text x="152.6" y="253.7" font-size="7.3" stroke="#222" stroke-width="0.1" text-anchor="middle" textLength="11.6" lengthAdjust="spacingAndGlyphs">10<tspan dy="-2.99" font-size="5.2">4</tspan><tspan dy="2.99"></tspan></text>
<line x1="161.4" y1="267.8" x2="164.6" y2="267.8" stroke="#222" stroke-width="0.9"/>
<text x="152.6" y="270.3" font-size="7.3" stroke="#222" stroke-width="0.1" text-anchor="middle" textLength="11.6" lengthAdjust="spacingAndGlyphs">10<tspan dy="-2.99" font-size="5.2">3</tspan><tspan dy="2.99"></tspan></text>
<line x1="161.4" y1="287.3" x2="164.6" y2="287.3" stroke="#222" stroke-width="0.9"/>
<text x="152.6" y="289.8" font-size="7.3" stroke="#222" stroke-width="0.1" text-anchor="middle" textLength="11.6" lengthAdjust="spacingAndGlyphs">10<tspan dy="-2.99" font-size="5.2">2</tspan><tspan dy="2.99"></tspan></text>
<line x1="161.4" y1="296.2" x2="164.6" y2="296.2" stroke="#222" stroke-width="0.9"/>
<text x="158.3" y="298.6" font-size="6.8" stroke="#222" stroke-width="0.1" text-anchor="end">0</text>
<line x1="199.6" y1="303.3" x2="199.6" y2="306.2" stroke="#222" stroke-width="0.9"/>
<text x="199.6" y="316.3" font-size="7.3" stroke="#222" stroke-width="0.1" text-anchor="middle" textLength="11.6" lengthAdjust="spacingAndGlyphs">10<tspan dy="-2.99" font-size="5.2">3</tspan><tspan dy="2.99"></tspan></text>
<line x1="216" y1="303.3" x2="216" y2="306.2" stroke="#222" stroke-width="0.9"/>
<text x="216" y="316.3" font-size="7.3" stroke="#222" stroke-width="0.1" text-anchor="middle" textLength="11.6" lengthAdjust="spacingAndGlyphs">10<tspan dy="-2.99" font-size="5.2">4</tspan><tspan dy="2.99"></tspan></text>
<line x1="234" y1="303.3" x2="234" y2="306.2" stroke="#222" stroke-width="0.9"/>
<text x="234" y="316.3" font-size="7.3" stroke="#222" stroke-width="0.1" text-anchor="middle" textLength="11.6" lengthAdjust="spacingAndGlyphs">10<tspan dy="-2.99" font-size="5.2">5</tspan><tspan dy="2.99"></tspan></text>
<line x1="252.2" y1="303.3" x2="252.2" y2="306.2" stroke="#222" stroke-width="0.9"/>
<text x="252.2" y="316.3" font-size="7.3" stroke="#222" stroke-width="0.1" text-anchor="middle" textLength="11.6" lengthAdjust="spacingAndGlyphs">10<tspan dy="-2.99" font-size="5.2">6</tspan><tspan dy="2.99"></tspan></text>
<line x1="172.5" y1="303.3" x2="172.5" y2="306.2" stroke="#222" stroke-width="0.9"/>
<text x="172.5" y="316.3" font-size="6.8" stroke="#222" stroke-width="0.1" text-anchor="middle">0</text>
<text x="198" y="329" font-size="8.6" stroke="#222" stroke-width="0.26" textLength="23.4" lengthAdjust="spacingAndGlyphs">CD45RA</text>
<text x="140.8" y="258.2" font-size="8.6" stroke="#222" stroke-width="0.26" text-anchor="middle" textLength="19" lengthAdjust="spacingAndGlyphs" transform="rotate(-90 140.8 258.2)">CD123</text>
<line x1="163" y1="216" x2="164.6" y2="216" stroke="#222" stroke-width="0.5"/>
<line x1="163" y1="218.75" x2="164.6" y2="218.75" stroke="#222" stroke-width="0.5"/>
<line x1="163" y1="221.5" x2="164.6" y2="221.5" stroke="#222" stroke-width="0.5"/>
<line x1="163" y1="224.25" x2="164.6" y2="224.25" stroke="#222" stroke-width="0.5"/>
<line x1="163" y1="227" x2="164.6" y2="227" stroke="#222" stroke-width="0.5"/>
<line x1="163" y1="229.75" x2="164.6" y2="229.75" stroke="#222" stroke-width="0.5"/>
<line x1="163" y1="232.5" x2="164.6" y2="232.5" stroke="#222" stroke-width="0.5"/>
<line x1="163" y1="235.25" x2="164.6" y2="235.25" stroke="#222" stroke-width="0.5"/>
<line x1="163" y1="238" x2="164.6" y2="238" stroke="#222" stroke-width="0.5"/>
<line x1="163" y1="240.75" x2="164.6" y2="240.75" stroke="#222" stroke-width="0.5"/>
<line x1="163" y1="243.5" x2="164.6" y2="243.5" stroke="#222" stroke-width="0.5"/>
<line x1="163" y1="246.25" x2="164.6" y2="246.25" stroke="#222" stroke-width="0.5"/>
<line x1="163" y1="249" x2="164.6" y2="249" stroke="#222" stroke-width="0.5"/>
<line x1="163" y1="251.75" x2="164.6" y2="251.75" stroke="#222" stroke-width="0.5"/>
<line x1="163" y1="254.5" x2="164.6" y2="254.5" stroke="#222" stroke-width="0.5"/>
<line x1="163" y1="257.25" x2="164.6" y2="257.25" stroke="#222" stroke-width="0.5"/>
<line x1="163" y1="260" x2="164.6" y2="260" stroke="#222" stroke-width="0.5"/>
<line x1="163" y1="262.75" x2="164.6" y2="262.75" stroke="#222" stroke-width="0.5"/>
<line x1="163" y1="265.5" x2="164.6" y2="265.5" stroke="#222" stroke-width="0.5"/>
<line x1="163" y1="268.25" x2="164.6" y2="268.25" stroke="#222" stroke-width="0.5"/>
<line x1="163" y1="271" x2="164.6" y2="271" stroke="#222" stroke-width="0.5"/>
<line x1="163" y1="273.75" x2="164.6" y2="273.75" stroke="#222" stroke-width="0.5"/>
<line x1="163" y1="276.5" x2="164.6" y2="276.5" stroke="#222" stroke-width="0.5"/>
<line x1="163" y1="279.25" x2="164.6" y2="279.25" stroke="#222" stroke-width="0.5"/>
<line x1="163" y1="282" x2="164.6" y2="282" stroke="#222" stroke-width="0.5"/>
<line x1="163" y1="284.75" x2="164.6" y2="284.75" stroke="#222" stroke-width="0.5"/>
<line x1="163" y1="287.5" x2="164.6" y2="287.5" stroke="#222" stroke-width="0.5"/>
<line x1="163" y1="290.25" x2="164.6" y2="290.25" stroke="#222" stroke-width="0.5"/>
<line x1="163" y1="293" x2="164.6" y2="293" stroke="#222" stroke-width="0.5"/>
<line x1="163" y1="295.75" x2="164.6" y2="295.75" stroke="#222" stroke-width="0.5"/>
<line x1="168" y1="303.3" x2="168" y2="304.9" stroke="#222" stroke-width="0.5"/>
<line x1="170.9" y1="303.3" x2="170.9" y2="304.9" stroke="#222" stroke-width="0.5"/>
<line x1="173.8" y1="303.3" x2="173.8" y2="304.9" stroke="#222" stroke-width="0.5"/>
<line x1="176.7" y1="303.3" x2="176.7" y2="304.9" stroke="#222" stroke-width="0.5"/>
<line x1="179.6" y1="303.3" x2="179.6" y2="304.9" stroke="#222" stroke-width="0.5"/>
<line x1="182.5" y1="303.3" x2="182.5" y2="304.9" stroke="#222" stroke-width="0.5"/>
<line x1="185.4" y1="303.3" x2="185.4" y2="304.9" stroke="#222" stroke-width="0.5"/>
<line x1="188.3" y1="303.3" x2="188.3" y2="304.9" stroke="#222" stroke-width="0.5"/>
<line x1="191.2" y1="303.3" x2="191.2" y2="304.9" stroke="#222" stroke-width="0.5"/>
<line x1="194.1" y1="303.3" x2="194.1" y2="304.9" stroke="#222" stroke-width="0.5"/>
<line x1="197" y1="303.3" x2="197" y2="304.9" stroke="#222" stroke-width="0.5"/>
<line x1="199.9" y1="303.3" x2="199.9" y2="304.9" stroke="#222" stroke-width="0.5"/>
<line x1="202.8" y1="303.3" x2="202.8" y2="304.9" stroke="#222" stroke-width="0.5"/>
<line x1="205.7" y1="303.3" x2="205.7" y2="304.9" stroke="#222" stroke-width="0.5"/>
<line x1="208.6" y1="303.3" x2="208.6" y2="304.9" stroke="#222" stroke-width="0.5"/>
<line x1="211.5" y1="303.3" x2="211.5" y2="304.9" stroke="#222" stroke-width="0.5"/>
<line x1="214.4" y1="303.3" x2="214.4" y2="304.9" stroke="#222" stroke-width="0.5"/>
<line x1="217.3" y1="303.3" x2="217.3" y2="304.9" stroke="#222" stroke-width="0.5"/>
<line x1="220.2" y1="303.3" x2="220.2" y2="304.9" stroke="#222" stroke-width="0.5"/>
<line x1="223.1" y1="303.3" x2="223.1" y2="304.9" stroke="#222" stroke-width="0.5"/>
<line x1="226" y1="303.3" x2="226" y2="304.9" stroke="#222" stroke-width="0.5"/>
<line x1="228.9" y1="303.3" x2="228.9" y2="304.9" stroke="#222" stroke-width="0.5"/>
<line x1="231.8" y1="303.3" x2="231.8" y2="304.9" stroke="#222" stroke-width="0.5"/>
<line x1="234.7" y1="303.3" x2="234.7" y2="304.9" stroke="#222" stroke-width="0.5"/>
<line x1="237.6" y1="303.3" x2="237.6" y2="304.9" stroke="#222" stroke-width="0.5"/>
<line x1="240.5" y1="303.3" x2="240.5" y2="304.9" stroke="#222" stroke-width="0.5"/>
<line x1="243.4" y1="303.3" x2="243.4" y2="304.9" stroke="#222" stroke-width="0.5"/>
<line x1="246.3" y1="303.3" x2="246.3" y2="304.9" stroke="#222" stroke-width="0.5"/>
<line x1="249.2" y1="303.3" x2="249.2" y2="304.9" stroke="#222" stroke-width="0.5"/>
<line x1="252.1" y1="303.3" x2="252.1" y2="304.9" stroke="#222" stroke-width="0.5"/>
<text x="352.6" y="199.5" font-size="7.9" stroke="#222" stroke-width="0.1" textLength="58" lengthAdjust="spacingAndGlyphs">BL-8040 (mg/kg)</text>
<line x1="365" y1="201.7" x2="397" y2="201.7" stroke="#222" stroke-width="0.9"/>
<line x1="394.5" y1="205" x2="394.5" y2="303.4" stroke="#222" stroke-width="1"/>
<line x1="392.3" y1="229.4" x2="394.5" y2="229.4" stroke="#222" stroke-width="0.9"/>
<line x1="392.3" y1="255.2" x2="394.5" y2="255.2" stroke="#222" stroke-width="0.9"/>
<line x1="392.3" y1="280.9" x2="394.5" y2="280.9" stroke="#222" stroke-width="0.9"/>
<line x1="392.3" y1="212.7" x2="394.5" y2="212.7" stroke="#222" stroke-width="0.9"/>
<line x1="392.3" y1="221.4" x2="394.5" y2="221.4" stroke="#222" stroke-width="0.9"/>
<line x1="392.3" y1="238.3" x2="394.5" y2="238.3" stroke="#222" stroke-width="0.9"/>
<line x1="392.3" y1="247" x2="394.5" y2="247" stroke="#222" stroke-width="0.9"/>
<line x1="392.3" y1="263.7" x2="394.5" y2="263.7" stroke="#222" stroke-width="0.9"/>
<line x1="392.3" y1="272.4" x2="394.5" y2="272.4" stroke="#222" stroke-width="0.9"/>
<line x1="392.3" y1="289.3" x2="394.5" y2="289.3" stroke="#222" stroke-width="0.9"/>
<line x1="392.3" y1="298.1" x2="394.5" y2="298.1" stroke="#222" stroke-width="0.9"/>
<text x="366.2" y="219.95" font-size="7.9" stroke="#222" stroke-width="0.1" text-anchor="end" textLength="51.7" lengthAdjust="spacingAndGlyphs">CD45RA<tspan dy="-3.38" font-size="5.8">−</tspan><tspan dy="3.38">123</tspan><tspan dy="-3.38" font-size="5.8">hi</tspan><tspan dy="3.38"></tspan></text>
<line x1="369.8" y1="209.8" x2="369.8" y2="224.2" stroke="#666" stroke-width="1.2"/>
<text x="387.8" y="215.2" font-size="7" stroke="#222" stroke-width="0.1" text-anchor="end">1</text>
<text x="387.8" y="223.9" font-size="7" stroke="#222" stroke-width="0.1" text-anchor="end">1.25</text>
<text x="366.2" y="245.55" font-size="7.9" stroke="#222" stroke-width="0.1" text-anchor="end" textLength="83.2" lengthAdjust="spacingAndGlyphs">CD45RA<tspan dy="-3.38" font-size="5.8">+</tspan><tspan dy="3.38">123</tspan><tspan dy="-3.38" font-size="5.8">hi</tspan><tspan dy="3.38"> pre-pDC</tspan></text>
<line x1="369.8" y1="235.2" x2="369.8" y2="250.2" stroke="#666" stroke-width="1.2"/>
<text x="387.8" y="240.8" font-size="7" stroke="#222" stroke-width="0.1" text-anchor="end">1</text>
<text x="387.8" y="249.5" font-size="7" stroke="#222" stroke-width="0.1" text-anchor="end">1.25</text>
<text x="366.2" y="270.95" font-size="7.9" stroke="#222" stroke-width="0.1" text-anchor="end" textLength="97.6" lengthAdjust="spacingAndGlyphs">CD45RA<tspan dy="-3.38" font-size="5.8">+</tspan><tspan dy="3.38">123</tspan><tspan dy="-3.38" font-size="5.8">+/−</tspan><tspan dy="3.38"> GMP+CLP</tspan></text>
<line x1="369.8" y1="260.8" x2="369.8" y2="275.6" stroke="#666" stroke-width="1.2"/>
<text x="387.8" y="266.2" font-size="7" stroke="#222" stroke-width="0.1" text-anchor="end">1</text>
<text x="387.8" y="274.9" font-size="7" stroke="#222" stroke-width="0.1" text-anchor="end">1.25</text>
<text x="366.2" y="296.6" font-size="7.9" stroke="#222" stroke-width="0.1" text-anchor="end" textLength="98.2" lengthAdjust="spacingAndGlyphs">CD45RA<tspan dy="-3.38" font-size="5.8">−</tspan><tspan dy="3.38">123</tspan><tspan dy="-3.38" font-size="5.8">+/−</tspan><tspan dy="3.38"> CMP+HSC</tspan></text>
<line x1="369.8" y1="286.2" x2="369.8" y2="301.2" stroke="#666" stroke-width="1.2"/>
<text x="387.8" y="291.8" font-size="7" stroke="#222" stroke-width="0.1" text-anchor="end">1</text>
<text x="387.8" y="300.6" font-size="7" stroke="#222" stroke-width="0.1" text-anchor="end">1.25</text>
<rect x="394.5" y="210.7" width="12" height="4" fill="#f39a1a"/>
<rect x="394.5" y="219.4" width="9" height="4" fill="#f39a1a"/>
<circle cx="395.9" cy="212.6" r="1.25" fill="#111"/>
<circle cx="401.4" cy="211.6" r="1.25" fill="#111"/>
<circle cx="403.6" cy="212.8" r="1.25" fill="#111"/>
<circle cx="406.2" cy="212.6" r="1.25" fill="#111"/>
<circle cx="409.3" cy="212.6" r="1.25" fill="#111"/>
<circle cx="413.2" cy="211.6" r="1.25" fill="#111"/>
<circle cx="413.6" cy="213.6" r="1.25" fill="#111"/>
<circle cx="398.6" cy="212.6" r="1.25" fill="#111"/>
<line x1="395" y1="212.7" x2="413" y2="212.7" stroke="#111" stroke-width="0.7"/>
<circle cx="396.4" cy="222" r="1.25" fill="#111"/>
<circle cx="399.1" cy="219.8" r="1.25" fill="#111"/>
<circle cx="400.8" cy="221.4" r="1.25" fill="#111"/>
<circle cx="402.4" cy="220.6" r="1.25" fill="#111"/>
<circle cx="404.1" cy="219.8" r="1.25" fill="#111"/>
<circle cx="405.5" cy="221.8" r="1.25" fill="#111"/>
<circle cx="410.9" cy="221.2" r="1.25" fill="#111"/>
<line x1="395" y1="221.4" x2="411" y2="221.4" stroke="#111" stroke-width="0.7"/>
<circle cx="401" cy="238.3" r="1.1" fill="#5a0010"/>
<circle cx="404.5" cy="247.3" r="1.1" fill="#5a0010"/>
<circle cx="409.5" cy="247.3" r="1.1" fill="#5a0010"/>
<rect x="394.5" y="236.3" width="24.5" height="4" fill="#c8082a"/>
<rect x="431.2" y="236.3" width="15.63" height="4" fill="#c8082a"/>
<circle cx="434.99" cy="238.21" r="1.4" fill="#111"/>
<circle cx="437.83" cy="238.3" r="1.4" fill="#111"/>
<circle cx="440.68" cy="237.91" r="1.4" fill="#111"/>
<circle cx="444.46" cy="238.55" r="1.4" fill="#111"/>
<circle cx="447.78" cy="238.32" r="1.4" fill="#111"/>
<circle cx="450.15" cy="237.97" r="1.4" fill="#111"/>
<circle cx="452.99" cy="238.68" r="1.4" fill="#111"/>
<circle cx="454.89" cy="237.84" r="1.4" fill="#111"/>
<circle cx="455.83" cy="237.99" r="1.4" fill="#111"/>
<line x1="446.83" y1="238.3" x2="458.68" y2="238.3" stroke="#333" stroke-width="0.7"/>
<line x1="458.68" y1="236.7" x2="458.68" y2="239.9" stroke="#333" stroke-width="0.7"/>
<circle cx="467.2" cy="238" r="1.45" fill="#111"/>
<rect x="394.5" y="245" width="24.5" height="4" fill="#c8082a"/>
<rect x="431.2" y="245" width="9.95" height="4" fill="#c8082a"/>
<circle cx="434.99" cy="246.98" r="1.4" fill="#111"/>
<circle cx="436.88" cy="247.5" r="1.4" fill="#111"/>
<circle cx="440.68" cy="246.64" r="1.4" fill="#111"/>
<circle cx="442.57" cy="246.77" r="1.4" fill="#111"/>
<circle cx="445.41" cy="247.29" r="1.4" fill="#111"/>
<circle cx="448.25" cy="246.84" r="1.4" fill="#111"/>
<line x1="441.15" y1="247" x2="452.04" y2="247" stroke="#333" stroke-width="0.7"/>
<line x1="452.04" y1="245.4" x2="452.04" y2="248.6" stroke="#333" stroke-width="0.7"/>
<circle cx="461.52" cy="246.5" r="1.45" fill="#111"/>
<rect x="394.5" y="261.7" width="24.5" height="4" fill="#17488a"/>
<rect x="431.2" y="261.7" width="15.63" height="4" fill="#17488a"/>
<circle cx="444.46" cy="264.13" r="1.4" fill="#111"/>
<circle cx="447.31" cy="263.22" r="1.4" fill="#111"/>
<circle cx="450.15" cy="263.44" r="1.4" fill="#111"/>
<circle cx="452.99" cy="263.51" r="1.4" fill="#111"/>
<circle cx="455.36" cy="264.05" r="1.4" fill="#111"/>
<rect x="394.5" y="270.4" width="24.5" height="4" fill="#17488a"/>
<rect x="431.2" y="270.4" width="15.63" height="4" fill="#17488a"/>
<circle cx="444.46" cy="272" r="1.4" fill="#111"/>
<circle cx="447.31" cy="272.57" r="1.4" fill="#111"/>
<circle cx="450.15" cy="272.79" r="1.4" fill="#111"/>
<circle cx="452.99" cy="272.87" r="1.4" fill="#111"/>
<circle cx="455.36" cy="272.71" r="1.4" fill="#111"/>
<rect x="394.5" y="287.3" width="24.5" height="4" fill="#34a833"/>
<rect x="431.2" y="287.3" width="30.79" height="4" fill="#34a833"/>
<circle cx="437.83" cy="288.85" r="1.4" fill="#111"/>
<circle cx="439.73" cy="289.28" r="1.4" fill="#111"/>
<circle cx="442.57" cy="289.02" r="1.4" fill="#111"/>
<circle cx="445.41" cy="288.92" r="1.4" fill="#111"/>
<circle cx="447.31" cy="289.04" r="1.4" fill="#111"/>
<circle cx="449.2" cy="289.54" r="1.4" fill="#111"/>
<circle cx="471" cy="289.38" r="1.4" fill="#111"/>
<circle cx="477.63" cy="288.93" r="1.4" fill="#111"/>
<line x1="461.99" y1="289.3" x2="483.31" y2="289.3" stroke="#333" stroke-width="0.7"/>
<line x1="483.31" y1="287.7" x2="483.31" y2="290.9" stroke="#333" stroke-width="0.7"/>
<circle cx="503.21" cy="289.3" r="1.45" fill="#111"/>
<rect x="394.5" y="296.1" width="24.5" height="4" fill="#34a833"/>
<rect x="431.2" y="296.1" width="37.9" height="4" fill="#34a833"/>
<circle cx="443.52" cy="297.89" r="1.4" fill="#111"/>
<circle cx="446.36" cy="297.67" r="1.4" fill="#111"/>
<circle cx="448.25" cy="298.53" r="1.4" fill="#111"/>
<circle cx="451.1" cy="298.35" r="1.4" fill="#111"/>
<circle cx="452.99" cy="298.07" r="1.4" fill="#111"/>
<circle cx="456.78" cy="298.56" r="1.4" fill="#111"/>
<circle cx="466.26" cy="298.58" r="1.4" fill="#111"/>
<circle cx="469.1" cy="297.81" r="1.4" fill="#111"/>
<circle cx="471" cy="297.85" r="1.4" fill="#111"/>
<line x1="469.1" y1="298.1" x2="491.37" y2="298.1" stroke="#333" stroke-width="0.7"/>
<line x1="491.37" y1="296.5" x2="491.37" y2="299.7" stroke="#333" stroke-width="0.7"/>
<circle cx="501.79" cy="296.3" r="1.45" fill="#111"/>
<circle cx="500.37" cy="299.6" r="1.45" fill="#111"/>
<line x1="394.5" y1="303.4" x2="419.3" y2="303.4" stroke="#222" stroke-width="1.1"/>
<line x1="431" y1="303.4" x2="509.4" y2="303.4" stroke="#222" stroke-width="1.1"/>
<line x1="394.5" y1="303.4" x2="394.5" y2="306" stroke="#222" stroke-width="0.9"/>
<text x="394.5" y="316.4" font-size="7" stroke="#222" stroke-width="0.1" text-anchor="middle">0</text>
<line x1="419" y1="303.4" x2="419" y2="306" stroke="#222" stroke-width="0.9"/>
<text x="419" y="316.4" font-size="7" stroke="#222" stroke-width="0.1" text-anchor="middle">5</text>
<line x1="431.2" y1="303.4" x2="431.2" y2="306" stroke="#222" stroke-width="0.9"/>
<text x="431.2" y="316.4" font-size="7" stroke="#222" stroke-width="0.1" text-anchor="middle">10</text>
<line x1="450.15" y1="303.4" x2="450.15" y2="306" stroke="#222" stroke-width="0.9"/>
<text x="450.15" y="316.4" font-size="7" stroke="#222" stroke-width="0.1" text-anchor="middle">30</text>
<line x1="469.1" y1="303.4" x2="469.1" y2="306" stroke="#222" stroke-width="0.9"/>
<text x="469.1" y="316.4" font-size="7" stroke="#222" stroke-width="0.1" text-anchor="middle">50</text>
<line x1="488.05" y1="303.4" x2="488.05" y2="306" stroke="#222" stroke-width="0.9"/>
<text x="488.05" y="316.4" font-size="7" stroke="#222" stroke-width="0.1" text-anchor="middle">70</text>
<line x1="507" y1="303.4" x2="507" y2="306" stroke="#222" stroke-width="0.9"/>
<text x="507" y="316.4" font-size="7" stroke="#222" stroke-width="0.1" text-anchor="middle">90</text>
<line x1="440.68" y1="303.4" x2="440.68" y2="304.8" stroke="#222" stroke-width="0.7"/>
<line x1="459.62" y1="303.4" x2="459.62" y2="304.8" stroke="#222" stroke-width="0.7"/>
<line x1="478.57" y1="303.4" x2="478.57" y2="304.8" stroke="#222" stroke-width="0.7"/>
<line x1="497.52" y1="303.4" x2="497.52" y2="304.8" stroke="#222" stroke-width="0.7"/>
<text x="415.9" y="329.2" font-size="8.6" stroke="#222" stroke-width="0.26" textLength="72.2" lengthAdjust="spacingAndGlyphs">Percent of CD34<tspan dy="-3.12" font-size="5">+</tspan><tspan dy="3.12"> HSPCs</tspan></text>
<text x="6.7" y="347.4" font-size="11.5" font-weight="bold" fill="#111">E</text>
<line x1="45.5" y1="355.3" x2="45.5" y2="448.9" stroke="#222" stroke-width="1"/>
<line x1="45.5" y1="448.4" x2="252.6" y2="448.4" stroke="#222" stroke-width="1.1"/>
<line x1="42.5" y1="357.52" x2="45.5" y2="357.52" stroke="#222" stroke-width="0.9"/>
<text x="39.2" y="360.02" font-size="7.1" stroke="#222" stroke-width="0.1" text-anchor="end">16</text>
<line x1="42.5" y1="380.24" x2="45.5" y2="380.24" stroke="#222" stroke-width="0.9"/>
<text x="39.2" y="382.74" font-size="7.1" stroke="#222" stroke-width="0.1" text-anchor="end">12</text>
<line x1="42.5" y1="402.96" x2="45.5" y2="402.96" stroke="#222" stroke-width="0.9"/>
<text x="39.2" y="405.46" font-size="7.1" stroke="#222" stroke-width="0.1" text-anchor="end">8</text>
<line x1="42.5" y1="425.68" x2="45.5" y2="425.68" stroke="#222" stroke-width="0.9"/>
<text x="39.2" y="428.18" font-size="7.1" stroke="#222" stroke-width="0.1" text-anchor="end">4</text>
<line x1="42.5" y1="448.4" x2="45.5" y2="448.4" stroke="#222" stroke-width="0.9"/>
<text x="39.2" y="450.9" font-size="7.1" stroke="#222" stroke-width="0.1" text-anchor="end">0</text>
<text x="14.6" y="401.3" font-size="9" stroke="#222" stroke-width="0.26" text-anchor="middle" textLength="59.5" lengthAdjust="spacingAndGlyphs" transform="rotate(-90 14.6 401.3)">Fold change in blood</text>
<text x="25.1" y="401.3" font-size="9" stroke="#222" stroke-width="0.26" text-anchor="middle" textLength="67.5" lengthAdjust="spacingAndGlyphs" transform="rotate(-90 25.1 401.3)">(3h post-motixafortide)</text>
<rect x="48" y="413.5" width="9.4" height="34.9" fill="#c8082a"/>
<line x1="52.7" y1="413.5" x2="52.7" y2="388" stroke="#111" stroke-width="0.9"/>
<line x1="50.1" y1="388" x2="55.3" y2="388" stroke="#111" stroke-width="0.9"/>
<circle cx="52.7" cy="362.5" r="1.45" fill="#111"/>
<circle cx="52.7" cy="366.3" r="1.45" fill="#111"/>
<circle cx="52.7" cy="373.1" r="1.45" fill="#111"/>
<circle cx="52.7" cy="395.4" r="1.45" fill="#111"/>
<circle cx="52.55" cy="402.3" r="1.45" fill="#111"/>
<circle cx="52.89" cy="410.8" r="1.45" fill="#111"/>
<circle cx="52.47" cy="443.2" r="1.45" fill="#111"/>
<circle cx="53.28" cy="425.75" r="1.45" fill="#111"/>
<circle cx="52.78" cy="417.05" r="1.45" fill="#111"/>
<circle cx="54.63" cy="430.22" r="1.45" fill="#111"/>
<circle cx="51.4" cy="415.63" r="1.45" fill="#111"/>
<circle cx="54.74" cy="415.59" r="1.45" fill="#111"/>
<circle cx="49.68" cy="432.77" r="1.45" fill="#111"/>
<circle cx="55.77" cy="446.09" r="1.45" fill="#111"/>
<circle cx="53.46" cy="431.17" r="1.45" fill="#111"/>
<circle cx="49.5" cy="416.56" r="1.45" fill="#111"/>
<circle cx="49.79" cy="426.47" r="1.45" fill="#111"/>
<circle cx="51" cy="417.15" r="1.45" fill="#111"/>
<circle cx="52.46" cy="415.01" r="1.45" fill="#111"/>
<circle cx="54.96" cy="423.55" r="1.45" fill="#111"/>
<circle cx="53.63" cy="426.14" r="1.45" fill="#111"/>
<circle cx="53.77" cy="425.48" r="1.45" fill="#111"/>
<circle cx="52.44" cy="412.39" r="1.45" fill="#111"/>
<circle cx="55.69" cy="415.98" r="1.45" fill="#111"/>
<circle cx="54.74" cy="414.54" r="1.45" fill="#111"/>
<circle cx="51.59" cy="412.15" r="1.45" fill="#111"/>
<circle cx="51.43" cy="411.35" r="1.45" fill="#111"/>
<line x1="52.7" y1="448.4" x2="52.7" y2="450.7" stroke="#222" stroke-width="0.8"/>
<rect x="62.82" y="414.6" width="9.4" height="33.8" fill="#c8082a"/>
<circle cx="67.52" cy="390.5" r="1.45" fill="#111"/>
<circle cx="67.44" cy="403" r="1.45" fill="#111"/>
<circle cx="68.02" cy="405" r="1.45" fill="#111"/>
<circle cx="68.05" cy="407" r="1.45" fill="#111"/>
<circle cx="66.38" cy="409" r="1.45" fill="#111"/>
<circle cx="65.95" cy="411" r="1.45" fill="#111"/>
<circle cx="67.12" cy="413" r="1.45" fill="#111"/>
<circle cx="69.57" cy="419.87" r="1.45" fill="#111"/>
<circle cx="68.19" cy="433.15" r="1.45" fill="#111"/>
<circle cx="68.58" cy="428.19" r="1.45" fill="#111"/>
<circle cx="67.12" cy="417.37" r="1.45" fill="#111"/>
<circle cx="70.2" cy="417.65" r="1.45" fill="#111"/>
<circle cx="69.62" cy="416.29" r="1.45" fill="#111"/>
<circle cx="68.75" cy="416.44" r="1.45" fill="#111"/>
<circle cx="66.89" cy="421.41" r="1.45" fill="#111"/>
<circle cx="64.34" cy="439.59" r="1.45" fill="#111"/>
<circle cx="70.26" cy="416.3" r="1.45" fill="#111"/>
<circle cx="64.82" cy="426.5" r="1.45" fill="#111"/>
<circle cx="70.47" cy="446.41" r="1.45" fill="#111"/>
<circle cx="67.01" cy="416.9" r="1.45" fill="#111"/>
<circle cx="66.28" cy="417.22" r="1.45" fill="#111"/>
<circle cx="65.3" cy="430.48" r="1.45" fill="#111"/>
<circle cx="64.56" cy="433.4" r="1.45" fill="#111"/>
<circle cx="65.55" cy="416.18" r="1.45" fill="#111"/>
<circle cx="66.92" cy="414.19" r="1.45" fill="#111"/>
<circle cx="68.1" cy="414.48" r="1.45" fill="#111"/>
<circle cx="66.83" cy="412.25" r="1.45" fill="#111"/>
<circle cx="68.88" cy="416.94" r="1.45" fill="#111"/>
<line x1="67.52" y1="448.4" x2="67.52" y2="450.7" stroke="#222" stroke-width="0.8"/>
<rect x="77.64" y="427" width="9.4" height="21.4" fill="#c8082a"/>
<circle cx="82.34" cy="391.5" r="1.45" fill="#111"/>
<circle cx="81.57" cy="416.2" r="1.45" fill="#111"/>
<circle cx="82.93" cy="419.7" r="1.45" fill="#111"/>
<circle cx="82.93" cy="421.5" r="1.45" fill="#111"/>
<circle cx="83.46" cy="424" r="1.45" fill="#111"/>
<circle cx="81.33" cy="425.5" r="1.45" fill="#111"/>
<circle cx="80.01" cy="429.74" r="1.45" fill="#111"/>
<circle cx="83.88" cy="429.67" r="1.45" fill="#111"/>
<circle cx="82.55" cy="428.61" r="1.45" fill="#111"/>
<circle cx="80.98" cy="429.53" r="1.45" fill="#111"/>
<circle cx="84.57" cy="432.99" r="1.45" fill="#111"/>
<circle cx="79.14" cy="436.75" r="1.45" fill="#111"/>
<circle cx="80.01" cy="430.36" r="1.45" fill="#111"/>
<circle cx="84.38" cy="443.65" r="1.45" fill="#111"/>
<circle cx="84.49" cy="441.8" r="1.45" fill="#111"/>
<circle cx="85.31" cy="440.14" r="1.45" fill="#111"/>
<circle cx="80.73" cy="441.46" r="1.45" fill="#111"/>
<circle cx="82.25" cy="443.03" r="1.45" fill="#111"/>
<circle cx="82.76" cy="440.41" r="1.45" fill="#111"/>
<circle cx="81.44" cy="432.95" r="1.45" fill="#111"/>
<circle cx="81.11" cy="432.95" r="1.45" fill="#111"/>
<circle cx="84.45" cy="428.49" r="1.45" fill="#111"/>
<circle cx="84.13" cy="429.43" r="1.45" fill="#111"/>
<circle cx="83.49" cy="427.27" r="1.45" fill="#111"/>
<circle cx="83.83" cy="425.17" r="1.45" fill="#111"/>
<circle cx="83.4" cy="426.72" r="1.45" fill="#111"/>
<circle cx="80.4" cy="425.51" r="1.45" fill="#111"/>
<line x1="82.34" y1="448.4" x2="82.34" y2="450.7" stroke="#222" stroke-width="0.8"/>
<rect x="92.46" y="427" width="9.4" height="21.4" fill="#c8082a"/>
<circle cx="97.16" cy="408.5" r="1.45" fill="#111"/>
<circle cx="95.9" cy="417.7" r="1.45" fill="#111"/>
<circle cx="97.81" cy="420" r="1.45" fill="#111"/>
<circle cx="97.65" cy="422" r="1.45" fill="#111"/>
<circle cx="98.57" cy="424" r="1.45" fill="#111"/>
<circle cx="96.43" cy="426.2" r="1.45" fill="#111"/>
<circle cx="98.7" cy="430.08" r="1.45" fill="#111"/>
<circle cx="95.86" cy="437.94" r="1.45" fill="#111"/>
<circle cx="96.48" cy="438.58" r="1.45" fill="#111"/>
<circle cx="94.64" cy="441.02" r="1.45" fill="#111"/>
<circle cx="99.81" cy="429.64" r="1.45" fill="#111"/>
<circle cx="95.58" cy="431.66" r="1.45" fill="#111"/>
<circle cx="98.03" cy="441.75" r="1.45" fill="#111"/>
<circle cx="97.5" cy="428.8" r="1.45" fill="#111"/>
<circle cx="94.95" cy="438.08" r="1.45" fill="#111"/>
<circle cx="94.67" cy="437.78" r="1.45" fill="#111"/>
<circle cx="94.41" cy="431.31" r="1.45" fill="#111"/>
<circle cx="100.31" cy="429.41" r="1.45" fill="#111"/>
<circle cx="100.4" cy="432.47" r="1.45" fill="#111"/>
<circle cx="97.87" cy="433.12" r="1.45" fill="#111"/>
<circle cx="98.39" cy="443.69" r="1.45" fill="#111"/>
<circle cx="97.75" cy="428.44" r="1.45" fill="#111"/>
<circle cx="97.96" cy="425.41" r="1.45" fill="#111"/>
<circle cx="94.73" cy="428.87" r="1.45" fill="#111"/>
<circle cx="97.24" cy="425.47" r="1.45" fill="#111"/>
<circle cx="96.88" cy="425.59" r="1.45" fill="#111"/>
<circle cx="98.95" cy="427" r="1.45" fill="#111"/>
<line x1="97.16" y1="448.4" x2="97.16" y2="450.7" stroke="#222" stroke-width="0.8"/>
<rect x="107.28" y="426.2" width="9.4" height="22.2" fill="#c8082a"/>
<line x1="111.98" y1="426.2" x2="111.98" y2="410.3" stroke="#111" stroke-width="0.9"/>
<line x1="109.38" y1="410.3" x2="114.58" y2="410.3" stroke="#111" stroke-width="0.9"/>
<circle cx="111.98" cy="370.6" r="1.45" fill="#111"/>
<circle cx="111.98" cy="392.3" r="1.45" fill="#111"/>
<circle cx="113.47" cy="420" r="1.45" fill="#111"/>
<circle cx="110.42" cy="424" r="1.45" fill="#111"/>
<circle cx="109.72" cy="439.59" r="1.45" fill="#111"/>
<circle cx="108.79" cy="446.9" r="1.45" fill="#111"/>
<circle cx="113.18" cy="443.72" r="1.45" fill="#111"/>
<circle cx="115.28" cy="443.05" r="1.45" fill="#111"/>
<circle cx="110.91" cy="429.17" r="1.45" fill="#111"/>
<circle cx="110.53" cy="438.85" r="1.45" fill="#111"/>
<circle cx="110.19" cy="429.5" r="1.45" fill="#111"/>
<circle cx="114.45" cy="443.07" r="1.45" fill="#111"/>
<circle cx="110.15" cy="441.31" r="1.45" fill="#111"/>
<circle cx="112.06" cy="445.11" r="1.45" fill="#111"/>
<circle cx="111.69" cy="429.05" r="1.45" fill="#111"/>
<circle cx="109.2" cy="432.18" r="1.45" fill="#111"/>
<circle cx="111.06" cy="435.27" r="1.45" fill="#111"/>
<circle cx="114.82" cy="435.39" r="1.45" fill="#111"/>
<circle cx="111.35" cy="437.23" r="1.45" fill="#111"/>
<circle cx="115.25" cy="443.24" r="1.45" fill="#111"/>
<circle cx="111.92" cy="428.43" r="1.45" fill="#111"/>
<circle cx="109.09" cy="424.4" r="1.45" fill="#111"/>
<circle cx="110.01" cy="428.39" r="1.45" fill="#111"/>
<circle cx="113.12" cy="427.3" r="1.45" fill="#111"/>
<circle cx="110.7" cy="426.17" r="1.45" fill="#111"/>
<line x1="111.98" y1="448.4" x2="111.98" y2="450.7" stroke="#222" stroke-width="0.8"/>
<rect x="122.1" y="431.1" width="9.4" height="17.3" fill="#c8082a"/>
<circle cx="126.36" cy="422.6" r="1.45" fill="#111"/>
<circle cx="126.74" cy="422.6" r="1.45" fill="#111"/>
<circle cx="126.53" cy="425" r="1.45" fill="#111"/>
<circle cx="126.63" cy="427.3" r="1.45" fill="#111"/>
<circle cx="126.51" cy="429" r="1.45" fill="#111"/>
<circle cx="125.21" cy="439.93" r="1.45" fill="#111"/>
<circle cx="123.57" cy="439.49" r="1.45" fill="#111"/>
<circle cx="125.71" cy="434.14" r="1.45" fill="#111"/>
<circle cx="128.41" cy="432.49" r="1.45" fill="#111"/>
<circle cx="128.71" cy="434.24" r="1.45" fill="#111"/>
<circle cx="125.17" cy="446.61" r="1.45" fill="#111"/>
<circle cx="128.83" cy="445.08" r="1.45" fill="#111"/>
<circle cx="123.68" cy="440.13" r="1.45" fill="#111"/>
<circle cx="127.64" cy="436.34" r="1.45" fill="#111"/>
<circle cx="124.98" cy="434.06" r="1.45" fill="#111"/>
<circle cx="125.2" cy="434.23" r="1.45" fill="#111"/>
<circle cx="125.8" cy="442.66" r="1.45" fill="#111"/>
<circle cx="127.74" cy="435.81" r="1.45" fill="#111"/>
<circle cx="125.43" cy="446.41" r="1.45" fill="#111"/>
<circle cx="129.93" cy="431.9" r="1.45" fill="#111"/>
<circle cx="128.72" cy="443.66" r="1.45" fill="#111"/>
<circle cx="126.94" cy="429.77" r="1.45" fill="#111"/>
<circle cx="124.73" cy="430.12" r="1.45" fill="#111"/>
<circle cx="126.57" cy="428.93" r="1.45" fill="#111"/>
<circle cx="128" cy="432.24" r="1.45" fill="#111"/>
<circle cx="123.88" cy="432.81" r="1.45" fill="#111"/>
<line x1="126.8" y1="448.4" x2="126.8" y2="450.7" stroke="#222" stroke-width="0.8"/>
<rect x="136.92" y="430.7" width="9.4" height="17.7" fill="#c8082a"/>
<circle cx="141.69" cy="424.3" r="1.45" fill="#111"/>
<circle cx="142.6" cy="427.3" r="1.45" fill="#111"/>
<circle cx="143.09" cy="428.5" r="1.45" fill="#111"/>
<circle cx="143.38" cy="433.65" r="1.45" fill="#111"/>
<circle cx="142.69" cy="440.7" r="1.45" fill="#111"/>
<circle cx="138.5" cy="431.89" r="1.45" fill="#111"/>
<circle cx="143.25" cy="434.93" r="1.45" fill="#111"/>
<circle cx="141.63" cy="433.21" r="1.45" fill="#111"/>
<circle cx="143.91" cy="434" r="1.45" fill="#111"/>
<circle cx="140.97" cy="446.29" r="1.45" fill="#111"/>
<circle cx="138.73" cy="446.9" r="1.45" fill="#111"/>
<circle cx="144.1" cy="443.09" r="1.45" fill="#111"/>
<circle cx="142.98" cy="432.2" r="1.45" fill="#111"/>
<circle cx="144.62" cy="437.83" r="1.45" fill="#111"/>
<circle cx="141.88" cy="432.75" r="1.45" fill="#111"/>
<circle cx="142.54" cy="444.74" r="1.45" fill="#111"/>
<circle cx="138.86" cy="433.9" r="1.45" fill="#111"/>
<circle cx="141.45" cy="446.15" r="1.45" fill="#111"/>
<circle cx="139.25" cy="446.9" r="1.45" fill="#111"/>
<circle cx="143.49" cy="432.27" r="1.45" fill="#111"/>
<circle cx="144.14" cy="428.29" r="1.45" fill="#111"/>
<circle cx="140.85" cy="428.46" r="1.45" fill="#111"/>
<circle cx="143.13" cy="429.97" r="1.45" fill="#111"/>
<circle cx="144.38" cy="430.07" r="1.45" fill="#111"/>
<line x1="141.62" y1="448.4" x2="141.62" y2="450.7" stroke="#222" stroke-width="0.8"/>
<rect x="151.74" y="432.7" width="9.4" height="15.7" fill="#c8082a"/>
<circle cx="156.44" cy="417.9" r="1.45" fill="#111"/>
<circle cx="155.42" cy="423" r="1.45" fill="#111"/>
<circle cx="156.96" cy="425.7" r="1.45" fill="#111"/>
<circle cx="155.91" cy="428" r="1.45" fill="#111"/>
<circle cx="155.47" cy="430" r="1.45" fill="#111"/>
<circle cx="156.4" cy="437.93" r="1.45" fill="#111"/>
<circle cx="156.16" cy="437.79" r="1.45" fill="#111"/>
<circle cx="154.82" cy="435.05" r="1.45" fill="#111"/>
<circle cx="155.28" cy="441.34" r="1.45" fill="#111"/>
<circle cx="158.34" cy="441.03" r="1.45" fill="#111"/>
<circle cx="159.37" cy="444.8" r="1.45" fill="#111"/>
<circle cx="154.71" cy="434.75" r="1.45" fill="#111"/>
<circle cx="156.94" cy="442.15" r="1.45" fill="#111"/>
<circle cx="157.61" cy="434.44" r="1.45" fill="#111"/>
<circle cx="158.66" cy="444.96" r="1.45" fill="#111"/>
<circle cx="155.11" cy="434.57" r="1.45" fill="#111"/>
<circle cx="159.58" cy="433.33" r="1.45" fill="#111"/>
<circle cx="157.94" cy="434.61" r="1.45" fill="#111"/>
<circle cx="157.06" cy="438.68" r="1.45" fill="#111"/>
<circle cx="158.59" cy="438.51" r="1.45" fill="#111"/>
<circle cx="155.14" cy="439.71" r="1.45" fill="#111"/>
<circle cx="154.13" cy="432.59" r="1.45" fill="#111"/>
<circle cx="158.98" cy="430.93" r="1.45" fill="#111"/>
<circle cx="157.54" cy="433.36" r="1.45" fill="#111"/>
<circle cx="154.4" cy="431.23" r="1.45" fill="#111"/>
<circle cx="157.56" cy="432.38" r="1.45" fill="#111"/>
<line x1="156.44" y1="448.4" x2="156.44" y2="450.7" stroke="#222" stroke-width="0.8"/>
<rect x="166.56" y="435" width="9.4" height="13.4" fill="#c8082a"/>
<circle cx="171.26" cy="404.7" r="1.45" fill="#111"/>
<circle cx="171.83" cy="424.9" r="1.45" fill="#111"/>
<circle cx="172.17" cy="428.4" r="1.45" fill="#111"/>
<circle cx="171.33" cy="431.1" r="1.45" fill="#111"/>
<circle cx="171.3" cy="433" r="1.45" fill="#111"/>
<circle cx="174.54" cy="438.31" r="1.45" fill="#111"/>
<circle cx="168.94" cy="437.23" r="1.45" fill="#111"/>
<circle cx="169.68" cy="436.97" r="1.45" fill="#111"/>
<circle cx="169.73" cy="437.6" r="1.45" fill="#111"/>
<circle cx="170.11" cy="435.88" r="1.45" fill="#111"/>
<circle cx="171.72" cy="437.44" r="1.45" fill="#111"/>
<circle cx="168.43" cy="436.49" r="1.45" fill="#111"/>
<circle cx="171.54" cy="436.49" r="1.45" fill="#111"/>
<circle cx="172.8" cy="438.25" r="1.45" fill="#111"/>
<circle cx="170.7" cy="444.22" r="1.45" fill="#111"/>
<circle cx="172.76" cy="435.84" r="1.45" fill="#111"/>
<circle cx="170.57" cy="443.41" r="1.45" fill="#111"/>
<circle cx="169.93" cy="441.85" r="1.45" fill="#111"/>
<circle cx="173.46" cy="446.23" r="1.45" fill="#111"/>
<circle cx="174.26" cy="444.02" r="1.45" fill="#111"/>
<circle cx="171.56" cy="436.73" r="1.45" fill="#111"/>
<circle cx="172.65" cy="436.51" r="1.45" fill="#111"/>
<circle cx="170.6" cy="433.19" r="1.45" fill="#111"/>
<circle cx="172.02" cy="433.02" r="1.45" fill="#111"/>
<circle cx="172.49" cy="432.53" r="1.45" fill="#111"/>
<circle cx="170.99" cy="434.9" r="1.45" fill="#111"/>
<line x1="171.26" y1="448.4" x2="171.26" y2="450.7" stroke="#222" stroke-width="0.8"/>
<rect x="181.38" y="436.1" width="9.4" height="12.3" fill="#c8082a"/>
<circle cx="187.38" cy="424.6" r="1.45" fill="#111"/>
<circle cx="186.68" cy="427.5" r="1.45" fill="#111"/>
<circle cx="186.93" cy="430" r="1.45" fill="#111"/>
<circle cx="187.37" cy="433.2" r="1.45" fill="#111"/>
<circle cx="186.98" cy="437.9" r="1.45" fill="#111"/>
<circle cx="188.54" cy="446.24" r="1.45" fill="#111"/>
<circle cx="183.9" cy="441.23" r="1.45" fill="#111"/>
<circle cx="189.34" cy="439.33" r="1.45" fill="#111"/>
<circle cx="184.89" cy="436.89" r="1.45" fill="#111"/>
<circle cx="185.75" cy="446.9" r="1.45" fill="#111"/>
<circle cx="184.87" cy="437.51" r="1.45" fill="#111"/>
<circle cx="184.99" cy="446.3" r="1.45" fill="#111"/>
<circle cx="186.92" cy="439.5" r="1.45" fill="#111"/>
<circle cx="186.03" cy="444.6" r="1.45" fill="#111"/>
<circle cx="186.56" cy="436.8" r="1.45" fill="#111"/>
<circle cx="183.4" cy="436.65" r="1.45" fill="#111"/>
<circle cx="187.36" cy="437.39" r="1.45" fill="#111"/>
<circle cx="187.34" cy="438.1" r="1.45" fill="#111"/>
<circle cx="183.56" cy="437.22" r="1.45" fill="#111"/>
<circle cx="187.44" cy="436.62" r="1.45" fill="#111"/>
<circle cx="188.23" cy="434.7" r="1.45" fill="#111"/>
<circle cx="184.51" cy="433.66" r="1.45" fill="#111"/>
<circle cx="186.95" cy="435.1" r="1.45" fill="#111"/>
<circle cx="183.9" cy="436.83" r="1.45" fill="#111"/>
<circle cx="186.68" cy="435.84" r="1.45" fill="#111"/>
<line x1="186.08" y1="448.4" x2="186.08" y2="450.7" stroke="#222" stroke-width="0.8"/>
<rect x="196.2" y="436.1" width="9.4" height="12.3" fill="#c8082a"/>
<circle cx="200.9" cy="421.4" r="1.45" fill="#111"/>
<circle cx="199.83" cy="425.6" r="1.45" fill="#111"/>
<circle cx="201.51" cy="428.5" r="1.45" fill="#111"/>
<circle cx="201.33" cy="431.1" r="1.45" fill="#111"/>
<circle cx="200.83" cy="434" r="1.45" fill="#111"/>
<circle cx="202.83" cy="437.57" r="1.45" fill="#111"/>
<circle cx="200.98" cy="444.64" r="1.45" fill="#111"/>
<circle cx="199.16" cy="440.39" r="1.45" fill="#111"/>
<circle cx="200.05" cy="436.59" r="1.45" fill="#111"/>
<circle cx="198.06" cy="441.4" r="1.45" fill="#111"/>
<circle cx="199.13" cy="444.41" r="1.45" fill="#111"/>
<circle cx="197.88" cy="437.69" r="1.45" fill="#111"/>
<circle cx="202.48" cy="446.9" r="1.45" fill="#111"/>
<circle cx="201.66" cy="445.73" r="1.45" fill="#111"/>
<circle cx="199.77" cy="436.64" r="1.45" fill="#111"/>
<circle cx="198.36" cy="440.3" r="1.45" fill="#111"/>
<circle cx="200.03" cy="446.9" r="1.45" fill="#111"/>
<circle cx="203" cy="437.16" r="1.45" fill="#111"/>
<circle cx="203.72" cy="437" r="1.45" fill="#111"/>
<circle cx="201.24" cy="439.78" r="1.45" fill="#111"/>
<circle cx="200.8" cy="438.63" r="1.45" fill="#111"/>
<circle cx="199.02" cy="433.79" r="1.45" fill="#111"/>
<circle cx="203.1" cy="434.77" r="1.45" fill="#111"/>
<circle cx="202.58" cy="434.64" r="1.45" fill="#111"/>
<circle cx="203.71" cy="438.07" r="1.45" fill="#111"/>
<circle cx="202.43" cy="437.41" r="1.45" fill="#111"/>
<line x1="200.9" y1="448.4" x2="200.9" y2="450.7" stroke="#222" stroke-width="0.8"/>
<rect x="211.02" y="435.5" width="9.4" height="12.9" fill="#c8082a"/>
<circle cx="215.72" cy="422.4" r="1.45" fill="#111"/>
<circle cx="217.19" cy="427.5" r="1.45" fill="#111"/>
<circle cx="214.57" cy="430" r="1.45" fill="#111"/>
<circle cx="214.2" cy="433.2" r="1.45" fill="#111"/>
<circle cx="213.64" cy="446.9" r="1.45" fill="#111"/>
<circle cx="216.72" cy="436.42" r="1.45" fill="#111"/>
<circle cx="218.29" cy="438.18" r="1.45" fill="#111"/>
<circle cx="218.75" cy="437.16" r="1.45" fill="#111"/>
<circle cx="216.39" cy="437.93" r="1.45" fill="#111"/>
<circle cx="216.94" cy="446.62" r="1.45" fill="#111"/>
<circle cx="217.09" cy="446.47" r="1.45" fill="#111"/>
<circle cx="218.24" cy="436.11" r="1.45" fill="#111"/>
<circle cx="214.47" cy="441.11" r="1.45" fill="#111"/>
<circle cx="218.03" cy="436.85" r="1.45" fill="#111"/>
<circle cx="218.61" cy="441.02" r="1.45" fill="#111"/>
<circle cx="218.76" cy="443.89" r="1.45" fill="#111"/>
<circle cx="217.03" cy="440.79" r="1.45" fill="#111"/>
<circle cx="214.13" cy="441.43" r="1.45" fill="#111"/>
<circle cx="214.48" cy="446.9" r="1.45" fill="#111"/>
<circle cx="218.72" cy="444.01" r="1.45" fill="#111"/>
<circle cx="216.63" cy="433.71" r="1.45" fill="#111"/>
<circle cx="217.67" cy="436.34" r="1.45" fill="#111"/>
<circle cx="213.83" cy="433.25" r="1.45" fill="#111"/>
<circle cx="215.91" cy="433.16" r="1.45" fill="#111"/>
<circle cx="218.27" cy="435.53" r="1.45" fill="#111"/>
<line x1="215.72" y1="448.4" x2="215.72" y2="450.7" stroke="#222" stroke-width="0.8"/>
<rect x="225.84" y="437.6" width="9.4" height="10.8" fill="#c8082a"/>
<circle cx="231.9" cy="432.2" r="1.45" fill="#111"/>
<circle cx="231.98" cy="434" r="1.45" fill="#111"/>
<circle cx="231.8" cy="436" r="1.45" fill="#111"/>
<circle cx="231.15" cy="438.22" r="1.45" fill="#111"/>
<circle cx="230.74" cy="440.55" r="1.45" fill="#111"/>
<circle cx="228.51" cy="438.41" r="1.45" fill="#111"/>
<circle cx="228.7" cy="440.75" r="1.45" fill="#111"/>
<circle cx="227.4" cy="440.85" r="1.45" fill="#111"/>
<circle cx="231.93" cy="438.23" r="1.45" fill="#111"/>
<circle cx="230.62" cy="440.52" r="1.45" fill="#111"/>
<circle cx="229.61" cy="444.09" r="1.45" fill="#111"/>
<circle cx="232.41" cy="438.14" r="1.45" fill="#111"/>
<circle cx="231.58" cy="442.29" r="1.45" fill="#111"/>
<circle cx="233.65" cy="442.67" r="1.45" fill="#111"/>
<circle cx="232.25" cy="439.99" r="1.45" fill="#111"/>
<circle cx="231.02" cy="440.05" r="1.45" fill="#111"/>
<circle cx="229.31" cy="443.15" r="1.45" fill="#111"/>
<circle cx="230.37" cy="438.23" r="1.45" fill="#111"/>
<circle cx="231.14" cy="443.88" r="1.45" fill="#111"/>
<circle cx="230.22" cy="438.31" r="1.45" fill="#111"/>
<circle cx="228.63" cy="435.99" r="1.45" fill="#111"/>
<circle cx="229.48" cy="439.18" r="1.45" fill="#111"/>
<circle cx="228.71" cy="435.67" r="1.45" fill="#111"/>
<circle cx="228.13" cy="435.29" r="1.45" fill="#111"/>
<line x1="230.54" y1="448.4" x2="230.54" y2="450.7" stroke="#222" stroke-width="0.8"/>
<rect x="240.66" y="437.6" width="9.4" height="10.8" fill="#c8082a"/>
<circle cx="245.36" cy="416.6" r="1.45" fill="#111"/>
<circle cx="245.36" cy="420.7" r="1.45" fill="#111"/>
<circle cx="246.04" cy="428.9" r="1.45" fill="#111"/>
<circle cx="246.45" cy="431" r="1.45" fill="#111"/>
<circle cx="244.34" cy="433.2" r="1.45" fill="#111"/>
<circle cx="243.34" cy="446.9" r="1.45" fill="#111"/>
<circle cx="242.67" cy="443.28" r="1.45" fill="#111"/>
<circle cx="243.06" cy="444.41" r="1.45" fill="#111"/>
<circle cx="246.84" cy="443.73" r="1.45" fill="#111"/>
<circle cx="244.97" cy="444.52" r="1.45" fill="#111"/>
<circle cx="248.58" cy="445.92" r="1.45" fill="#111"/>
<circle cx="245.47" cy="438.35" r="1.45" fill="#111"/>
<circle cx="246.94" cy="446.9" r="1.45" fill="#111"/>
<circle cx="244.07" cy="440.74" r="1.45" fill="#111"/>
<circle cx="242.62" cy="446.9" r="1.45" fill="#111"/>
<circle cx="247.63" cy="444.44" r="1.45" fill="#111"/>
<circle cx="244.22" cy="438.55" r="1.45" fill="#111"/>
<circle cx="245.64" cy="439.52" r="1.45" fill="#111"/>
<circle cx="247.96" cy="440.03" r="1.45" fill="#111"/>
<circle cx="244.15" cy="446.8" r="1.45" fill="#111"/>
<circle cx="242.52" cy="446.35" r="1.45" fill="#111"/>
<circle cx="242.94" cy="438.43" r="1.45" fill="#111"/>
<circle cx="247.15" cy="439.2" r="1.45" fill="#111"/>
<circle cx="248.31" cy="439.4" r="1.45" fill="#111"/>
<circle cx="243.96" cy="438.81" r="1.45" fill="#111"/>
<circle cx="247.91" cy="435.57" r="1.45" fill="#111"/>
<line x1="245.36" y1="448.4" x2="245.36" y2="450.7" stroke="#222" stroke-width="0.8"/>
<text x="55.1" y="454.3" font-size="7.6" stroke="#222" stroke-width="0.1" text-anchor="end" textLength="18" lengthAdjust="spacingAndGlyphs" transform="rotate(-90 55.1 454.3)">pDCs</text>
<text x="69.92" y="454.3" font-size="7.6" stroke="#222" stroke-width="0.1" text-anchor="end" textLength="30.7" lengthAdjust="spacingAndGlyphs" transform="rotate(-90 69.92 454.3)">CD20<tspan dy="-3.12" font-size="5">+</tspan><tspan dy="3.12"> B</tspan></text>
<text x="84.74" y="454.3" font-size="7.6" stroke="#222" stroke-width="0.1" text-anchor="end" textLength="21.2" lengthAdjust="spacingAndGlyphs" transform="rotate(-90 84.74 454.3)">mDCs</text>
<text x="99.56" y="454.3" font-size="7.6" stroke="#222" stroke-width="0.1" text-anchor="end" textLength="42.3" lengthAdjust="spacingAndGlyphs" transform="rotate(-90 99.56 454.3)">CD8<tspan dy="-3.12" font-size="5">+</tspan><tspan dy="3.12"> T cells</tspan></text>
<text x="114.38" y="454.3" font-size="7.6" stroke="#222" stroke-width="0.1" text-anchor="end" textLength="44.5" lengthAdjust="spacingAndGlyphs" transform="rotate(-90 114.38 454.3)">classical mon</text>
<text x="129.2" y="454.3" font-size="7.6" stroke="#222" stroke-width="0.1" text-anchor="end" textLength="25.4" lengthAdjust="spacingAndGlyphs" transform="rotate(-90 129.2 454.3)">CD4<tspan dy="-3.12" font-size="5">+</tspan><tspan dy="3.12"> T</tspan></text>
<text x="144.02" y="454.3" font-size="7.6" stroke="#222" stroke-width="0.1" text-anchor="end" textLength="36" lengthAdjust="spacingAndGlyphs" transform="rotate(-90 144.02 454.3)">CD4<tspan dy="-3.12" font-size="5">+</tspan><tspan dy="3.12"> Treg</tspan></text>
<text x="158.84" y="454.3" font-size="7.6" stroke="#222" stroke-width="0.1" text-anchor="end" textLength="33.2" lengthAdjust="spacingAndGlyphs" transform="rotate(-90 158.84 454.3)">NKT cells</text>
<text x="173.66" y="454.3" font-size="7.6" stroke="#222" stroke-width="0.1" text-anchor="end" textLength="50.9" lengthAdjust="spacingAndGlyphs" transform="rotate(-90 173.66 454.3)">CD56<tspan dy="-3.12" font-size="5">+</tspan><tspan dy="3.12">16</tspan><tspan dy="-3.12" font-size="5">+</tspan><tspan dy="3.12"> NK</tspan></text>
<text x="188.48" y="454.3" font-size="7.6" stroke="#222" stroke-width="0.1" text-anchor="end" textLength="41" lengthAdjust="spacingAndGlyphs" transform="rotate(-90 188.48 454.3)">granulocytes</text>
<text x="203.3" y="454.3" font-size="7.6" stroke="#222" stroke-width="0.1" text-anchor="end" textLength="50.9" lengthAdjust="spacingAndGlyphs" transform="rotate(-90 203.3 454.3)">CD56<tspan dy="-3.12" font-size="5">lo</tspan><tspan dy="3.12">16</tspan><tspan dy="-3.12" font-size="5">hi</tspan><tspan dy="3.12"> NK</tspan></text>
<text x="218.12" y="454.3" font-size="7.6" stroke="#222" stroke-width="0.1" text-anchor="end" textLength="56" lengthAdjust="spacingAndGlyphs" transform="rotate(-90 218.12 454.3)">nonclassical mon</text>
<text x="232.94" y="454.3" font-size="7.6" stroke="#222" stroke-width="0.1" text-anchor="end" textLength="50.9" lengthAdjust="spacingAndGlyphs" transform="rotate(-90 232.94 454.3)">CD56<tspan dy="-3.12" font-size="5">hi</tspan><tspan dy="3.12">16</tspan><tspan dy="-3.12" font-size="5">lo</tspan><tspan dy="3.12"> NK</tspan></text>
<text x="247.76" y="454.3" font-size="7.6" stroke="#222" stroke-width="0.1" text-anchor="end" textLength="32.2" lengthAdjust="spacingAndGlyphs" transform="rotate(-90 247.76 454.3)">basophils</text>
<text x="268.3" y="347.6" font-size="11.5" font-weight="bold" fill="#111">F</text>
<line x1="305.5" y1="355.3" x2="305.5" y2="448.9" stroke="#222" stroke-width="1"/>
<line x1="305.5" y1="448.4" x2="513.2" y2="448.4" stroke="#222" stroke-width="1.1"/>
<line x1="302.5" y1="357.52" x2="305.5" y2="357.52" stroke="#222" stroke-width="0.9"/>
<text x="299.1" y="360.07" font-size="7.35" stroke="#222" stroke-width="0.1" text-anchor="end">1600</text>
<line x1="302.5" y1="380.24" x2="305.5" y2="380.24" stroke="#222" stroke-width="0.9"/>
<text x="299.1" y="382.79" font-size="7.35" stroke="#222" stroke-width="0.1" text-anchor="end">1200</text>
<line x1="302.5" y1="402.96" x2="305.5" y2="402.96" stroke="#222" stroke-width="0.9"/>
<text x="299.1" y="405.51" font-size="7.35" stroke="#222" stroke-width="0.1" text-anchor="end">800</text>
<line x1="302.5" y1="425.68" x2="305.5" y2="425.68" stroke="#222" stroke-width="0.9"/>
<text x="299.1" y="428.23" font-size="7.35" stroke="#222" stroke-width="0.1" text-anchor="end">400</text>
<line x1="302.5" y1="448.4" x2="305.5" y2="448.4" stroke="#222" stroke-width="0.9"/>
<text x="299.1" y="450.95" font-size="7.35" stroke="#222" stroke-width="0.1" text-anchor="end">0</text>
<text x="276" y="401.4" font-size="8.9" stroke="#222" stroke-width="0.26" text-anchor="middle" textLength="59.6" lengthAdjust="spacingAndGlyphs" transform="rotate(-90 276 401.4)">Baseline CXCR4 MFI</text>
<rect x="308" y="430.2" width="9.4" height="18.2" fill="#17488a"/>
<line x1="312.7" y1="430.2" x2="312.7" y2="415.4" stroke="#111" stroke-width="0.9"/>
<line x1="310.1" y1="415.4" x2="315.3" y2="415.4" stroke="#111" stroke-width="0.9"/>
<circle cx="312.7" cy="400" r="1.45" fill="#111"/>
<circle cx="312.7" cy="404.3" r="1.45" fill="#111"/>
<circle cx="312.7" cy="410" r="1.45" fill="#111"/>
<circle cx="312.7" cy="410" r="1.45" fill="#111"/>
<circle cx="312.32" cy="421.5" r="1.45" fill="#111"/>
<circle cx="311.84" cy="424.6" r="1.45" fill="#111"/>
<circle cx="315.43" cy="431.87" r="1.45" fill="#111"/>
<circle cx="313.95" cy="437.89" r="1.45" fill="#111"/>
<circle cx="311.93" cy="437.42" r="1.45" fill="#111"/>
<circle cx="313.2" cy="441.08" r="1.45" fill="#111"/>
<circle cx="313.77" cy="442.21" r="1.45" fill="#111"/>
<circle cx="312.3" cy="443.58" r="1.45" fill="#111"/>
<circle cx="310.39" cy="431.78" r="1.45" fill="#111"/>
<circle cx="310.51" cy="440.9" r="1.45" fill="#111"/>
<circle cx="313.5" cy="439.43" r="1.45" fill="#111"/>
<circle cx="314.58" cy="431.11" r="1.45" fill="#111"/>
<circle cx="315.12" cy="431" r="1.45" fill="#111"/>
<circle cx="310.82" cy="443.62" r="1.45" fill="#111"/>
<circle cx="314.23" cy="440.96" r="1.45" fill="#111"/>
<circle cx="313.82" cy="431.53" r="1.45" fill="#111"/>
<circle cx="315.43" cy="431.52" r="1.45" fill="#111"/>
<circle cx="315.87" cy="440.15" r="1.45" fill="#111"/>
<circle cx="310.02" cy="429.29" r="1.45" fill="#111"/>
<circle cx="313.42" cy="430.74" r="1.45" fill="#111"/>
<circle cx="310.79" cy="432.14" r="1.45" fill="#111"/>
<circle cx="314.78" cy="429.21" r="1.45" fill="#111"/>
<circle cx="310.58" cy="431.04" r="1.45" fill="#111"/>
<line x1="312.7" y1="448.4" x2="312.7" y2="450.7" stroke="#222" stroke-width="0.8"/>
<rect x="322.82" y="426.3" width="9.4" height="22.1" fill="#17488a"/>
<line x1="327.52" y1="426.3" x2="327.52" y2="407.4" stroke="#111" stroke-width="0.9"/>
<line x1="324.92" y1="407.4" x2="330.12" y2="407.4" stroke="#111" stroke-width="0.9"/>
<circle cx="327.52" cy="362.9" r="1.45" fill="#111"/>
<circle cx="327.52" cy="405.4" r="1.45" fill="#111"/>
<circle cx="327.52" cy="407" r="1.45" fill="#111"/>
<circle cx="327.52" cy="411.5" r="1.45" fill="#111"/>
<circle cx="327.97" cy="417.7" r="1.45" fill="#111"/>
<circle cx="326" cy="421" r="1.45" fill="#111"/>
<circle cx="326.8" cy="424" r="1.45" fill="#111"/>
<circle cx="329.08" cy="429.03" r="1.45" fill="#111"/>
<circle cx="330.11" cy="438.07" r="1.45" fill="#111"/>
<circle cx="327" cy="427.59" r="1.45" fill="#111"/>
<circle cx="325.66" cy="427.26" r="1.45" fill="#111"/>
<circle cx="324.4" cy="434.01" r="1.45" fill="#111"/>
<circle cx="328.51" cy="428.72" r="1.45" fill="#111"/>
<circle cx="325.67" cy="434.88" r="1.45" fill="#111"/>
<circle cx="329.56" cy="435.91" r="1.45" fill="#111"/>
<circle cx="329.54" cy="427.19" r="1.45" fill="#111"/>
<circle cx="326.47" cy="438.63" r="1.45" fill="#111"/>
<circle cx="330.54" cy="428.22" r="1.45" fill="#111"/>
<circle cx="324.83" cy="430.74" r="1.45" fill="#111"/>
<circle cx="329.81" cy="427.67" r="1.45" fill="#111"/>
<circle cx="329.55" cy="436.25" r="1.45" fill="#111"/>
<circle cx="327.76" cy="439.47" r="1.45" fill="#111"/>
<circle cx="326.72" cy="446.65" r="1.45" fill="#111"/>
<circle cx="327.83" cy="427.95" r="1.45" fill="#111"/>
<circle cx="328.23" cy="428.11" r="1.45" fill="#111"/>
<circle cx="327.98" cy="427.32" r="1.45" fill="#111"/>
<circle cx="324.79" cy="424.94" r="1.45" fill="#111"/>
<circle cx="326.26" cy="424.2" r="1.45" fill="#111"/>
<line x1="327.52" y1="448.4" x2="327.52" y2="450.7" stroke="#222" stroke-width="0.8"/>
<rect x="337.64" y="432.1" width="9.4" height="16.3" fill="#17488a"/>
<line x1="342.34" y1="432.1" x2="342.34" y2="420.3" stroke="#111" stroke-width="0.9"/>
<line x1="339.74" y1="420.3" x2="344.94" y2="420.3" stroke="#111" stroke-width="0.9"/>
<circle cx="342.34" cy="403.8" r="1.45" fill="#111"/>
<circle cx="342.34" cy="411.5" r="1.45" fill="#111"/>
<circle cx="342.34" cy="416.5" r="1.45" fill="#111"/>
<circle cx="340.86" cy="420.8" r="1.45" fill="#111"/>
<circle cx="342.97" cy="423" r="1.45" fill="#111"/>
<circle cx="341.2" cy="428" r="1.45" fill="#111"/>
<circle cx="343.47" cy="437.12" r="1.45" fill="#111"/>
<circle cx="342.03" cy="443.1" r="1.45" fill="#111"/>
<circle cx="339.17" cy="437.67" r="1.45" fill="#111"/>
<circle cx="341.5" cy="436.67" r="1.45" fill="#111"/>
<circle cx="342.65" cy="444.36" r="1.45" fill="#111"/>
<circle cx="341.9" cy="442.32" r="1.45" fill="#111"/>
<circle cx="344.66" cy="433.68" r="1.45" fill="#111"/>
<circle cx="341.52" cy="443.67" r="1.45" fill="#111"/>
<circle cx="342.42" cy="433.1" r="1.45" fill="#111"/>
<circle cx="344.14" cy="437.64" r="1.45" fill="#111"/>
<circle cx="342.38" cy="439.33" r="1.45" fill="#111"/>
<circle cx="341.53" cy="438.94" r="1.45" fill="#111"/>
<circle cx="339.44" cy="432.87" r="1.45" fill="#111"/>
<circle cx="344.58" cy="446.38" r="1.45" fill="#111"/>
<circle cx="344.91" cy="434.89" r="1.45" fill="#111"/>
<circle cx="339.72" cy="438.06" r="1.45" fill="#111"/>
<circle cx="344.47" cy="432.52" r="1.45" fill="#111"/>
<circle cx="344.94" cy="433" r="1.45" fill="#111"/>
<circle cx="339.9" cy="432.71" r="1.45" fill="#111"/>
<circle cx="344.06" cy="434.09" r="1.45" fill="#111"/>
<circle cx="341.33" cy="432.24" r="1.45" fill="#111"/>
<line x1="342.34" y1="448.4" x2="342.34" y2="450.7" stroke="#222" stroke-width="0.8"/>
<rect x="352.46" y="437.5" width="9.4" height="10.9" fill="#17488a"/>
<circle cx="356.87" cy="427.4" r="1.45" fill="#111"/>
<circle cx="357.29" cy="429" r="1.45" fill="#111"/>
<circle cx="358.32" cy="431" r="1.45" fill="#111"/>
<circle cx="356.13" cy="433" r="1.45" fill="#111"/>
<circle cx="356.28" cy="435" r="1.45" fill="#111"/>
<circle cx="354.63" cy="437.97" r="1.45" fill="#111"/>
<circle cx="354.89" cy="437.94" r="1.45" fill="#111"/>
<circle cx="360.39" cy="441.39" r="1.45" fill="#111"/>
<circle cx="356.36" cy="443.52" r="1.45" fill="#111"/>
<circle cx="358.42" cy="440.3" r="1.45" fill="#111"/>
<circle cx="354.35" cy="439.61" r="1.45" fill="#111"/>
<circle cx="357.93" cy="445.54" r="1.45" fill="#111"/>
<circle cx="354.32" cy="438.24" r="1.45" fill="#111"/>
<circle cx="360.19" cy="438.17" r="1.45" fill="#111"/>
<circle cx="357.99" cy="438.22" r="1.45" fill="#111"/>
<circle cx="354.09" cy="446.9" r="1.45" fill="#111"/>
<circle cx="357.01" cy="440.12" r="1.45" fill="#111"/>
<circle cx="355.1" cy="446.66" r="1.45" fill="#111"/>
<circle cx="355.5" cy="439.09" r="1.45" fill="#111"/>
<circle cx="358.31" cy="438.02" r="1.45" fill="#111"/>
<circle cx="356.74" cy="445.19" r="1.45" fill="#111"/>
<circle cx="354.39" cy="438.57" r="1.45" fill="#111"/>
<circle cx="358.58" cy="438.27" r="1.45" fill="#111"/>
<circle cx="356.13" cy="439.15" r="1.45" fill="#111"/>
<circle cx="357.94" cy="437.95" r="1.45" fill="#111"/>
<circle cx="357.4" cy="436.17" r="1.45" fill="#111"/>
<line x1="357.16" y1="448.4" x2="357.16" y2="450.7" stroke="#222" stroke-width="0.8"/>
<rect x="367.28" y="432.3" width="9.4" height="16.1" fill="#17488a"/>
<circle cx="371.98" cy="414.3" r="1.45" fill="#111"/>
<circle cx="371.25" cy="424.6" r="1.45" fill="#111"/>
<circle cx="371.94" cy="427.7" r="1.45" fill="#111"/>
<circle cx="370.64" cy="429.5" r="1.45" fill="#111"/>
<circle cx="369.16" cy="435.56" r="1.45" fill="#111"/>
<circle cx="370.55" cy="432.95" r="1.45" fill="#111"/>
<circle cx="370.73" cy="433.43" r="1.45" fill="#111"/>
<circle cx="368.92" cy="442.16" r="1.45" fill="#111"/>
<circle cx="369.57" cy="439.93" r="1.45" fill="#111"/>
<circle cx="373.54" cy="443.21" r="1.45" fill="#111"/>
<circle cx="374.28" cy="434.17" r="1.45" fill="#111"/>
<circle cx="369.17" cy="441.65" r="1.45" fill="#111"/>
<circle cx="373.3" cy="436.47" r="1.45" fill="#111"/>
<circle cx="369.82" cy="445.97" r="1.45" fill="#111"/>
<circle cx="373.8" cy="434.58" r="1.45" fill="#111"/>
<circle cx="369.3" cy="446.88" r="1.45" fill="#111"/>
<circle cx="373.64" cy="433.26" r="1.45" fill="#111"/>
<circle cx="371.23" cy="435.3" r="1.45" fill="#111"/>
<circle cx="373.6" cy="444.94" r="1.45" fill="#111"/>
<circle cx="374.41" cy="440.58" r="1.45" fill="#111"/>
<circle cx="373.37" cy="433.85" r="1.45" fill="#111"/>
<circle cx="372.84" cy="432.77" r="1.45" fill="#111"/>
<circle cx="369.34" cy="434.35" r="1.45" fill="#111"/>
<circle cx="374.45" cy="431.56" r="1.45" fill="#111"/>
<circle cx="372.74" cy="429.88" r="1.45" fill="#111"/>
<line x1="371.98" y1="448.4" x2="371.98" y2="450.7" stroke="#222" stroke-width="0.8"/>
<rect x="382.1" y="438.1" width="9.4" height="10.3" fill="#17488a"/>
<line x1="386.8" y1="438.1" x2="386.8" y2="435.4" stroke="#111" stroke-width="0.9"/>
<line x1="384.2" y1="435.4" x2="389.4" y2="435.4" stroke="#111" stroke-width="0.9"/>
<circle cx="388.04" cy="426.9" r="1.45" fill="#111"/>
<circle cx="386.48" cy="434" r="1.45" fill="#111"/>
<circle cx="387.08" cy="436" r="1.45" fill="#111"/>
<circle cx="385.01" cy="445.95" r="1.45" fill="#111"/>
<circle cx="387.35" cy="441.8" r="1.45" fill="#111"/>
<circle cx="383.71" cy="446.9" r="1.45" fill="#111"/>
<circle cx="385.61" cy="438.64" r="1.45" fill="#111"/>
<circle cx="389.06" cy="445.48" r="1.45" fill="#111"/>
<circle cx="389.57" cy="438.9" r="1.45" fill="#111"/>
<circle cx="389.89" cy="441.92" r="1.45" fill="#111"/>
<circle cx="384.11" cy="446.9" r="1.45" fill="#111"/>
<circle cx="386.66" cy="446.9" r="1.45" fill="#111"/>
<circle cx="386.57" cy="439" r="1.45" fill="#111"/>
<circle cx="388.44" cy="438.66" r="1.45" fill="#111"/>
<circle cx="384.22" cy="442.09" r="1.45" fill="#111"/>
<circle cx="386.84" cy="439.39" r="1.45" fill="#111"/>
<circle cx="385.32" cy="444.86" r="1.45" fill="#111"/>
<circle cx="385.84" cy="438.78" r="1.45" fill="#111"/>
<circle cx="385.71" cy="438.64" r="1.45" fill="#111"/>
<circle cx="389.03" cy="436.52" r="1.45" fill="#111"/>
<circle cx="385.61" cy="439.47" r="1.45" fill="#111"/>
<circle cx="385.02" cy="436.17" r="1.45" fill="#111"/>
<circle cx="385.29" cy="438.65" r="1.45" fill="#111"/>
<circle cx="388.07" cy="438.98" r="1.45" fill="#111"/>
<line x1="386.8" y1="448.4" x2="386.8" y2="450.7" stroke="#222" stroke-width="0.8"/>
<rect x="396.92" y="441.4" width="9.4" height="7" fill="#17488a"/>
<circle cx="401.15" cy="435" r="1.45" fill="#111"/>
<circle cx="401.4" cy="438" r="1.45" fill="#111"/>
<circle cx="401.47" cy="440" r="1.45" fill="#111"/>
<circle cx="401.7" cy="442.84" r="1.45" fill="#111"/>
<circle cx="398.59" cy="443.12" r="1.45" fill="#111"/>
<circle cx="398.48" cy="443.28" r="1.45" fill="#111"/>
<circle cx="400.06" cy="441.85" r="1.45" fill="#111"/>
<circle cx="401.5" cy="446.9" r="1.45" fill="#111"/>
<circle cx="404.37" cy="444.13" r="1.45" fill="#111"/>
<circle cx="402.07" cy="446.9" r="1.45" fill="#111"/>
<circle cx="401.77" cy="442.29" r="1.45" fill="#111"/>
<circle cx="404.64" cy="442.93" r="1.45" fill="#111"/>
<circle cx="400.79" cy="441.71" r="1.45" fill="#111"/>
<circle cx="402.29" cy="445.22" r="1.45" fill="#111"/>
<circle cx="403.35" cy="444.21" r="1.45" fill="#111"/>
<circle cx="403.87" cy="442.33" r="1.45" fill="#111"/>
<circle cx="398.55" cy="446.9" r="1.45" fill="#111"/>
<circle cx="400.71" cy="442.79" r="1.45" fill="#111"/>
<circle cx="401.88" cy="443.07" r="1.45" fill="#111"/>
<circle cx="400.14" cy="442.14" r="1.45" fill="#111"/>
<circle cx="403.91" cy="443.54" r="1.45" fill="#111"/>
<circle cx="403.69" cy="439.99" r="1.45" fill="#111"/>
<circle cx="403.09" cy="442.77" r="1.45" fill="#111"/>
<circle cx="402.25" cy="442.27" r="1.45" fill="#111"/>
<line x1="401.62" y1="448.4" x2="401.62" y2="450.7" stroke="#222" stroke-width="0.8"/>
<rect x="411.74" y="438.7" width="9.4" height="9.7" fill="#17488a"/>
<circle cx="416.59" cy="431.1" r="1.45" fill="#111"/>
<circle cx="415.26" cy="433.4" r="1.45" fill="#111"/>
<circle cx="417.12" cy="435.4" r="1.45" fill="#111"/>
<circle cx="415.81" cy="437" r="1.45" fill="#111"/>
<circle cx="414.41" cy="446.9" r="1.45" fill="#111"/>
<circle cx="414.23" cy="444.86" r="1.45" fill="#111"/>
<circle cx="418.91" cy="446.9" r="1.45" fill="#111"/>
<circle cx="417.43" cy="439.34" r="1.45" fill="#111"/>
<circle cx="416.52" cy="439.87" r="1.45" fill="#111"/>
<circle cx="414.16" cy="445.97" r="1.45" fill="#111"/>
<circle cx="413.62" cy="439.86" r="1.45" fill="#111"/>
<circle cx="416.43" cy="439.2" r="1.45" fill="#111"/>
<circle cx="413.99" cy="439.58" r="1.45" fill="#111"/>
<circle cx="415.07" cy="444.11" r="1.45" fill="#111"/>
<circle cx="415.37" cy="440.67" r="1.45" fill="#111"/>
<circle cx="414.93" cy="445.86" r="1.45" fill="#111"/>
<circle cx="419.32" cy="443.55" r="1.45" fill="#111"/>
<circle cx="415.01" cy="442.73" r="1.45" fill="#111"/>
<circle cx="417.45" cy="439.46" r="1.45" fill="#111"/>
<circle cx="415.79" cy="439.64" r="1.45" fill="#111"/>
<circle cx="418.33" cy="440.11" r="1.45" fill="#111"/>
<circle cx="415.1" cy="438.03" r="1.45" fill="#111"/>
<circle cx="415.17" cy="437.66" r="1.45" fill="#111"/>
<circle cx="416.42" cy="436.78" r="1.45" fill="#111"/>
<circle cx="414.13" cy="436.93" r="1.45" fill="#111"/>
<line x1="416.44" y1="448.4" x2="416.44" y2="450.7" stroke="#222" stroke-width="0.8"/>
<rect x="426.56" y="444.1" width="9.4" height="4.3" fill="#17488a"/>
<circle cx="429.87" cy="443" r="1.45" fill="#111"/>
<circle cx="430.98" cy="443.5" r="1.45" fill="#111"/>
<circle cx="432.92" cy="444.39" r="1.45" fill="#111"/>
<circle cx="428.29" cy="445.62" r="1.45" fill="#111"/>
<circle cx="432.82" cy="444.3" r="1.45" fill="#111"/>
<circle cx="432.8" cy="444.47" r="1.45" fill="#111"/>
<circle cx="431.29" cy="446.16" r="1.45" fill="#111"/>
<circle cx="431.94" cy="446.9" r="1.45" fill="#111"/>
<circle cx="430.6" cy="445.9" r="1.45" fill="#111"/>
<circle cx="428.87" cy="444.7" r="1.45" fill="#111"/>
<circle cx="430.44" cy="445.27" r="1.45" fill="#111"/>
<circle cx="429.73" cy="446.89" r="1.45" fill="#111"/>
<circle cx="434.2" cy="445.18" r="1.45" fill="#111"/>
<circle cx="432.32" cy="446.11" r="1.45" fill="#111"/>
<circle cx="433.97" cy="446.45" r="1.45" fill="#111"/>
<circle cx="433.04" cy="444.59" r="1.45" fill="#111"/>
<circle cx="429.64" cy="444.32" r="1.45" fill="#111"/>
<circle cx="430.06" cy="446" r="1.45" fill="#111"/>
<circle cx="431.19" cy="442.71" r="1.45" fill="#111"/>
<circle cx="429.79" cy="443.79" r="1.45" fill="#111"/>
<circle cx="431.93" cy="445.07" r="1.45" fill="#111"/>
<circle cx="431.26" cy="443.5" r="1.45" fill="#111"/>
<circle cx="434.06" cy="445.48" r="1.45" fill="#111"/>
<line x1="431.26" y1="448.4" x2="431.26" y2="450.7" stroke="#222" stroke-width="0.8"/>
<rect x="441.38" y="438.7" width="9.4" height="9.7" fill="#17488a"/>
<circle cx="446.08" cy="424.3" r="1.45" fill="#111"/>
<circle cx="446.07" cy="434.7" r="1.45" fill="#111"/>
<circle cx="445.33" cy="436.5" r="1.45" fill="#111"/>
<circle cx="444.38" cy="443.43" r="1.45" fill="#111"/>
<circle cx="449.18" cy="441.78" r="1.45" fill="#111"/>
<circle cx="444.87" cy="439.26" r="1.45" fill="#111"/>
<circle cx="443.34" cy="443.86" r="1.45" fill="#111"/>
<circle cx="448.23" cy="439.53" r="1.45" fill="#111"/>
<circle cx="444.89" cy="446.9" r="1.45" fill="#111"/>
<circle cx="449.2" cy="439.71" r="1.45" fill="#111"/>
<circle cx="446.76" cy="440.59" r="1.45" fill="#111"/>
<circle cx="446.97" cy="443.11" r="1.45" fill="#111"/>
<circle cx="449.13" cy="446.83" r="1.45" fill="#111"/>
<circle cx="448.22" cy="444.05" r="1.45" fill="#111"/>
<circle cx="447.02" cy="445.26" r="1.45" fill="#111"/>
<circle cx="444.28" cy="441.4" r="1.45" fill="#111"/>
<circle cx="448.92" cy="440.16" r="1.45" fill="#111"/>
<circle cx="443.48" cy="444.13" r="1.45" fill="#111"/>
<circle cx="444.57" cy="446.77" r="1.45" fill="#111"/>
<circle cx="447.23" cy="438.5" r="1.45" fill="#111"/>
<circle cx="444.7" cy="437.25" r="1.45" fill="#111"/>
<circle cx="446.55" cy="438.26" r="1.45" fill="#111"/>
<circle cx="446.83" cy="439.68" r="1.45" fill="#111"/>
<circle cx="448" cy="440.47" r="1.45" fill="#111"/>
<line x1="446.08" y1="448.4" x2="446.08" y2="450.7" stroke="#222" stroke-width="0.8"/>
<rect x="456.2" y="437.9" width="9.4" height="10.5" fill="#17488a"/>
<line x1="460.9" y1="437.9" x2="460.9" y2="433.2" stroke="#111" stroke-width="0.9"/>
<line x1="458.3" y1="433.2" x2="463.5" y2="433.2" stroke="#111" stroke-width="0.9"/>
<circle cx="460.9" cy="420.6" r="1.45" fill="#111"/>
<circle cx="460.08" cy="428.5" r="1.45" fill="#111"/>
<circle cx="460.91" cy="435" r="1.45" fill="#111"/>
<circle cx="463.02" cy="438.84" r="1.45" fill="#111"/>
<circle cx="461.25" cy="439.25" r="1.45" fill="#111"/>
<circle cx="460.22" cy="446.87" r="1.45" fill="#111"/>
<circle cx="462.43" cy="446.9" r="1.45" fill="#111"/>
<circle cx="461.75" cy="442.01" r="1.45" fill="#111"/>
<circle cx="459.98" cy="442.43" r="1.45" fill="#111"/>
<circle cx="460.27" cy="446.9" r="1.45" fill="#111"/>
<circle cx="463.23" cy="446.9" r="1.45" fill="#111"/>
<circle cx="459.3" cy="438.35" r="1.45" fill="#111"/>
<circle cx="462.98" cy="441.28" r="1.45" fill="#111"/>
<circle cx="461.66" cy="438.93" r="1.45" fill="#111"/>
<circle cx="462.79" cy="440.26" r="1.45" fill="#111"/>
<circle cx="462.63" cy="446.87" r="1.45" fill="#111"/>
<circle cx="462.62" cy="439.02" r="1.45" fill="#111"/>
<circle cx="463.13" cy="440.9" r="1.45" fill="#111"/>
<circle cx="463.58" cy="441.21" r="1.45" fill="#111"/>
<circle cx="463.82" cy="439.52" r="1.45" fill="#111"/>
<circle cx="462.86" cy="439.5" r="1.45" fill="#111"/>
<circle cx="461.45" cy="436.27" r="1.45" fill="#111"/>
<circle cx="463.82" cy="437.72" r="1.45" fill="#111"/>
<circle cx="458" cy="437.57" r="1.45" fill="#111"/>
<line x1="460.9" y1="448.4" x2="460.9" y2="450.7" stroke="#222" stroke-width="0.8"/>
<rect x="471.02" y="420.4" width="9.4" height="28" fill="#17488a"/>
<circle cx="475.72" cy="390.5" r="1.45" fill="#111"/>
<circle cx="475.72" cy="406.9" r="1.45" fill="#111"/>
<circle cx="477.25" cy="408.5" r="1.45" fill="#111"/>
<circle cx="474.29" cy="413" r="1.45" fill="#111"/>
<circle cx="476.44" cy="415.3" r="1.45" fill="#111"/>
<circle cx="475.67" cy="417.7" r="1.45" fill="#111"/>
<circle cx="477.13" cy="419.7" r="1.45" fill="#111"/>
<circle cx="478.49" cy="427.63" r="1.45" fill="#111"/>
<circle cx="478.99" cy="422.88" r="1.45" fill="#111"/>
<circle cx="473.63" cy="427.78" r="1.45" fill="#111"/>
<circle cx="476.58" cy="426.24" r="1.45" fill="#111"/>
<circle cx="474.98" cy="421.64" r="1.45" fill="#111"/>
<circle cx="472.88" cy="421.54" r="1.45" fill="#111"/>
<circle cx="473.94" cy="423.04" r="1.45" fill="#111"/>
<circle cx="477.56" cy="424.77" r="1.45" fill="#111"/>
<circle cx="478.08" cy="427.85" r="1.45" fill="#111"/>
<circle cx="478.33" cy="443.23" r="1.45" fill="#111"/>
<circle cx="476.22" cy="445.16" r="1.45" fill="#111"/>
<circle cx="478.24" cy="435.13" r="1.45" fill="#111"/>
<circle cx="473.36" cy="431.24" r="1.45" fill="#111"/>
<circle cx="475.92" cy="430.58" r="1.45" fill="#111"/>
<circle cx="473.03" cy="423.17" r="1.45" fill="#111"/>
<circle cx="477.02" cy="423.24" r="1.45" fill="#111"/>
<circle cx="477.59" cy="421.18" r="1.45" fill="#111"/>
<circle cx="475.28" cy="418.04" r="1.45" fill="#111"/>
<circle cx="472.75" cy="421.17" r="1.45" fill="#111"/>
<circle cx="475.9" cy="420.18" r="1.45" fill="#111"/>
<circle cx="473.75" cy="418.52" r="1.45" fill="#111"/>
<line x1="475.72" y1="448.4" x2="475.72" y2="450.7" stroke="#222" stroke-width="0.8"/>
<rect x="485.84" y="441.9" width="9.4" height="6.5" fill="#17488a"/>
<circle cx="490.91" cy="434.5" r="1.45" fill="#111"/>
<circle cx="491.79" cy="436.3" r="1.45" fill="#111"/>
<circle cx="490.4" cy="438" r="1.45" fill="#111"/>
<circle cx="491.22" cy="440" r="1.45" fill="#111"/>
<circle cx="490.68" cy="446.9" r="1.45" fill="#111"/>
<circle cx="492.05" cy="445.8" r="1.45" fill="#111"/>
<circle cx="487.48" cy="446.84" r="1.45" fill="#111"/>
<circle cx="493.82" cy="442.51" r="1.45" fill="#111"/>
<circle cx="488.96" cy="445.91" r="1.45" fill="#111"/>
<circle cx="488.36" cy="445.87" r="1.45" fill="#111"/>
<circle cx="490.15" cy="443.33" r="1.45" fill="#111"/>
<circle cx="488.15" cy="442.72" r="1.45" fill="#111"/>
<circle cx="491.51" cy="444.18" r="1.45" fill="#111"/>
<circle cx="491.6" cy="443.12" r="1.45" fill="#111"/>
<circle cx="487.6" cy="446.9" r="1.45" fill="#111"/>
<circle cx="487.84" cy="442.93" r="1.45" fill="#111"/>
<circle cx="489.96" cy="445.37" r="1.45" fill="#111"/>
<circle cx="488.87" cy="443.76" r="1.45" fill="#111"/>
<circle cx="492.25" cy="446.15" r="1.45" fill="#111"/>
<circle cx="492.68" cy="443.81" r="1.45" fill="#111"/>
<circle cx="488.93" cy="441.12" r="1.45" fill="#111"/>
<circle cx="493.29" cy="440.54" r="1.45" fill="#111"/>
<circle cx="488.4" cy="439.56" r="1.45" fill="#111"/>
<circle cx="491.57" cy="443.5" r="1.45" fill="#111"/>
<circle cx="487.85" cy="441.79" r="1.45" fill="#111"/>
<line x1="490.54" y1="448.4" x2="490.54" y2="450.7" stroke="#222" stroke-width="0.8"/>
<rect x="500.66" y="431.8" width="9.4" height="16.6" fill="#17488a"/>
<line x1="505.36" y1="431.8" x2="505.36" y2="420.1" stroke="#111" stroke-width="0.9"/>
<line x1="502.76" y1="420.1" x2="507.96" y2="420.1" stroke="#111" stroke-width="0.9"/>
<circle cx="505.36" cy="395.2" r="1.45" fill="#111"/>
<circle cx="506.68" cy="425.8" r="1.45" fill="#111"/>
<circle cx="504.2" cy="427.8" r="1.45" fill="#111"/>
<circle cx="505.54" cy="429.8" r="1.45" fill="#111"/>
<circle cx="508.39" cy="437.23" r="1.45" fill="#111"/>
<circle cx="505.01" cy="435.72" r="1.45" fill="#111"/>
<circle cx="504.58" cy="438.81" r="1.45" fill="#111"/>
<circle cx="507.86" cy="445.64" r="1.45" fill="#111"/>
<circle cx="502.43" cy="441.57" r="1.45" fill="#111"/>
<circle cx="505.68" cy="446.9" r="1.45" fill="#111"/>
<circle cx="505.64" cy="439.17" r="1.45" fill="#111"/>
<circle cx="508.2" cy="437.76" r="1.45" fill="#111"/>
<circle cx="503" cy="434.38" r="1.45" fill="#111"/>
<circle cx="503.78" cy="446.9" r="1.45" fill="#111"/>
<circle cx="504.95" cy="434.43" r="1.45" fill="#111"/>
<circle cx="504.54" cy="445.31" r="1.45" fill="#111"/>
<circle cx="503.81" cy="432.48" r="1.45" fill="#111"/>
<circle cx="502.2" cy="433.91" r="1.45" fill="#111"/>
<circle cx="506.9" cy="445.19" r="1.45" fill="#111"/>
<circle cx="503.66" cy="433.09" r="1.45" fill="#111"/>
<circle cx="508.24" cy="432.8" r="1.45" fill="#111"/>
<circle cx="505.04" cy="432.2" r="1.45" fill="#111"/>
<circle cx="508.26" cy="430.5" r="1.45" fill="#111"/>
<circle cx="506.15" cy="429.38" r="1.45" fill="#111"/>
<circle cx="505.27" cy="430.48" r="1.45" fill="#111"/>
<line x1="505.36" y1="448.4" x2="505.36" y2="450.7" stroke="#222" stroke-width="0.8"/>
<text x="315.1" y="454.3" font-size="7.6" stroke="#222" stroke-width="0.1" text-anchor="end" textLength="18" lengthAdjust="spacingAndGlyphs" transform="rotate(-90 315.1 454.3)">pDCs</text>
<text x="329.92" y="454.3" font-size="7.6" stroke="#222" stroke-width="0.1" text-anchor="end" textLength="30.7" lengthAdjust="spacingAndGlyphs" transform="rotate(-90 329.92 454.3)">CD20<tspan dy="-3.12" font-size="5">+</tspan><tspan dy="3.12"> B</tspan></text>
<text x="344.74" y="454.3" font-size="7.6" stroke="#222" stroke-width="0.1" text-anchor="end" textLength="21.2" lengthAdjust="spacingAndGlyphs" transform="rotate(-90 344.74 454.3)">mDCs</text>
<text x="359.56" y="454.3" font-size="7.6" stroke="#222" stroke-width="0.1" text-anchor="end" textLength="42.3" lengthAdjust="spacingAndGlyphs" transform="rotate(-90 359.56 454.3)">CD8<tspan dy="-3.12" font-size="5">+</tspan><tspan dy="3.12"> T cells</tspan></text>
<text x="374.38" y="454.3" font-size="7.6" stroke="#222" stroke-width="0.1" text-anchor="end" textLength="44.5" lengthAdjust="spacingAndGlyphs" transform="rotate(-90 374.38 454.3)">classical mon</text>
<text x="389.2" y="454.3" font-size="7.6" stroke="#222" stroke-width="0.1" text-anchor="end" textLength="25.4" lengthAdjust="spacingAndGlyphs" transform="rotate(-90 389.2 454.3)">CD4<tspan dy="-3.12" font-size="5">+</tspan><tspan dy="3.12"> T</tspan></text>
<text x="404.02" y="454.3" font-size="7.6" stroke="#222" stroke-width="0.1" text-anchor="end" textLength="36" lengthAdjust="spacingAndGlyphs" transform="rotate(-90 404.02 454.3)">CD4<tspan dy="-3.12" font-size="5">+</tspan><tspan dy="3.12"> Treg</tspan></text>
<text x="418.84" y="454.3" font-size="7.6" stroke="#222" stroke-width="0.1" text-anchor="end" textLength="33.2" lengthAdjust="spacingAndGlyphs" transform="rotate(-90 418.84 454.3)">NKT cells</text>
<text x="433.66" y="454.3" font-size="7.6" stroke="#222" stroke-width="0.1" text-anchor="end" textLength="50.9" lengthAdjust="spacingAndGlyphs" transform="rotate(-90 433.66 454.3)">CD56<tspan dy="-3.12" font-size="5">+</tspan><tspan dy="3.12">16</tspan><tspan dy="-3.12" font-size="5">+</tspan><tspan dy="3.12"> NK</tspan></text>
<text x="448.48" y="454.3" font-size="7.6" stroke="#222" stroke-width="0.1" text-anchor="end" textLength="41" lengthAdjust="spacingAndGlyphs" transform="rotate(-90 448.48 454.3)">granulocytes</text>
<text x="463.3" y="454.3" font-size="7.6" stroke="#222" stroke-width="0.1" text-anchor="end" textLength="50.9" lengthAdjust="spacingAndGlyphs" transform="rotate(-90 463.3 454.3)">CD56<tspan dy="-3.12" font-size="5">lo</tspan><tspan dy="3.12">16</tspan><tspan dy="-3.12" font-size="5">hi</tspan><tspan dy="3.12"> NK</tspan></text>
<text x="478.12" y="454.3" font-size="7.6" stroke="#222" stroke-width="0.1" text-anchor="end" textLength="56" lengthAdjust="spacingAndGlyphs" transform="rotate(-90 478.12 454.3)">nonclassical mon</text>
<text x="492.94" y="454.3" font-size="7.6" stroke="#222" stroke-width="0.1" text-anchor="end" textLength="50.9" lengthAdjust="spacingAndGlyphs" transform="rotate(-90 492.94 454.3)">CD56<tspan dy="-3.12" font-size="5">hi</tspan><tspan dy="3.12">16</tspan><tspan dy="-3.12" font-size="5">lo</tspan><tspan dy="3.12"> NK</tspan></text>
<text x="507.76" y="454.3" font-size="7.6" stroke="#222" stroke-width="0.1" text-anchor="end" textLength="32.2" lengthAdjust="spacingAndGlyphs" transform="rotate(-90 507.76 454.3)">basophils</text>
<text x="6.9" y="527.8" font-size="11.5" font-weight="bold" fill="#111">G</text>
<line x1="45.5" y1="535.1" x2="45.5" y2="628.4" stroke="#222" stroke-width="1"/>
<line x1="45.5" y1="627.9" x2="252" y2="627.9" stroke="#222" stroke-width="1.2"/>
<line x1="42.5" y1="537.5" x2="45.5" y2="537.5" stroke="#222" stroke-width="0.9"/>
<text x="39.1" y="540" font-size="7.1" stroke="#222" stroke-width="0.1" text-anchor="end">16</text>
<line x1="42.5" y1="560.1" x2="45.5" y2="560.1" stroke="#222" stroke-width="0.9"/>
<text x="39.1" y="562.6" font-size="7.1" stroke="#222" stroke-width="0.1" text-anchor="end">12</text>
<line x1="42.5" y1="582.7" x2="45.5" y2="582.7" stroke="#222" stroke-width="0.9"/>
<text x="39.1" y="585.2" font-size="7.1" stroke="#222" stroke-width="0.1" text-anchor="end">8</text>
<line x1="42.5" y1="605.3" x2="45.5" y2="605.3" stroke="#222" stroke-width="0.9"/>
<text x="39.1" y="607.8" font-size="7.1" stroke="#222" stroke-width="0.1" text-anchor="end">4</text>
<line x1="42.5" y1="627.9" x2="45.5" y2="627.9" stroke="#222" stroke-width="0.9"/>
<text x="39.1" y="630.4" font-size="7.1" stroke="#222" stroke-width="0.1" text-anchor="end">0</text>
<text x="14.6" y="580.5" font-size="9" stroke="#222" stroke-width="0.26" text-anchor="middle" textLength="60.2" lengthAdjust="spacingAndGlyphs" transform="rotate(-90 14.6 580.5)">Fold change in blood</text>
<text x="25.1" y="581.8" font-size="9" stroke="#222" stroke-width="0.26" text-anchor="middle" textLength="68.5" lengthAdjust="spacingAndGlyphs" transform="rotate(-90 25.1 581.8)">(3h post-motixafortide)</text>
<rect x="48.15" y="599" width="9.4" height="28.9" fill="#c8082a"/>
<circle cx="52.85" cy="581.3" r="1.45" fill="#111"/>
<circle cx="52.29" cy="588.1" r="1.45" fill="#111"/>
<circle cx="53.23" cy="591.3" r="1.45" fill="#111"/>
<circle cx="51.28" cy="595" r="1.45" fill="#111"/>
<circle cx="54.4" cy="597.5" r="1.45" fill="#111"/>
<circle cx="56.14" cy="619.59" r="1.45" fill="#111"/>
<circle cx="50.87" cy="603.3" r="1.45" fill="#111"/>
<circle cx="50.83" cy="600.41" r="1.45" fill="#111"/>
<circle cx="54.12" cy="600.22" r="1.45" fill="#111"/>
<circle cx="54.93" cy="605.47" r="1.45" fill="#111"/>
<circle cx="51.86" cy="617.32" r="1.45" fill="#111"/>
<circle cx="51.84" cy="601.67" r="1.45" fill="#111"/>
<circle cx="53.83" cy="600.25" r="1.45" fill="#111"/>
<circle cx="50.53" cy="602.02" r="1.45" fill="#111"/>
<circle cx="52.43" cy="622.16" r="1.45" fill="#111"/>
<circle cx="56.02" cy="624.49" r="1.45" fill="#111"/>
<circle cx="51.2" cy="613.96" r="1.45" fill="#111"/>
<circle cx="51.18" cy="601.4" r="1.45" fill="#111"/>
<circle cx="52.93" cy="616.46" r="1.45" fill="#111"/>
<circle cx="49.67" cy="603.99" r="1.45" fill="#111"/>
<circle cx="52.14" cy="605.14" r="1.45" fill="#111"/>
<circle cx="50.27" cy="597.75" r="1.45" fill="#111"/>
<circle cx="51.62" cy="598.58" r="1.45" fill="#111"/>
<circle cx="52.81" cy="599.33" r="1.45" fill="#111"/>
<circle cx="54.95" cy="597.97" r="1.45" fill="#111"/>
<circle cx="50.42" cy="598.02" r="1.45" fill="#111"/>
<line x1="52.85" y1="627.9" x2="52.85" y2="630.2" stroke="#222" stroke-width="0.8"/>
<rect x="62.9" y="610.6" width="9.4" height="17.3" fill="#c8082a"/>
<circle cx="67.6" cy="590.6" r="1.45" fill="#111"/>
<circle cx="66.23" cy="600.6" r="1.45" fill="#111"/>
<circle cx="67.9" cy="603.1" r="1.45" fill="#111"/>
<circle cx="69.17" cy="606.3" r="1.45" fill="#111"/>
<circle cx="67.1" cy="608.5" r="1.45" fill="#111"/>
<circle cx="66.77" cy="617.3" r="1.45" fill="#111"/>
<circle cx="68.82" cy="621.11" r="1.45" fill="#111"/>
<circle cx="70.74" cy="618.3" r="1.45" fill="#111"/>
<circle cx="66.56" cy="620.35" r="1.45" fill="#111"/>
<circle cx="68.48" cy="614.68" r="1.45" fill="#111"/>
<circle cx="65.77" cy="620.12" r="1.45" fill="#111"/>
<circle cx="67.25" cy="622.63" r="1.45" fill="#111"/>
<circle cx="64.9" cy="621.82" r="1.45" fill="#111"/>
<circle cx="64.42" cy="613.83" r="1.45" fill="#111"/>
<circle cx="65.98" cy="615.22" r="1.45" fill="#111"/>
<circle cx="65.76" cy="614.22" r="1.45" fill="#111"/>
<circle cx="68.49" cy="623.6" r="1.45" fill="#111"/>
<circle cx="67.58" cy="614.26" r="1.45" fill="#111"/>
<circle cx="70.52" cy="612.36" r="1.45" fill="#111"/>
<circle cx="68.07" cy="624.87" r="1.45" fill="#111"/>
<circle cx="70.59" cy="612.08" r="1.45" fill="#111"/>
<circle cx="65.9" cy="608.37" r="1.45" fill="#111"/>
<circle cx="67.11" cy="609.99" r="1.45" fill="#111"/>
<circle cx="69.7" cy="608.83" r="1.45" fill="#111"/>
<circle cx="64.97" cy="610.31" r="1.45" fill="#111"/>
<circle cx="64.85" cy="611.41" r="1.45" fill="#111"/>
<line x1="67.6" y1="627.9" x2="67.6" y2="630.2" stroke="#222" stroke-width="0.8"/>
<rect x="77.65" y="609.4" width="9.4" height="18.5" fill="#c8082a"/>
<circle cx="82.35" cy="587.3" r="1.45" fill="#111"/>
<circle cx="81.65" cy="598.1" r="1.45" fill="#111"/>
<circle cx="82.36" cy="600.6" r="1.45" fill="#111"/>
<circle cx="82.56" cy="603.1" r="1.45" fill="#111"/>
<circle cx="82.23" cy="606.3" r="1.45" fill="#111"/>
<circle cx="82.63" cy="608" r="1.45" fill="#111"/>
<circle cx="82.47" cy="615.53" r="1.45" fill="#111"/>
<circle cx="79.78" cy="611.46" r="1.45" fill="#111"/>
<circle cx="84.2" cy="612.05" r="1.45" fill="#111"/>
<circle cx="81.37" cy="610.19" r="1.45" fill="#111"/>
<circle cx="82.7" cy="614.43" r="1.45" fill="#111"/>
<circle cx="84.7" cy="614.61" r="1.45" fill="#111"/>
<circle cx="82.8" cy="625.48" r="1.45" fill="#111"/>
<circle cx="84.83" cy="611.46" r="1.45" fill="#111"/>
<circle cx="82.11" cy="623.4" r="1.45" fill="#111"/>
<circle cx="84.89" cy="622" r="1.45" fill="#111"/>
<circle cx="80.56" cy="625.84" r="1.45" fill="#111"/>
<circle cx="84.35" cy="611.62" r="1.45" fill="#111"/>
<circle cx="80.86" cy="612.25" r="1.45" fill="#111"/>
<circle cx="84.08" cy="610.28" r="1.45" fill="#111"/>
<circle cx="80.17" cy="611.84" r="1.45" fill="#111"/>
<circle cx="79.61" cy="617.93" r="1.45" fill="#111"/>
<circle cx="84.06" cy="607.31" r="1.45" fill="#111"/>
<circle cx="85.18" cy="607.56" r="1.45" fill="#111"/>
<circle cx="80.21" cy="609.21" r="1.45" fill="#111"/>
<circle cx="83.94" cy="609.34" r="1.45" fill="#111"/>
<circle cx="83.6" cy="608.11" r="1.45" fill="#111"/>
<line x1="82.35" y1="627.9" x2="82.35" y2="630.2" stroke="#222" stroke-width="0.8"/>
<rect x="92.4" y="601.3" width="9.4" height="26.6" fill="#c8082a"/>
<line x1="97.1" y1="601.3" x2="97.1" y2="588.5" stroke="#111" stroke-width="0.9"/>
<line x1="94.5" y1="588.5" x2="99.7" y2="588.5" stroke="#111" stroke-width="0.9"/>
<circle cx="97.1" cy="565.6" r="1.45" fill="#111"/>
<circle cx="97.1" cy="579.8" r="1.45" fill="#111"/>
<circle cx="98.25" cy="591.3" r="1.45" fill="#111"/>
<circle cx="97.15" cy="595" r="1.45" fill="#111"/>
<circle cx="95.86" cy="598.8" r="1.45" fill="#111"/>
<circle cx="95.84" cy="603.19" r="1.45" fill="#111"/>
<circle cx="99.96" cy="622.14" r="1.45" fill="#111"/>
<circle cx="96.71" cy="606.96" r="1.45" fill="#111"/>
<circle cx="99.9" cy="609.35" r="1.45" fill="#111"/>
<circle cx="95.87" cy="609.09" r="1.45" fill="#111"/>
<circle cx="93.82" cy="610.51" r="1.45" fill="#111"/>
<circle cx="94.64" cy="610.81" r="1.45" fill="#111"/>
<circle cx="96.69" cy="620.27" r="1.45" fill="#111"/>
<circle cx="96.57" cy="625.03" r="1.45" fill="#111"/>
<circle cx="100.37" cy="605.36" r="1.45" fill="#111"/>
<circle cx="93.8" cy="622.06" r="1.45" fill="#111"/>
<circle cx="99.48" cy="626.15" r="1.45" fill="#111"/>
<circle cx="97.54" cy="624" r="1.45" fill="#111"/>
<circle cx="98.52" cy="617.36" r="1.45" fill="#111"/>
<circle cx="93.93" cy="606.59" r="1.45" fill="#111"/>
<circle cx="100.1" cy="615.89" r="1.45" fill="#111"/>
<circle cx="94.73" cy="602.26" r="1.45" fill="#111"/>
<circle cx="97.07" cy="600.78" r="1.45" fill="#111"/>
<circle cx="98.28" cy="601.79" r="1.45" fill="#111"/>
<circle cx="98.78" cy="600.95" r="1.45" fill="#111"/>
<circle cx="96.88" cy="601.92" r="1.45" fill="#111"/>
<line x1="97.1" y1="627.9" x2="97.1" y2="630.2" stroke="#222" stroke-width="0.8"/>
<rect x="122.15" y="611.3" width="9.4" height="16.6" fill="#c8082a"/>
<circle cx="126.69" cy="599.8" r="1.45" fill="#111"/>
<circle cx="126.65" cy="603.2" r="1.45" fill="#111"/>
<circle cx="125.38" cy="605.7" r="1.45" fill="#111"/>
<circle cx="127.71" cy="608.8" r="1.45" fill="#111"/>
<circle cx="127.98" cy="620.08" r="1.45" fill="#111"/>
<circle cx="127.99" cy="616.57" r="1.45" fill="#111"/>
<circle cx="128.12" cy="624.47" r="1.45" fill="#111"/>
<circle cx="129.47" cy="614.75" r="1.45" fill="#111"/>
<circle cx="124.1" cy="614.39" r="1.45" fill="#111"/>
<circle cx="126.83" cy="613.64" r="1.45" fill="#111"/>
<circle cx="125.84" cy="623.99" r="1.45" fill="#111"/>
<circle cx="125.32" cy="619.85" r="1.45" fill="#111"/>
<circle cx="129.99" cy="612.01" r="1.45" fill="#111"/>
<circle cx="126.6" cy="618.22" r="1.45" fill="#111"/>
<circle cx="124.42" cy="620.13" r="1.45" fill="#111"/>
<circle cx="125.54" cy="624.35" r="1.45" fill="#111"/>
<circle cx="124.66" cy="626.24" r="1.45" fill="#111"/>
<circle cx="125.58" cy="616.42" r="1.45" fill="#111"/>
<circle cx="123.95" cy="619" r="1.45" fill="#111"/>
<circle cx="125.69" cy="612.11" r="1.45" fill="#111"/>
<circle cx="124.2" cy="612.87" r="1.45" fill="#111"/>
<circle cx="124.57" cy="610.34" r="1.45" fill="#111"/>
<circle cx="126.98" cy="609.37" r="1.45" fill="#111"/>
<circle cx="129.57" cy="610.26" r="1.45" fill="#111"/>
<circle cx="127.24" cy="609.86" r="1.45" fill="#111"/>
<line x1="126.85" y1="627.9" x2="126.85" y2="630.2" stroke="#222" stroke-width="0.8"/>
<rect x="137.01" y="615.7" width="9.4" height="12.2" fill="#c8082a"/>
<circle cx="141.3" cy="608.1" r="1.45" fill="#111"/>
<circle cx="143.15" cy="610.9" r="1.45" fill="#111"/>
<circle cx="140.75" cy="613.6" r="1.45" fill="#111"/>
<circle cx="141.17" cy="617.8" r="1.45" fill="#111"/>
<circle cx="140.4" cy="617.31" r="1.45" fill="#111"/>
<circle cx="141.64" cy="624.69" r="1.45" fill="#111"/>
<circle cx="144" cy="616.4" r="1.45" fill="#111"/>
<circle cx="143.62" cy="617.24" r="1.45" fill="#111"/>
<circle cx="142.76" cy="616.31" r="1.45" fill="#111"/>
<circle cx="142.42" cy="621.02" r="1.45" fill="#111"/>
<circle cx="143.31" cy="626.4" r="1.45" fill="#111"/>
<circle cx="141.42" cy="618.11" r="1.45" fill="#111"/>
<circle cx="142.56" cy="616.33" r="1.45" fill="#111"/>
<circle cx="139.07" cy="618.81" r="1.45" fill="#111"/>
<circle cx="143.45" cy="621.61" r="1.45" fill="#111"/>
<circle cx="143.11" cy="616.42" r="1.45" fill="#111"/>
<circle cx="139.1" cy="622.24" r="1.45" fill="#111"/>
<circle cx="139.1" cy="622.97" r="1.45" fill="#111"/>
<circle cx="143.71" cy="616.21" r="1.45" fill="#111"/>
<circle cx="144.12" cy="615.7" r="1.45" fill="#111"/>
<circle cx="144.52" cy="616.2" r="1.45" fill="#111"/>
<circle cx="144" cy="615.43" r="1.45" fill="#111"/>
<circle cx="141.33" cy="617.84" r="1.45" fill="#111"/>
<circle cx="142.12" cy="615.58" r="1.45" fill="#111"/>
<line x1="141.71" y1="627.9" x2="141.71" y2="630.2" stroke="#222" stroke-width="0.8"/>
<rect x="151.87" y="614" width="9.4" height="13.9" fill="#c8082a"/>
<circle cx="156.57" cy="600.7" r="1.45" fill="#111"/>
<circle cx="157.53" cy="603.9" r="1.45" fill="#111"/>
<circle cx="156.01" cy="606.7" r="1.45" fill="#111"/>
<circle cx="155.74" cy="609.5" r="1.45" fill="#111"/>
<circle cx="157.6" cy="611.5" r="1.45" fill="#111"/>
<circle cx="156.41" cy="614.96" r="1.45" fill="#111"/>
<circle cx="157.3" cy="619.58" r="1.45" fill="#111"/>
<circle cx="157.43" cy="615.14" r="1.45" fill="#111"/>
<circle cx="158.89" cy="618.78" r="1.45" fill="#111"/>
<circle cx="159.59" cy="614.6" r="1.45" fill="#111"/>
<circle cx="158.64" cy="615.33" r="1.45" fill="#111"/>
<circle cx="158.79" cy="618.87" r="1.45" fill="#111"/>
<circle cx="155.39" cy="615.4" r="1.45" fill="#111"/>
<circle cx="158.41" cy="614.81" r="1.45" fill="#111"/>
<circle cx="154.62" cy="619.24" r="1.45" fill="#111"/>
<circle cx="153.8" cy="615.47" r="1.45" fill="#111"/>
<circle cx="156.97" cy="615.53" r="1.45" fill="#111"/>
<circle cx="157.92" cy="617.96" r="1.45" fill="#111"/>
<circle cx="158.81" cy="614.76" r="1.45" fill="#111"/>
<circle cx="158.15" cy="626.4" r="1.45" fill="#111"/>
<circle cx="158.88" cy="622.51" r="1.45" fill="#111"/>
<circle cx="154.14" cy="613.81" r="1.45" fill="#111"/>
<circle cx="154.05" cy="615.41" r="1.45" fill="#111"/>
<circle cx="156.8" cy="612.03" r="1.45" fill="#111"/>
<circle cx="156.24" cy="615.38" r="1.45" fill="#111"/>
<circle cx="156.88" cy="612.11" r="1.45" fill="#111"/>
<line x1="156.57" y1="627.9" x2="156.57" y2="630.2" stroke="#222" stroke-width="0.8"/>
<rect x="166.73" y="612.9" width="9.4" height="15" fill="#c8082a"/>
<line x1="171.43" y1="612.9" x2="171.43" y2="601.2" stroke="#111" stroke-width="0.9"/>
<line x1="168.83" y1="601.2" x2="174.03" y2="601.2" stroke="#111" stroke-width="0.9"/>
<circle cx="171.43" cy="583.9" r="1.45" fill="#111"/>
<circle cx="172.44" cy="606" r="1.45" fill="#111"/>
<circle cx="170.14" cy="610.2" r="1.45" fill="#111"/>
<circle cx="172.95" cy="625.67" r="1.45" fill="#111"/>
<circle cx="170.95" cy="615.07" r="1.45" fill="#111"/>
<circle cx="169.1" cy="613.56" r="1.45" fill="#111"/>
<circle cx="173.23" cy="620.45" r="1.45" fill="#111"/>
<circle cx="172.73" cy="614.46" r="1.45" fill="#111"/>
<circle cx="171.73" cy="616.42" r="1.45" fill="#111"/>
<circle cx="169.69" cy="623.82" r="1.45" fill="#111"/>
<circle cx="170.93" cy="614.35" r="1.45" fill="#111"/>
<circle cx="170.81" cy="626.4" r="1.45" fill="#111"/>
<circle cx="169.28" cy="623.97" r="1.45" fill="#111"/>
<circle cx="173.8" cy="622.28" r="1.45" fill="#111"/>
<circle cx="169.49" cy="616.25" r="1.45" fill="#111"/>
<circle cx="169.08" cy="613.85" r="1.45" fill="#111"/>
<circle cx="172.06" cy="615.42" r="1.45" fill="#111"/>
<circle cx="169.83" cy="624.63" r="1.45" fill="#111"/>
<circle cx="169.24" cy="625.8" r="1.45" fill="#111"/>
<circle cx="171.43" cy="614.13" r="1.45" fill="#111"/>
<circle cx="173.84" cy="614.96" r="1.45" fill="#111"/>
<circle cx="174.15" cy="610.81" r="1.45" fill="#111"/>
<circle cx="173.62" cy="610.41" r="1.45" fill="#111"/>
<circle cx="171.18" cy="612.22" r="1.45" fill="#111"/>
<line x1="171.43" y1="627.9" x2="171.43" y2="630.2" stroke="#222" stroke-width="0.8"/>
<rect x="181.59" y="617.1" width="9.4" height="10.8" fill="#c8082a"/>
<line x1="186.29" y1="617.1" x2="186.29" y2="607.1" stroke="#111" stroke-width="0.9"/>
<line x1="183.69" y1="607.1" x2="188.89" y2="607.1" stroke="#111" stroke-width="0.9"/>
<circle cx="186.29" cy="587.3" r="1.45" fill="#111"/>
<circle cx="186.29" cy="599.1" r="1.45" fill="#111"/>
<circle cx="185.16" cy="611.5" r="1.45" fill="#111"/>
<circle cx="185.81" cy="614.3" r="1.45" fill="#111"/>
<circle cx="184.61" cy="618.08" r="1.45" fill="#111"/>
<circle cx="184.01" cy="623.05" r="1.45" fill="#111"/>
<circle cx="184.31" cy="619.39" r="1.45" fill="#111"/>
<circle cx="186.23" cy="626.4" r="1.45" fill="#111"/>
<circle cx="185.7" cy="619.05" r="1.45" fill="#111"/>
<circle cx="185.42" cy="624.88" r="1.45" fill="#111"/>
<circle cx="185.51" cy="624.73" r="1.45" fill="#111"/>
<circle cx="188.95" cy="618.68" r="1.45" fill="#111"/>
<circle cx="189.01" cy="617.59" r="1.45" fill="#111"/>
<circle cx="187.87" cy="619.23" r="1.45" fill="#111"/>
<circle cx="183.51" cy="620.36" r="1.45" fill="#111"/>
<circle cx="183.63" cy="617.65" r="1.45" fill="#111"/>
<circle cx="184.22" cy="617.84" r="1.45" fill="#111"/>
<circle cx="184.44" cy="618.76" r="1.45" fill="#111"/>
<circle cx="186.07" cy="623.13" r="1.45" fill="#111"/>
<circle cx="183.21" cy="618.15" r="1.45" fill="#111"/>
<circle cx="187.26" cy="617.36" r="1.45" fill="#111"/>
<circle cx="188.85" cy="615.34" r="1.45" fill="#111"/>
<circle cx="184.54" cy="619.28" r="1.45" fill="#111"/>
<circle cx="184.93" cy="619.23" r="1.45" fill="#111"/>
<circle cx="189.28" cy="617.25" r="1.45" fill="#111"/>
<line x1="186.29" y1="627.9" x2="186.29" y2="630.2" stroke="#222" stroke-width="0.8"/>
<rect x="196.45" y="610.2" width="9.4" height="17.7" fill="#c8082a"/>
<circle cx="201.15" cy="588.6" r="1.45" fill="#111"/>
<circle cx="201.15" cy="595.2" r="1.45" fill="#111"/>
<circle cx="200.42" cy="601.6" r="1.45" fill="#111"/>
<circle cx="201.28" cy="601.6" r="1.45" fill="#111"/>
<circle cx="201.82" cy="604.6" r="1.45" fill="#111"/>
<circle cx="202.62" cy="607.4" r="1.45" fill="#111"/>
<circle cx="201.37" cy="614.21" r="1.45" fill="#111"/>
<circle cx="201.48" cy="614.29" r="1.45" fill="#111"/>
<circle cx="204.4" cy="623.26" r="1.45" fill="#111"/>
<circle cx="204.04" cy="625.37" r="1.45" fill="#111"/>
<circle cx="199.44" cy="611.06" r="1.45" fill="#111"/>
<circle cx="201.56" cy="625.81" r="1.45" fill="#111"/>
<circle cx="201.95" cy="611.65" r="1.45" fill="#111"/>
<circle cx="199.38" cy="625.54" r="1.45" fill="#111"/>
<circle cx="198.99" cy="613.99" r="1.45" fill="#111"/>
<circle cx="199.2" cy="626.4" r="1.45" fill="#111"/>
<circle cx="198.37" cy="612.78" r="1.45" fill="#111"/>
<circle cx="197.95" cy="611.33" r="1.45" fill="#111"/>
<circle cx="201.33" cy="610.91" r="1.45" fill="#111"/>
<circle cx="200.28" cy="613.25" r="1.45" fill="#111"/>
<circle cx="199.93" cy="617.71" r="1.45" fill="#111"/>
<circle cx="199.46" cy="621" r="1.45" fill="#111"/>
<circle cx="201.13" cy="609.55" r="1.45" fill="#111"/>
<circle cx="202.59" cy="609.96" r="1.45" fill="#111"/>
<circle cx="199.82" cy="612.35" r="1.45" fill="#111"/>
<circle cx="202.83" cy="609.43" r="1.45" fill="#111"/>
<circle cx="202.2" cy="610.22" r="1.45" fill="#111"/>
<line x1="201.15" y1="627.9" x2="201.15" y2="630.2" stroke="#222" stroke-width="0.8"/>
<rect x="211.31" y="608.1" width="9.4" height="19.8" fill="#c8082a"/>
<line x1="216.01" y1="608.1" x2="216.01" y2="590" stroke="#111" stroke-width="0.9"/>
<line x1="213.41" y1="590" x2="218.61" y2="590" stroke="#111" stroke-width="0.9"/>
<circle cx="216.01" cy="540.8" r="1.45" fill="#111"/>
<circle cx="216.03" cy="599.1" r="1.45" fill="#111"/>
<circle cx="215.86" cy="603" r="1.45" fill="#111"/>
<circle cx="216.2" cy="603" r="1.45" fill="#111"/>
<circle cx="215.64" cy="603" r="1.45" fill="#111"/>
<circle cx="217.08" cy="605.3" r="1.45" fill="#111"/>
<circle cx="215.68" cy="609.86" r="1.45" fill="#111"/>
<circle cx="216.71" cy="620.71" r="1.45" fill="#111"/>
<circle cx="214.62" cy="624.44" r="1.45" fill="#111"/>
<circle cx="214.72" cy="612.41" r="1.45" fill="#111"/>
<circle cx="213.21" cy="609.61" r="1.45" fill="#111"/>
<circle cx="214.68" cy="615.17" r="1.45" fill="#111"/>
<circle cx="219.05" cy="616.51" r="1.45" fill="#111"/>
<circle cx="217.85" cy="626.4" r="1.45" fill="#111"/>
<circle cx="215.24" cy="612" r="1.45" fill="#111"/>
<circle cx="214.25" cy="624.24" r="1.45" fill="#111"/>
<circle cx="214.33" cy="622.26" r="1.45" fill="#111"/>
<circle cx="216.39" cy="613.93" r="1.45" fill="#111"/>
<circle cx="217.54" cy="625.95" r="1.45" fill="#111"/>
<circle cx="215.02" cy="622.66" r="1.45" fill="#111"/>
<circle cx="218.45" cy="612.28" r="1.45" fill="#111"/>
<circle cx="217.46" cy="616.62" r="1.45" fill="#111"/>
<circle cx="213.6" cy="605.91" r="1.45" fill="#111"/>
<circle cx="215.57" cy="607.14" r="1.45" fill="#111"/>
<circle cx="214.61" cy="609.68" r="1.45" fill="#111"/>
<circle cx="218.53" cy="606.72" r="1.45" fill="#111"/>
<circle cx="213.61" cy="606.54" r="1.45" fill="#111"/>
<line x1="216.01" y1="627.9" x2="216.01" y2="630.2" stroke="#222" stroke-width="0.8"/>
<rect x="226.17" y="613.7" width="9.4" height="14.2" fill="#c8082a"/>
<line x1="230.87" y1="613.7" x2="230.87" y2="606" stroke="#111" stroke-width="0.9"/>
<line x1="228.27" y1="606" x2="233.47" y2="606" stroke="#111" stroke-width="0.9"/>
<circle cx="230.87" cy="585.4" r="1.45" fill="#111"/>
<circle cx="229.73" cy="608.8" r="1.45" fill="#111"/>
<circle cx="230.84" cy="611.6" r="1.45" fill="#111"/>
<circle cx="233.96" cy="618.65" r="1.45" fill="#111"/>
<circle cx="232.79" cy="623.63" r="1.45" fill="#111"/>
<circle cx="228.6" cy="621.32" r="1.45" fill="#111"/>
<circle cx="230.43" cy="625.56" r="1.45" fill="#111"/>
<circle cx="228.23" cy="619.77" r="1.45" fill="#111"/>
<circle cx="233.13" cy="616.24" r="1.45" fill="#111"/>
<circle cx="228.13" cy="614.73" r="1.45" fill="#111"/>
<circle cx="229.88" cy="616.44" r="1.45" fill="#111"/>
<circle cx="230.77" cy="618.46" r="1.45" fill="#111"/>
<circle cx="227.58" cy="615.12" r="1.45" fill="#111"/>
<circle cx="229.57" cy="616.78" r="1.45" fill="#111"/>
<circle cx="231.27" cy="619.12" r="1.45" fill="#111"/>
<circle cx="230.48" cy="621.91" r="1.45" fill="#111"/>
<circle cx="231.84" cy="617.1" r="1.45" fill="#111"/>
<circle cx="231.94" cy="625.44" r="1.45" fill="#111"/>
<circle cx="229.54" cy="614.31" r="1.45" fill="#111"/>
<circle cx="233.65" cy="616.02" r="1.45" fill="#111"/>
<circle cx="229.66" cy="612.26" r="1.45" fill="#111"/>
<circle cx="227.9" cy="611.82" r="1.45" fill="#111"/>
<circle cx="228.3" cy="616.11" r="1.45" fill="#111"/>
<circle cx="233.55" cy="612.89" r="1.45" fill="#111"/>
<line x1="230.87" y1="627.9" x2="230.87" y2="630.2" stroke="#222" stroke-width="0.8"/>
<rect x="241.03" y="611.3" width="9.4" height="16.6" fill="#c8082a"/>
<line x1="245.73" y1="611.3" x2="245.73" y2="598.8" stroke="#111" stroke-width="0.9"/>
<line x1="243.13" y1="598.8" x2="248.33" y2="598.8" stroke="#111" stroke-width="0.9"/>
<circle cx="245.73" cy="578.2" r="1.45" fill="#111"/>
<circle cx="245.73" cy="586.5" r="1.45" fill="#111"/>
<circle cx="245.72" cy="608.8" r="1.45" fill="#111"/>
<circle cx="243.02" cy="623.89" r="1.45" fill="#111"/>
<circle cx="242.75" cy="615.19" r="1.45" fill="#111"/>
<circle cx="243.68" cy="619.63" r="1.45" fill="#111"/>
<circle cx="247.83" cy="614.3" r="1.45" fill="#111"/>
<circle cx="243.44" cy="612.11" r="1.45" fill="#111"/>
<circle cx="247.79" cy="614.2" r="1.45" fill="#111"/>
<circle cx="246.56" cy="616.61" r="1.45" fill="#111"/>
<circle cx="243.95" cy="624.89" r="1.45" fill="#111"/>
<circle cx="243.53" cy="616.16" r="1.45" fill="#111"/>
<circle cx="242.56" cy="622.26" r="1.45" fill="#111"/>
<circle cx="244.73" cy="621.74" r="1.45" fill="#111"/>
<circle cx="243.66" cy="618.25" r="1.45" fill="#111"/>
<circle cx="244.52" cy="625.6" r="1.45" fill="#111"/>
<circle cx="248.62" cy="616.29" r="1.45" fill="#111"/>
<circle cx="244.55" cy="618.64" r="1.45" fill="#111"/>
<circle cx="248.44" cy="613.42" r="1.45" fill="#111"/>
<circle cx="247.04" cy="611.94" r="1.45" fill="#111"/>
<circle cx="246.06" cy="613.41" r="1.45" fill="#111"/>
<circle cx="243.5" cy="610.65" r="1.45" fill="#111"/>
<circle cx="247.61" cy="612.08" r="1.45" fill="#111"/>
<circle cx="246.45" cy="612.09" r="1.45" fill="#111"/>
<line x1="245.73" y1="627.9" x2="245.73" y2="630.2" stroke="#222" stroke-width="0.8"/>
<line x1="111.9" y1="627.9" x2="111.9" y2="630.2" stroke="#222" stroke-width="0.8"/>
<text x="55.25" y="633.8" font-size="7.6" stroke="#222" stroke-width="0.1" text-anchor="end" textLength="21.2" lengthAdjust="spacingAndGlyphs" transform="rotate(-90 55.25 633.8)">Tnaive</text>
<text x="70" y="633.8" font-size="7.6" stroke="#222" stroke-width="0.1" text-anchor="end" textLength="11.6" lengthAdjust="spacingAndGlyphs" transform="rotate(-90 70 633.8)">Teff</text>
<text x="84.75" y="633.8" font-size="7.6" stroke="#222" stroke-width="0.1" text-anchor="end" textLength="13.4" lengthAdjust="spacingAndGlyphs" transform="rotate(-90 84.75 633.8)">Tem</text>
<text x="99.5" y="633.8" font-size="7.6" stroke="#222" stroke-width="0.1" text-anchor="end" textLength="13.4" lengthAdjust="spacingAndGlyphs" transform="rotate(-90 99.5 633.8)">Tcm</text>
<text x="129.25" y="633.8" font-size="7.6" stroke="#222" stroke-width="0.1" text-anchor="end" textLength="21.2" lengthAdjust="spacingAndGlyphs" transform="rotate(-90 129.25 633.8)">Tnaive</text>
<text x="144.11" y="633.8" font-size="7.6" stroke="#222" stroke-width="0.1" text-anchor="end" textLength="11.6" lengthAdjust="spacingAndGlyphs" transform="rotate(-90 144.11 633.8)">Teff</text>
<text x="158.97" y="633.8" font-size="7.6" stroke="#222" stroke-width="0.1" text-anchor="end" textLength="13.4" lengthAdjust="spacingAndGlyphs" transform="rotate(-90 158.97 633.8)">Tem</text>
<text x="173.83" y="633.8" font-size="7.6" stroke="#222" stroke-width="0.1" text-anchor="end" textLength="13.4" lengthAdjust="spacingAndGlyphs" transform="rotate(-90 173.83 633.8)">Tcm</text>
<text x="188.69" y="633.8" font-size="7.6" stroke="#222" stroke-width="0.1" text-anchor="end" textLength="11.4" lengthAdjust="spacingAndGlyphs" transform="rotate(-90 188.69 633.8)">Th1</text>
<text x="203.55" y="633.8" font-size="7.6" stroke="#222" stroke-width="0.1" text-anchor="end" textLength="11.4" lengthAdjust="spacingAndGlyphs" transform="rotate(-90 203.55 633.8)">Th2</text>
<text x="218.41" y="633.8" font-size="7.6" stroke="#222" stroke-width="0.1" text-anchor="end" textLength="11.4" lengthAdjust="spacingAndGlyphs" transform="rotate(-90 218.41 633.8)">Th9</text>
<text x="233.27" y="633.8" font-size="7.6" stroke="#222" stroke-width="0.1" text-anchor="end" textLength="30.1" lengthAdjust="spacingAndGlyphs" transform="rotate(-90 233.27 633.8)">Th17/22</text>
<text x="248.13" y="633.8" font-size="7.6" stroke="#222" stroke-width="0.1" text-anchor="end" textLength="10.6" lengthAdjust="spacingAndGlyphs" transform="rotate(-90 248.13 633.8)">Tfh</text>
<line x1="47.4" y1="663.6" x2="102.4" y2="663.6" stroke="#222" stroke-width="1.1"/>
<line x1="122.1" y1="663.6" x2="250.4" y2="663.6" stroke="#222" stroke-width="1.1"/>
<text x="75" y="673.7" font-size="7.8" stroke="#222" stroke-width="0.1" text-anchor="middle" textLength="39.4" lengthAdjust="spacingAndGlyphs">CD8 T cells</text>
<text x="186.2" y="673.7" font-size="7.8" stroke="#222" stroke-width="0.1" text-anchor="middle" textLength="39.3" lengthAdjust="spacingAndGlyphs">CD4 T cells</text>
<text x="268.2" y="527.8" font-size="11.5" font-weight="bold" fill="#111">H</text>
<line x1="305.5" y1="535.5" x2="305.5" y2="628.3" stroke="#222" stroke-width="1"/>
<line x1="305.5" y1="627.8" x2="512.2" y2="627.8" stroke="#222" stroke-width="1.2"/>
<line x1="302.5" y1="537.4" x2="305.5" y2="537.4" stroke="#222" stroke-width="0.9"/>
<text x="299.1" y="539.95" font-size="7.35" stroke="#222" stroke-width="0.1" text-anchor="end">800</text>
<line x1="302.5" y1="560" x2="305.5" y2="560" stroke="#222" stroke-width="0.9"/>
<text x="299.1" y="562.55" font-size="7.35" stroke="#222" stroke-width="0.1" text-anchor="end">600</text>
<line x1="302.5" y1="582.6" x2="305.5" y2="582.6" stroke="#222" stroke-width="0.9"/>
<text x="299.1" y="585.15" font-size="7.35" stroke="#222" stroke-width="0.1" text-anchor="end">400</text>
<line x1="302.5" y1="605.2" x2="305.5" y2="605.2" stroke="#222" stroke-width="0.9"/>
<text x="299.1" y="607.75" font-size="7.35" stroke="#222" stroke-width="0.1" text-anchor="end">200</text>
<line x1="302.5" y1="627.8" x2="305.5" y2="627.8" stroke="#222" stroke-width="0.9"/>
<text x="299.1" y="630.35" font-size="7.35" stroke="#222" stroke-width="0.1" text-anchor="end">0</text>
<text x="276" y="581.4" font-size="8.9" stroke="#222" stroke-width="0.26" text-anchor="middle" textLength="59.6" lengthAdjust="spacingAndGlyphs" transform="rotate(-90 276 581.4)">Baseline CXCR4 MFI</text>
<rect x="308.45" y="596.3" width="9.4" height="31.5" fill="#17488a"/>
<line x1="313.15" y1="596.3" x2="313.15" y2="580.6" stroke="#111" stroke-width="0.9"/>
<line x1="310.55" y1="580.6" x2="315.75" y2="580.6" stroke="#111" stroke-width="0.9"/>
<circle cx="313.15" cy="543.1" r="1.45" fill="#111"/>
<circle cx="313.15" cy="576.9" r="1.45" fill="#111"/>
<circle cx="313.15" cy="578.8" r="1.45" fill="#111"/>
<circle cx="313.41" cy="585" r="1.45" fill="#111"/>
<circle cx="312.17" cy="595" r="1.45" fill="#111"/>
<circle cx="315.95" cy="624.95" r="1.45" fill="#111"/>
<circle cx="314.23" cy="606.13" r="1.45" fill="#111"/>
<circle cx="311.31" cy="600.03" r="1.45" fill="#111"/>
<circle cx="314.42" cy="601.53" r="1.45" fill="#111"/>
<circle cx="316.26" cy="599.99" r="1.45" fill="#111"/>
<circle cx="311.13" cy="597.97" r="1.45" fill="#111"/>
<circle cx="314.93" cy="598.16" r="1.45" fill="#111"/>
<circle cx="312.96" cy="603.38" r="1.45" fill="#111"/>
<circle cx="314.06" cy="602.38" r="1.45" fill="#111"/>
<circle cx="311.22" cy="604.35" r="1.45" fill="#111"/>
<circle cx="311.86" cy="605.07" r="1.45" fill="#111"/>
<circle cx="315.28" cy="598.42" r="1.45" fill="#111"/>
<circle cx="314.24" cy="613.2" r="1.45" fill="#111"/>
<circle cx="312.45" cy="621.28" r="1.45" fill="#111"/>
<circle cx="312.64" cy="603.7" r="1.45" fill="#111"/>
<circle cx="314.26" cy="604.37" r="1.45" fill="#111"/>
<circle cx="310.19" cy="596.12" r="1.45" fill="#111"/>
<circle cx="313.36" cy="595.53" r="1.45" fill="#111"/>
<circle cx="310.28" cy="597.32" r="1.45" fill="#111"/>
<circle cx="310.21" cy="596.62" r="1.45" fill="#111"/>
<circle cx="311.07" cy="593.97" r="1.45" fill="#111"/>
<line x1="313.15" y1="627.8" x2="313.15" y2="630.1" stroke="#222" stroke-width="0.8"/>
<rect x="323.2" y="618.1" width="9.4" height="9.7" fill="#17488a"/>
<circle cx="327.9" cy="597.5" r="1.45" fill="#111"/>
<circle cx="327.9" cy="605.6" r="1.45" fill="#111"/>
<circle cx="326.77" cy="608.1" r="1.45" fill="#111"/>
<circle cx="328.27" cy="610" r="1.45" fill="#111"/>
<circle cx="326.84" cy="611.9" r="1.45" fill="#111"/>
<circle cx="328.58" cy="615" r="1.45" fill="#111"/>
<circle cx="327.14" cy="622.51" r="1.45" fill="#111"/>
<circle cx="328.34" cy="622.61" r="1.45" fill="#111"/>
<circle cx="328.1" cy="618.55" r="1.45" fill="#111"/>
<circle cx="328.03" cy="622.64" r="1.45" fill="#111"/>
<circle cx="329.45" cy="625.75" r="1.45" fill="#111"/>
<circle cx="326.1" cy="620.36" r="1.45" fill="#111"/>
<circle cx="329.95" cy="618.82" r="1.45" fill="#111"/>
<circle cx="328.62" cy="623.41" r="1.45" fill="#111"/>
<circle cx="327.91" cy="620.9" r="1.45" fill="#111"/>
<circle cx="328.1" cy="619.29" r="1.45" fill="#111"/>
<circle cx="328.7" cy="618.9" r="1.45" fill="#111"/>
<circle cx="329.02" cy="622.75" r="1.45" fill="#111"/>
<circle cx="325.21" cy="619.44" r="1.45" fill="#111"/>
<circle cx="329.14" cy="620.02" r="1.45" fill="#111"/>
<circle cx="329.53" cy="621.53" r="1.45" fill="#111"/>
<circle cx="327.23" cy="620.81" r="1.45" fill="#111"/>
<circle cx="330.35" cy="616.44" r="1.45" fill="#111"/>
<circle cx="326.14" cy="618.54" r="1.45" fill="#111"/>
<circle cx="328.69" cy="617.76" r="1.45" fill="#111"/>
<circle cx="328.25" cy="617.8" r="1.45" fill="#111"/>
<circle cx="328.91" cy="620.04" r="1.45" fill="#111"/>
<line x1="327.9" y1="627.8" x2="327.9" y2="630.1" stroke="#222" stroke-width="0.8"/>
<rect x="337.95" y="622.5" width="9.4" height="5.3" fill="#17488a"/>
<line x1="342.65" y1="622.5" x2="342.65" y2="615" stroke="#111" stroke-width="0.9"/>
<line x1="340.05" y1="615" x2="345.25" y2="615" stroke="#111" stroke-width="0.9"/>
<circle cx="342.65" cy="602.5" r="1.45" fill="#111"/>
<circle cx="342.65" cy="608.1" r="1.45" fill="#111"/>
<circle cx="344.18" cy="611.5" r="1.45" fill="#111"/>
<circle cx="342.51" cy="618.1" r="1.45" fill="#111"/>
<circle cx="344.2" cy="625.59" r="1.45" fill="#111"/>
<circle cx="339.87" cy="623.13" r="1.45" fill="#111"/>
<circle cx="340.15" cy="624.88" r="1.45" fill="#111"/>
<circle cx="345.22" cy="623.76" r="1.45" fill="#111"/>
<circle cx="340.13" cy="626.3" r="1.45" fill="#111"/>
<circle cx="340.82" cy="622.8" r="1.45" fill="#111"/>
<circle cx="339.51" cy="626.3" r="1.45" fill="#111"/>
<circle cx="340.06" cy="623.16" r="1.45" fill="#111"/>
<circle cx="342.8" cy="622.89" r="1.45" fill="#111"/>
<circle cx="342.05" cy="623.04" r="1.45" fill="#111"/>
<circle cx="344.12" cy="625.68" r="1.45" fill="#111"/>
<circle cx="344.54" cy="623.91" r="1.45" fill="#111"/>
<circle cx="344.81" cy="624.71" r="1.45" fill="#111"/>
<circle cx="341.79" cy="623.24" r="1.45" fill="#111"/>
<circle cx="345.59" cy="624.75" r="1.45" fill="#111"/>
<circle cx="342.48" cy="624.97" r="1.45" fill="#111"/>
<circle cx="341.16" cy="621.41" r="1.45" fill="#111"/>
<circle cx="340.94" cy="624.93" r="1.45" fill="#111"/>
<circle cx="344.97" cy="624.47" r="1.45" fill="#111"/>
<circle cx="342.82" cy="623.54" r="1.45" fill="#111"/>
<circle cx="341.43" cy="622.41" r="1.45" fill="#111"/>
<line x1="342.65" y1="627.8" x2="342.65" y2="630.1" stroke="#222" stroke-width="0.8"/>
<rect x="352.7" y="611.9" width="9.4" height="15.9" fill="#17488a"/>
<line x1="357.4" y1="611.9" x2="357.4" y2="603.1" stroke="#111" stroke-width="0.9"/>
<line x1="354.8" y1="603.1" x2="360" y2="603.1" stroke="#111" stroke-width="0.9"/>
<circle cx="357.4" cy="582.5" r="1.45" fill="#111"/>
<circle cx="357.4" cy="595" r="1.45" fill="#111"/>
<circle cx="358.87" cy="600.6" r="1.45" fill="#111"/>
<circle cx="358.59" cy="608.8" r="1.45" fill="#111"/>
<circle cx="358.14" cy="610.6" r="1.45" fill="#111"/>
<circle cx="356.28" cy="613.91" r="1.45" fill="#111"/>
<circle cx="359.42" cy="621.07" r="1.45" fill="#111"/>
<circle cx="355.2" cy="612.56" r="1.45" fill="#111"/>
<circle cx="354.88" cy="624.79" r="1.45" fill="#111"/>
<circle cx="356.28" cy="619.98" r="1.45" fill="#111"/>
<circle cx="359.79" cy="619.8" r="1.45" fill="#111"/>
<circle cx="356.68" cy="618.68" r="1.45" fill="#111"/>
<circle cx="358.2" cy="614.93" r="1.45" fill="#111"/>
<circle cx="356.8" cy="619.49" r="1.45" fill="#111"/>
<circle cx="357.64" cy="616.85" r="1.45" fill="#111"/>
<circle cx="355.29" cy="614.21" r="1.45" fill="#111"/>
<circle cx="354.76" cy="618.46" r="1.45" fill="#111"/>
<circle cx="359.39" cy="618.96" r="1.45" fill="#111"/>
<circle cx="355.76" cy="623.35" r="1.45" fill="#111"/>
<circle cx="360.19" cy="616.11" r="1.45" fill="#111"/>
<circle cx="360.64" cy="615.26" r="1.45" fill="#111"/>
<circle cx="355.6" cy="613.6" r="1.45" fill="#111"/>
<circle cx="354.65" cy="612.74" r="1.45" fill="#111"/>
<circle cx="359.23" cy="612.14" r="1.45" fill="#111"/>
<circle cx="358.2" cy="613.97" r="1.45" fill="#111"/>
<circle cx="360.38" cy="610.3" r="1.45" fill="#111"/>
<line x1="357.4" y1="627.8" x2="357.4" y2="630.1" stroke="#222" stroke-width="0.8"/>
<rect x="382.45" y="604.9" width="9.4" height="22.9" fill="#17488a"/>
<line x1="387.15" y1="604.9" x2="387.15" y2="591.3" stroke="#111" stroke-width="0.9"/>
<line x1="384.55" y1="591.3" x2="389.75" y2="591.3" stroke="#111" stroke-width="0.9"/>
<circle cx="387.15" cy="561.6" r="1.45" fill="#111"/>
<circle cx="387.15" cy="588.9" r="1.45" fill="#111"/>
<circle cx="388.36" cy="594.5" r="1.45" fill="#111"/>
<circle cx="386.67" cy="597.9" r="1.45" fill="#111"/>
<circle cx="388.08" cy="600.7" r="1.45" fill="#111"/>
<circle cx="388.6" cy="603.5" r="1.45" fill="#111"/>
<circle cx="388.92" cy="609.09" r="1.45" fill="#111"/>
<circle cx="384.93" cy="609.47" r="1.45" fill="#111"/>
<circle cx="388.81" cy="609.71" r="1.45" fill="#111"/>
<circle cx="388.2" cy="606.8" r="1.45" fill="#111"/>
<circle cx="384.97" cy="609.77" r="1.45" fill="#111"/>
<circle cx="386.4" cy="611.28" r="1.45" fill="#111"/>
<circle cx="389.67" cy="611.91" r="1.45" fill="#111"/>
<circle cx="385.35" cy="624.26" r="1.45" fill="#111"/>
<circle cx="387.89" cy="626.3" r="1.45" fill="#111"/>
<circle cx="389.24" cy="625.54" r="1.45" fill="#111"/>
<circle cx="385.51" cy="613.35" r="1.45" fill="#111"/>
<circle cx="390.44" cy="624.56" r="1.45" fill="#111"/>
<circle cx="384.62" cy="615.74" r="1.45" fill="#111"/>
<circle cx="388.9" cy="621.25" r="1.45" fill="#111"/>
<circle cx="390.29" cy="622.98" r="1.45" fill="#111"/>
<circle cx="388.71" cy="626.07" r="1.45" fill="#111"/>
<circle cx="386.5" cy="605.06" r="1.45" fill="#111"/>
<circle cx="387.18" cy="606.2" r="1.45" fill="#111"/>
<circle cx="387.91" cy="606.53" r="1.45" fill="#111"/>
<circle cx="387.24" cy="605.35" r="1.45" fill="#111"/>
<circle cx="389.93" cy="606.36" r="1.45" fill="#111"/>
<line x1="387.15" y1="627.8" x2="387.15" y2="630.1" stroke="#222" stroke-width="0.8"/>
<rect x="397.31" y="612.5" width="9.4" height="15.3" fill="#17488a"/>
<line x1="402.01" y1="612.5" x2="402.01" y2="601.8" stroke="#111" stroke-width="0.9"/>
<line x1="399.41" y1="601.8" x2="404.61" y2="601.8" stroke="#111" stroke-width="0.9"/>
<circle cx="402.01" cy="573.7" r="1.45" fill="#111"/>
<circle cx="402.01" cy="599" r="1.45" fill="#111"/>
<circle cx="402.68" cy="607" r="1.45" fill="#111"/>
<circle cx="403.29" cy="609.7" r="1.45" fill="#111"/>
<circle cx="400.46" cy="611.8" r="1.45" fill="#111"/>
<circle cx="404.13" cy="625.91" r="1.45" fill="#111"/>
<circle cx="404.03" cy="613.25" r="1.45" fill="#111"/>
<circle cx="399.95" cy="623.05" r="1.45" fill="#111"/>
<circle cx="401.11" cy="626.3" r="1.45" fill="#111"/>
<circle cx="403.02" cy="617.05" r="1.45" fill="#111"/>
<circle cx="403.64" cy="620.89" r="1.45" fill="#111"/>
<circle cx="401.9" cy="614.93" r="1.45" fill="#111"/>
<circle cx="400.52" cy="613.7" r="1.45" fill="#111"/>
<circle cx="399.2" cy="617.62" r="1.45" fill="#111"/>
<circle cx="404.09" cy="615.72" r="1.45" fill="#111"/>
<circle cx="401.57" cy="614.01" r="1.45" fill="#111"/>
<circle cx="403.58" cy="613.19" r="1.45" fill="#111"/>
<circle cx="399.91" cy="613.47" r="1.45" fill="#111"/>
<circle cx="401.63" cy="621.91" r="1.45" fill="#111"/>
<circle cx="402.73" cy="618.57" r="1.45" fill="#111"/>
<circle cx="401.51" cy="617.71" r="1.45" fill="#111"/>
<circle cx="399.93" cy="610.71" r="1.45" fill="#111"/>
<circle cx="400.23" cy="611.22" r="1.45" fill="#111"/>
<circle cx="400.94" cy="614.46" r="1.45" fill="#111"/>
<circle cx="400.29" cy="610.66" r="1.45" fill="#111"/>
<circle cx="400.62" cy="610.66" r="1.45" fill="#111"/>
<line x1="402.01" y1="627.8" x2="402.01" y2="630.1" stroke="#222" stroke-width="0.8"/>
<rect x="412.17" y="622.9" width="9.4" height="4.9" fill="#17488a"/>
<line x1="416.87" y1="622.9" x2="416.87" y2="615.9" stroke="#111" stroke-width="0.9"/>
<line x1="414.27" y1="615.9" x2="419.47" y2="615.9" stroke="#111" stroke-width="0.9"/>
<circle cx="416.87" cy="604.2" r="1.45" fill="#111"/>
<circle cx="416.06" cy="611.8" r="1.45" fill="#111"/>
<circle cx="417.13" cy="618.7" r="1.45" fill="#111"/>
<circle cx="417.91" cy="626.3" r="1.45" fill="#111"/>
<circle cx="415.61" cy="624.5" r="1.45" fill="#111"/>
<circle cx="420.16" cy="623.29" r="1.45" fill="#111"/>
<circle cx="415.22" cy="625.97" r="1.45" fill="#111"/>
<circle cx="418.25" cy="625.06" r="1.45" fill="#111"/>
<circle cx="415.42" cy="626.3" r="1.45" fill="#111"/>
<circle cx="414.81" cy="623.8" r="1.45" fill="#111"/>
<circle cx="419.66" cy="625.03" r="1.45" fill="#111"/>
<circle cx="414.49" cy="625.85" r="1.45" fill="#111"/>
<circle cx="414.07" cy="624.02" r="1.45" fill="#111"/>
<circle cx="416.82" cy="623.34" r="1.45" fill="#111"/>
<circle cx="415.36" cy="623.32" r="1.45" fill="#111"/>
<circle cx="416.36" cy="623.57" r="1.45" fill="#111"/>
<circle cx="415.12" cy="626.3" r="1.45" fill="#111"/>
<circle cx="416.21" cy="625.16" r="1.45" fill="#111"/>
<circle cx="415.54" cy="623.72" r="1.45" fill="#111"/>
<circle cx="418.54" cy="624.61" r="1.45" fill="#111"/>
<circle cx="418.26" cy="624.84" r="1.45" fill="#111"/>
<circle cx="418.24" cy="621.89" r="1.45" fill="#111"/>
<circle cx="415.27" cy="623.23" r="1.45" fill="#111"/>
<circle cx="417.52" cy="624.32" r="1.45" fill="#111"/>
<line x1="416.87" y1="627.8" x2="416.87" y2="630.1" stroke="#222" stroke-width="0.8"/>
<rect x="427.03" y="614.6" width="9.4" height="13.2" fill="#17488a"/>
<line x1="431.73" y1="614.6" x2="431.73" y2="605.6" stroke="#111" stroke-width="0.9"/>
<line x1="429.13" y1="605.6" x2="434.33" y2="605.6" stroke="#111" stroke-width="0.9"/>
<circle cx="431.73" cy="585.7" r="1.45" fill="#111"/>
<circle cx="431.73" cy="601" r="1.45" fill="#111"/>
<circle cx="430.55" cy="608.3" r="1.45" fill="#111"/>
<circle cx="432.74" cy="611.8" r="1.45" fill="#111"/>
<circle cx="430.97" cy="625.03" r="1.45" fill="#111"/>
<circle cx="429.72" cy="616.68" r="1.45" fill="#111"/>
<circle cx="429.85" cy="615.35" r="1.45" fill="#111"/>
<circle cx="434.07" cy="616.07" r="1.45" fill="#111"/>
<circle cx="429.68" cy="615.98" r="1.45" fill="#111"/>
<circle cx="434.48" cy="625.9" r="1.45" fill="#111"/>
<circle cx="430.56" cy="615.44" r="1.45" fill="#111"/>
<circle cx="431.01" cy="626.3" r="1.45" fill="#111"/>
<circle cx="432.99" cy="620.89" r="1.45" fill="#111"/>
<circle cx="428.8" cy="621.18" r="1.45" fill="#111"/>
<circle cx="433.8" cy="622.35" r="1.45" fill="#111"/>
<circle cx="430.71" cy="618.49" r="1.45" fill="#111"/>
<circle cx="434.96" cy="622.35" r="1.45" fill="#111"/>
<circle cx="429.76" cy="626.18" r="1.45" fill="#111"/>
<circle cx="431.66" cy="622.94" r="1.45" fill="#111"/>
<circle cx="434.84" cy="626.3" r="1.45" fill="#111"/>
<circle cx="431.63" cy="616.61" r="1.45" fill="#111"/>
<circle cx="434.04" cy="612.66" r="1.45" fill="#111"/>
<circle cx="431.17" cy="616.83" r="1.45" fill="#111"/>
<circle cx="430.14" cy="614.29" r="1.45" fill="#111"/>
<circle cx="432.5" cy="613.86" r="1.45" fill="#111"/>
<line x1="431.73" y1="627.8" x2="431.73" y2="630.1" stroke="#222" stroke-width="0.8"/>
<rect x="441.89" y="620.1" width="9.4" height="7.7" fill="#17488a"/>
<line x1="446.59" y1="620.1" x2="446.59" y2="609.3" stroke="#111" stroke-width="0.9"/>
<line x1="443.99" y1="609.3" x2="449.19" y2="609.3" stroke="#111" stroke-width="0.9"/>
<circle cx="446.59" cy="595.9" r="1.45" fill="#111"/>
<circle cx="446.59" cy="599.3" r="1.45" fill="#111"/>
<circle cx="446.59" cy="602.8" r="1.45" fill="#111"/>
<circle cx="445.88" cy="614.6" r="1.45" fill="#111"/>
<circle cx="446.9" cy="622.45" r="1.45" fill="#111"/>
<circle cx="446.6" cy="620.59" r="1.45" fill="#111"/>
<circle cx="447" cy="626.3" r="1.45" fill="#111"/>
<circle cx="448.5" cy="622.89" r="1.45" fill="#111"/>
<circle cx="445.11" cy="622.39" r="1.45" fill="#111"/>
<circle cx="444.39" cy="625.76" r="1.45" fill="#111"/>
<circle cx="449.12" cy="626.28" r="1.45" fill="#111"/>
<circle cx="446.7" cy="623.11" r="1.45" fill="#111"/>
<circle cx="444.43" cy="620.5" r="1.45" fill="#111"/>
<circle cx="448.1" cy="625.09" r="1.45" fill="#111"/>
<circle cx="444.2" cy="623.72" r="1.45" fill="#111"/>
<circle cx="449.82" cy="624.64" r="1.45" fill="#111"/>
<circle cx="447.68" cy="626.1" r="1.45" fill="#111"/>
<circle cx="446.09" cy="622.35" r="1.45" fill="#111"/>
<circle cx="443.56" cy="620.76" r="1.45" fill="#111"/>
<circle cx="445.91" cy="626.3" r="1.45" fill="#111"/>
<circle cx="445.92" cy="620.02" r="1.45" fill="#111"/>
<circle cx="449.49" cy="622.17" r="1.45" fill="#111"/>
<circle cx="447.73" cy="621.52" r="1.45" fill="#111"/>
<circle cx="446.75" cy="620.84" r="1.45" fill="#111"/>
<circle cx="448.37" cy="620.92" r="1.45" fill="#111"/>
<line x1="446.59" y1="627.8" x2="446.59" y2="630.1" stroke="#222" stroke-width="0.8"/>
<rect x="456.75" y="619" width="9.4" height="8.8" fill="#17488a"/>
<circle cx="461.45" cy="599" r="1.45" fill="#111"/>
<circle cx="462.84" cy="611.2" r="1.45" fill="#111"/>
<circle cx="461.09" cy="614.5" r="1.45" fill="#111"/>
<circle cx="462.48" cy="617" r="1.45" fill="#111"/>
<circle cx="461.33" cy="620.22" r="1.45" fill="#111"/>
<circle cx="461.73" cy="620.37" r="1.45" fill="#111"/>
<circle cx="460.9" cy="619.48" r="1.45" fill="#111"/>
<circle cx="458.41" cy="620.63" r="1.45" fill="#111"/>
<circle cx="464.17" cy="625.2" r="1.45" fill="#111"/>
<circle cx="462.32" cy="619.74" r="1.45" fill="#111"/>
<circle cx="460.96" cy="622.27" r="1.45" fill="#111"/>
<circle cx="462.51" cy="622.83" r="1.45" fill="#111"/>
<circle cx="460.54" cy="620.39" r="1.45" fill="#111"/>
<circle cx="464.71" cy="622.08" r="1.45" fill="#111"/>
<circle cx="463.28" cy="626.3" r="1.45" fill="#111"/>
<circle cx="464.15" cy="621.67" r="1.45" fill="#111"/>
<circle cx="463.98" cy="626.3" r="1.45" fill="#111"/>
<circle cx="460.86" cy="619.94" r="1.45" fill="#111"/>
<circle cx="461.13" cy="620.11" r="1.45" fill="#111"/>
<circle cx="461.42" cy="625.64" r="1.45" fill="#111"/>
<circle cx="460.43" cy="617.32" r="1.45" fill="#111"/>
<circle cx="459.29" cy="620.61" r="1.45" fill="#111"/>
<circle cx="464.16" cy="620.94" r="1.45" fill="#111"/>
<circle cx="458.47" cy="617.84" r="1.45" fill="#111"/>
<circle cx="459.29" cy="618.82" r="1.45" fill="#111"/>
<line x1="461.45" y1="627.8" x2="461.45" y2="630.1" stroke="#222" stroke-width="0.8"/>
<rect x="471.61" y="621.5" width="9.4" height="6.3" fill="#17488a"/>
<line x1="476.31" y1="621.5" x2="476.31" y2="615.1" stroke="#111" stroke-width="0.9"/>
<line x1="473.71" y1="615.1" x2="478.91" y2="615.1" stroke="#111" stroke-width="0.9"/>
<circle cx="476.31" cy="602.9" r="1.45" fill="#111"/>
<circle cx="476.31" cy="606.1" r="1.45" fill="#111"/>
<circle cx="477.36" cy="619.6" r="1.45" fill="#111"/>
<circle cx="479.23" cy="622.24" r="1.45" fill="#111"/>
<circle cx="475.63" cy="623.63" r="1.45" fill="#111"/>
<circle cx="474.13" cy="624.43" r="1.45" fill="#111"/>
<circle cx="475.79" cy="622.17" r="1.45" fill="#111"/>
<circle cx="477.43" cy="622.3" r="1.45" fill="#111"/>
<circle cx="475.54" cy="623.18" r="1.45" fill="#111"/>
<circle cx="474.47" cy="622.5" r="1.45" fill="#111"/>
<circle cx="478.97" cy="625.15" r="1.45" fill="#111"/>
<circle cx="478.32" cy="622.83" r="1.45" fill="#111"/>
<circle cx="478.03" cy="622.66" r="1.45" fill="#111"/>
<circle cx="476.76" cy="622.34" r="1.45" fill="#111"/>
<circle cx="478.76" cy="623.13" r="1.45" fill="#111"/>
<circle cx="473.72" cy="625.5" r="1.45" fill="#111"/>
<circle cx="476.05" cy="621.9" r="1.45" fill="#111"/>
<circle cx="474.58" cy="622.25" r="1.45" fill="#111"/>
<circle cx="479.22" cy="626.3" r="1.45" fill="#111"/>
<circle cx="473.41" cy="619.11" r="1.45" fill="#111"/>
<circle cx="477.07" cy="623.74" r="1.45" fill="#111"/>
<circle cx="478.64" cy="622.46" r="1.45" fill="#111"/>
<circle cx="477.75" cy="621.41" r="1.45" fill="#111"/>
<circle cx="476.25" cy="623.28" r="1.45" fill="#111"/>
<line x1="476.31" y1="627.8" x2="476.31" y2="630.1" stroke="#222" stroke-width="0.8"/>
<rect x="486.47" y="624.8" width="9.4" height="3" fill="#17488a"/>
<circle cx="491.17" cy="611" r="1.45" fill="#111"/>
<circle cx="491.11" cy="615.7" r="1.45" fill="#111"/>
<circle cx="491.7" cy="619.6" r="1.45" fill="#111"/>
<circle cx="491.55" cy="621.5" r="1.45" fill="#111"/>
<circle cx="493.82" cy="626.3" r="1.45" fill="#111"/>
<circle cx="488.94" cy="626.3" r="1.45" fill="#111"/>
<circle cx="490.87" cy="625.17" r="1.45" fill="#111"/>
<circle cx="494.23" cy="625.53" r="1.45" fill="#111"/>
<circle cx="490.96" cy="626.3" r="1.45" fill="#111"/>
<circle cx="489.37" cy="625.44" r="1.45" fill="#111"/>
<circle cx="493.97" cy="626.15" r="1.45" fill="#111"/>
<circle cx="490.86" cy="625.08" r="1.45" fill="#111"/>
<circle cx="491.89" cy="625.42" r="1.45" fill="#111"/>
<circle cx="488.3" cy="625.23" r="1.45" fill="#111"/>
<circle cx="489.9" cy="626.3" r="1.45" fill="#111"/>
<circle cx="493.86" cy="626.3" r="1.45" fill="#111"/>
<circle cx="493.89" cy="626.08" r="1.45" fill="#111"/>
<circle cx="488.29" cy="626.3" r="1.45" fill="#111"/>
<circle cx="492.24" cy="625.21" r="1.45" fill="#111"/>
<circle cx="487.9" cy="625.77" r="1.45" fill="#111"/>
<circle cx="493.1" cy="625.55" r="1.45" fill="#111"/>
<circle cx="490.78" cy="624.91" r="1.45" fill="#111"/>
<circle cx="489.19" cy="625.05" r="1.45" fill="#111"/>
<circle cx="489.02" cy="625.62" r="1.45" fill="#111"/>
<circle cx="493.82" cy="623.38" r="1.45" fill="#111"/>
<line x1="491.17" y1="627.8" x2="491.17" y2="630.1" stroke="#222" stroke-width="0.8"/>
<rect x="501.33" y="615.7" width="9.4" height="12.1" fill="#17488a"/>
<line x1="506.03" y1="615.7" x2="506.03" y2="604.8" stroke="#111" stroke-width="0.9"/>
<line x1="503.43" y1="604.8" x2="508.63" y2="604.8" stroke="#111" stroke-width="0.9"/>
<circle cx="506.03" cy="588" r="1.45" fill="#111"/>
<circle cx="506.03" cy="596.4" r="1.45" fill="#111"/>
<circle cx="504.53" cy="607.4" r="1.45" fill="#111"/>
<circle cx="507.21" cy="611.9" r="1.45" fill="#111"/>
<circle cx="506.74" cy="613.8" r="1.45" fill="#111"/>
<circle cx="506.36" cy="616.2" r="1.45" fill="#111"/>
<circle cx="508.55" cy="617.31" r="1.45" fill="#111"/>
<circle cx="504.72" cy="624.82" r="1.45" fill="#111"/>
<circle cx="506" cy="621.08" r="1.45" fill="#111"/>
<circle cx="505.59" cy="617.65" r="1.45" fill="#111"/>
<circle cx="505.82" cy="618.7" r="1.45" fill="#111"/>
<circle cx="507.55" cy="626.3" r="1.45" fill="#111"/>
<circle cx="505.06" cy="616.24" r="1.45" fill="#111"/>
<circle cx="507.75" cy="626.3" r="1.45" fill="#111"/>
<circle cx="507" cy="621.18" r="1.45" fill="#111"/>
<circle cx="503.81" cy="622.25" r="1.45" fill="#111"/>
<circle cx="504.56" cy="618.82" r="1.45" fill="#111"/>
<circle cx="507.28" cy="616.98" r="1.45" fill="#111"/>
<circle cx="503.91" cy="616.24" r="1.45" fill="#111"/>
<circle cx="508.63" cy="622.62" r="1.45" fill="#111"/>
<circle cx="508.36" cy="617.83" r="1.45" fill="#111"/>
<circle cx="508.03" cy="613.97" r="1.45" fill="#111"/>
<circle cx="508.52" cy="614.04" r="1.45" fill="#111"/>
<circle cx="505.86" cy="613.62" r="1.45" fill="#111"/>
<circle cx="503.6" cy="616.52" r="1.45" fill="#111"/>
<circle cx="508.07" cy="613.76" r="1.45" fill="#111"/>
<line x1="506.03" y1="627.8" x2="506.03" y2="630.1" stroke="#222" stroke-width="0.8"/>
<line x1="372.7" y1="627.8" x2="372.7" y2="630.1" stroke="#222" stroke-width="0.8"/>
<text x="315.55" y="633.8" font-size="7.6" stroke="#222" stroke-width="0.1" text-anchor="end" textLength="21.2" lengthAdjust="spacingAndGlyphs" transform="rotate(-90 315.55 633.8)">Tnaive</text>
<text x="330.3" y="633.8" font-size="7.6" stroke="#222" stroke-width="0.1" text-anchor="end" textLength="11.6" lengthAdjust="spacingAndGlyphs" transform="rotate(-90 330.3 633.8)">Teff</text>
<text x="345.05" y="633.8" font-size="7.6" stroke="#222" stroke-width="0.1" text-anchor="end" textLength="13.4" lengthAdjust="spacingAndGlyphs" transform="rotate(-90 345.05 633.8)">Tem</text>
<text x="359.8" y="633.8" font-size="7.6" stroke="#222" stroke-width="0.1" text-anchor="end" textLength="13.4" lengthAdjust="spacingAndGlyphs" transform="rotate(-90 359.8 633.8)">Tcm</text>
<text x="389.55" y="633.8" font-size="7.6" stroke="#222" stroke-width="0.1" text-anchor="end" textLength="21.2" lengthAdjust="spacingAndGlyphs" transform="rotate(-90 389.55 633.8)">Tnaive</text>
<text x="404.41" y="633.8" font-size="7.6" stroke="#222" stroke-width="0.1" text-anchor="end" textLength="11.6" lengthAdjust="spacingAndGlyphs" transform="rotate(-90 404.41 633.8)">Teff</text>
<text x="419.27" y="633.8" font-size="7.6" stroke="#222" stroke-width="0.1" text-anchor="end" textLength="13.4" lengthAdjust="spacingAndGlyphs" transform="rotate(-90 419.27 633.8)">Tem</text>
<text x="434.13" y="633.8" font-size="7.6" stroke="#222" stroke-width="0.1" text-anchor="end" textLength="13.4" lengthAdjust="spacingAndGlyphs" transform="rotate(-90 434.13 633.8)">Tcm</text>
<text x="448.99" y="633.8" font-size="7.6" stroke="#222" stroke-width="0.1" text-anchor="end" textLength="11.4" lengthAdjust="spacingAndGlyphs" transform="rotate(-90 448.99 633.8)">Th1</text>
<text x="463.85" y="633.8" font-size="7.6" stroke="#222" stroke-width="0.1" text-anchor="end" textLength="11.4" lengthAdjust="spacingAndGlyphs" transform="rotate(-90 463.85 633.8)">Th2</text>
<text x="478.71" y="633.8" font-size="7.6" stroke="#222" stroke-width="0.1" text-anchor="end" textLength="11.4" lengthAdjust="spacingAndGlyphs" transform="rotate(-90 478.71 633.8)">Th9</text>
<text x="493.57" y="633.8" font-size="7.6" stroke="#222" stroke-width="0.1" text-anchor="end" textLength="30.1" lengthAdjust="spacingAndGlyphs" transform="rotate(-90 493.57 633.8)">Th17/22</text>
<text x="508.43" y="633.8" font-size="7.6" stroke="#222" stroke-width="0.1" text-anchor="end" textLength="10.6" lengthAdjust="spacingAndGlyphs" transform="rotate(-90 508.43 633.8)">Tfh</text>
<line x1="308.1" y1="663.6" x2="363.5" y2="663.6" stroke="#222" stroke-width="1.1"/>
<line x1="383.1" y1="663.6" x2="510.8" y2="663.6" stroke="#222" stroke-width="1.1"/>
<text x="335.8" y="673.7" font-size="7.8" stroke="#222" stroke-width="0.1" text-anchor="middle" textLength="39.2" lengthAdjust="spacingAndGlyphs">CD8 T cells</text>
<text x="446.8" y="673.7" font-size="7.8" stroke="#222" stroke-width="0.1" text-anchor="middle" textLength="39.3" lengthAdjust="spacingAndGlyphs">CD4 T cells</text>
</g>
</svg>
</body></html>
